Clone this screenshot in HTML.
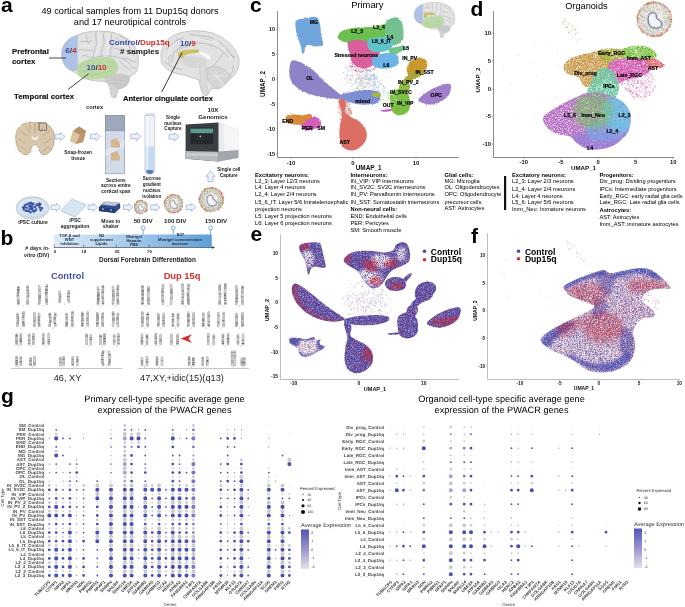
<!DOCTYPE html>
<html><head><meta charset="utf-8"><title>Figure</title>
<style>
html,body{margin:0;padding:0;background:#fff;width:685px;height:607px;overflow:hidden}
svg{display:block;will-change:transform}
text{font-family:"Liberation Sans",sans-serif}
.gp text{text-rendering:geometricPrecision}
</style></head><body>
<svg width="685" height="607" viewBox="0 0 685 607">
<rect width="685" height="607" fill="#fff"/>

<text x="1" y="12" font-size="21" font-weight="bold" fill="#000">a</text>
<text x="0.5" y="245" font-size="21" font-weight="bold" fill="#000">b</text>
<text x="250" y="11.5" font-size="21" font-weight="bold" fill="#000">c</text>
<text x="470.5" y="15.5" font-size="21" font-weight="bold" fill="#000">d</text>
<text x="250.5" y="240.5" font-size="21" font-weight="bold" fill="#000">e</text>
<text x="471" y="243" font-size="21" font-weight="bold" fill="#000">f</text>
<text x="1" y="403" font-size="21" font-weight="bold" fill="#000">g</text>
<text x="130" y="13.9" font-size="9.2" text-anchor="middle" fill="#000">49 cortical samples from 11 Dup15q donors</text>
<text x="130" y="24.9" font-size="9.2" text-anchor="middle" fill="#000">and 17 neurotipical controls</text>
<defs><g id="br1">
<path d="M61.6,55 C61.5,46 66,39 76,35.5 C86,31 98,30.5 108,31.5 C120,33 130,39 135,47 C139,54 139.5,63 137,70 C135,74 132,76 129,77 C130,82 126,88 119,88.5 C117,92 116,96 115.5,97.8 C113.5,98.2 111.8,97 111.2,95 C110.6,91 110,87 108.5,84 C106,82 104,81 100,81 C94,81 88,80 84,78 C79,76 76,73 72,71 C67,69 62,64 61.6,55 Z" fill="#e2e2e2" stroke="#b3b3b3" stroke-width="0.7"/>
<g fill="none" stroke="#b8b8b8" stroke-width="0.8" stroke-linecap="round">
<path d="M104,32 C102,38 106,42 103,47 C101,51 102,54 100,57"/>
<path d="M96,32 C95,38 98,43 95,48 C93,52 95,55 93,58"/>
<path d="M112,33 C110,39 114,44 111,49 C109,53 112,56 110,58"/>
<path d="M80,42 C84,40 88,43 92,41"/><path d="M79,50 C84,48 87,52 92,50"/><path d="M82,56 C86,54 88,58 92,57"/>
<path d="M86,35 C88,38 86,41 89,44"/>
<path d="M116,38 C120,40 122,44 126,43"/><path d="M114,48 C118,50 122,48 127,52"/>
<path d="M128,44 C131,48 130,52 134,55"/><path d="M124,58 C128,58 131,62 136,62"/>
<path d="M120,36 C124,37 127,40 130,41"/><path d="M130,66 C132,68 134,67 136,69"/>
<path d="M92,58 C100,56 108,55 116,57 C122,58 126,60 130,64"/>
<path d="M120,62 C124,64 126,68 130,70"/>
</g>
<g fill="none" stroke="#f4f4f4" stroke-width="0.8" stroke-linecap="round">
<path d="M99,33 C98,39 101,43 98,48 C97,51 98,54 96,56"/><path d="M108,33 C106,39 110,44 107,49 C106,52 107,55 105,57"/>
<path d="M82,46 C85,44 88,47 92,45"/><path d="M119,44 C122,46 125,46 128,48"/><path d="M126,52 C129,55 131,58 134,58"/>
</g>
<path d="M104,75.5 C110,73.5 122,73.5 129,76.5 C130.5,82 126,88 119,88.5 C112,88 106,84 104,75.5 Z" fill="#cdcdcd" stroke="#b5b5b5" stroke-width="0.5"/>
<path d="M105,78 C112,76.5 121,76.5 128.5,79 M106,81 C113,79.5 121,79.5 128,82 M109,84 C114,83 120,83 126,85" stroke="#b3b3b3" stroke-width="0.45" fill="none"/>
<path d="M108.5,83.5 C110,88 111,93 111.4,97 L115.4,97.6 C115.4,93 116,89 117.2,86 Z" fill="#d5d5d5" stroke="#b8b8b8" stroke-width="0.4"/>
<path d="M61.6,55 C61.5,46 66,39 76,35.5 L77.8,35.2 L77.8,70.6 C75,70.9 73.5,71.2 72,71 C67,69 62,64 61.6,55 Z" fill="#a8bfe4" opacity="0.92"/>
<path d="M77.5,66 C79,61 90,58.5 100,57.5 C107,56.5 112,56.5 115,60 C118,63 119,68 117.5,71 C115,75 108,77.5 100,79 C93,80 86,80 81,77.5 C77.5,75.5 76.5,70 77.5,66 Z" fill="#b6d7a0" opacity="0.93"/>
<path d="M80,72 C88,70 98,70 112,66 M84,76 C92,75 102,73 112,71" stroke="#a6c98f" stroke-width="0.5" fill="none"/>
</g></defs>
<use href="#br1"/>
<text x="65.2" y="52.6" font-size="8" font-weight="bold"><tspan fill="#3b4aa8">6</tspan><tspan fill="#333">/</tspan><tspan fill="#d42a2a">4</tspan></text>
<text x="86.5" y="70" font-size="8" font-weight="bold"><tspan fill="#3b4aa8">10</tspan><tspan fill="#333">/</tspan><tspan fill="#d42a2a">10</tspan></text>
<text x="120" y="54" font-size="8.1" font-weight="bold" fill="#111"># samples</text>
<text x="12" y="54" font-size="7.8" font-weight="bold" fill="#111" stroke="#111" stroke-width="0.15">Prefrontal</text>
<text x="12" y="63.5" font-size="7.8" font-weight="bold" fill="#111" stroke="#111" stroke-width="0.15">cortex</text>
<line x1="49" y1="58" x2="66" y2="58" stroke="#333" stroke-width="0.9"/>
<text x="14" y="98.8" font-size="7.8" font-weight="bold" fill="#111" stroke="#111" stroke-width="0.15">Temporal cortex</text>
<line x1="68" y1="89.5" x2="88.6" y2="73.7" stroke="#333" stroke-width="0.9"/>
<g>
<path d="M161,58 C160,46 168,36 180,33 C190,30 202,30 212,33 C224,37 234,45 238,56 C241,64 238,72 232,77 C230,80 227,82 224,84 C222,88 218,90 212,88 C209,92 208,95 206,96 C202,94 200,88 199,80 C194,78 190,77 184,75 C177,74 170,72 166,68 C162,65 161,62 161,58 Z" fill="#e2e2e2" stroke="#b3b3b3" stroke-width="0.7"/>
<path d="M207,68 C214,64 224,67 230,74 C230,80 226,86 219,88 C213,88 208,83 207,76 Z" fill="#d4d4d4" stroke="#bdbdbd" stroke-width="0.5"/>
<path d="M210,70 L224,84 M214,68 L222,86 M208,76 L228,76 M209,82 L228,71" stroke="#f0f0f0" stroke-width="0.6" fill="none"/>
<path d="M198,64 C201,70 200,82 203,95 L208,95 C207,86 206,74 206,64 Z" fill="#dadada" stroke="#c0c0c0" stroke-width="0.5"/>
<path d="M180,58 C186,55 200,56 206,60 C208,64 204,68 196,68 C188,68 182,66 180,58 Z" fill="#d6d6d6"/>
<g fill="none" stroke="#b8b8b8" stroke-width="0.8" stroke-linecap="round">
<path d="M172,62 C171,50 182,43 196,43 C210,43 222,48 229,58"/>
<path d="M166,50 C170,44 176,40 184,37"/><path d="M190,34.5 C198,35.5 206,35.5 214,38.5"/><path d="M218,41 C224,45 230,51 234,59"/>
<path d="M165,62 C169,66 175,68 181,69.5"/><path d="M233,65 C234,70 232,74 229,77"/><path d="M176,52 C179,48 184,47 188,46.5"/>
<path d="M223,53 C221,58 217,62 213,66"/><path d="M170,55 C168,58 168,61 170,64"/><path d="M200,38 C204,40 208,39 212,41"/>
<path d="M176,38 C178,40 182,41 186,40"/><path d="M226,50 C228,54 231,56 235,57"/>
</g>
<g fill="none" stroke="#f3f3f3" stroke-width="0.8" stroke-linecap="round">
<path d="M168,56 C169,48 176,42 186,40"/><path d="M194,39 C202,39 210,40 218,44"/><path d="M222,47 C226,51 229,55 231,60"/>
</g>
<path d="M196,51 C202,51 208,53 211,58 C210,60 208,60 206,58 C203,55 199,54 196,54 Z" fill="#fafafa"/>
<path d="M178,53 C180,50 188,49 199,49.5 L199,53 C190,53 184,54 183,58 L178,57 Z" fill="#c9c16a"/>
</g>
<text x="180" y="46.2" font-size="8" font-weight="bold"><tspan fill="#3b4aa8">10</tspan><tspan fill="#333">/</tspan><tspan fill="#d42a2a">9</tspan></text>
<line x1="161.7" y1="92" x2="182" y2="52.7" stroke="#222" stroke-width="0.9"/>
<text x="123" y="100.7" font-size="7.6" font-weight="bold" fill="#111" stroke="#111" stroke-width="0.15">Anterior cingulate cortex</text>
<text x="109" y="45" font-size="8.1" font-weight="bold"><tspan fill="#3b4aa8">Control</tspan><tspan fill="#333">/</tspan><tspan fill="#d42a2a">Dup15q</tspan></text>
<text x="86" y="109.4" font-size="5.7" font-weight="bold" fill="#222">cortex</text>
<g>
<path d="M35,123 C40,121.5 46,123 49.5,126 C52.5,128.5 54,132 54.2,136 C54.5,140 54,144 52.5,147.5 C51,151 48.5,154 45,154.7 C42,155 40,153 39.3,150 C38.8,147.5 37.5,145 35,144.5 C32.5,145 31.2,147.5 30.7,150 C30,153 28,155 25,154.7 C21.5,154 19,151 17.5,147.5 C16,144 15.5,140 15.8,136 C16,132 17.5,128.5 20.5,126 C24,123 30,121.5 35,123 Z" fill="#d9c7ad" stroke="#b79b78" stroke-width="0.8" filter="url(#rough)"/>
<path d="M35,123.5 L35,133 M21,131 C24,132 24,135 27,136 M49,131 C46,132 46,135 43,136 M18.5,139 C21.5,139 22,142 25,143 M51.5,139 C48.5,139 48,142 45,143 M26,126 C28,128 28,131 30,132 M44,126 C42,128 42,131 40,132 M21,147 C23.5,147 25,149 26,151 M49,147 C46.5,147 45,149 44,151 M30,125 L31,129 M40,125 L39,129" stroke="#b3966f" stroke-width="0.7" fill="none" stroke-linecap="round"/>
<path d="M31.5,135.5 L34.5,138.5 L35,137.2 L35.5,138.5 L38.5,135.5 L37.5,138.8 L35,140.3 L32.5,138.8 Z" fill="#fff"/>
<rect x="39" y="123" width="7.6" height="7.2" fill="none" stroke="#444" stroke-width="0.6"/>
</g>
<path d="M55,134.26 L60.5,134.26 L60.5,132.5 L65,136.5 L60.5,140.5 L60.5,138.74 L55,138.74 Z" fill="#eef3fb" stroke="#8fa9dc" stroke-width="0.7" stroke-linejoin="round"/>
<g>
<path d="M73,131 L79,126.5 L86,131 L83,142 L76,144 L70,141 Z" fill="#c7a57f"/>
<path d="M73,131 L79,126.5 L86,131 L80,135 Z" fill="#b48f68"/>
<path d="M70,141 L73,131 L80,135 L76,144 Z" fill="#dcc4a2"/>
<path d="M80,135 L86,131 L83,142 L76,144 Z" fill="#bb9671"/>
</g>
<text x="78.2" y="153.8" font-size="4.8" font-weight="bold" text-anchor="middle" fill="#222">Snap-frozen</text>
<text x="78.2" y="159.5" font-size="4.8" font-weight="bold" text-anchor="middle" fill="#222">tissue</text>
<path d="M90.5,134.26 L96.0,134.26 L96.0,132.5 L100.5,136.5 L96.0,140.5 L96.0,138.74 L90.5,138.74 Z" fill="#eef3fb" stroke="#8fa9dc" stroke-width="0.7" stroke-linejoin="round"/>
<g>
<rect x="105.3" y="115.3" width="19.3" height="58.5" fill="#d3dae8" stroke="#7f8cab" stroke-width="0.6"/>
<rect x="105.3" y="115.3" width="19.3" height="15.5" fill="#9ea8bd" stroke="#7f8cab" stroke-width="0.6"/>
<path d="M105.5,150 L124.5,140 L124.5,146 L105.5,156 Z" fill="#e9edf4" opacity="0.7"/>
<path d="M111,140 L117,138 L120,144 L120,147.5 L111,147.5 Z" fill="#d3b690"/>
<path d="M111,153 L117,151 L120,157 L120,160.5 L111,160.5 Z" fill="#d3b690"/>
</g>
<text x="115.8" y="181.7" font-size="4.75" font-weight="bold" text-anchor="middle" fill="#222">Sections</text>
<text x="115.8" y="187.2" font-size="4.75" font-weight="bold" text-anchor="middle" fill="#222">across entire</text>
<text x="115.8" y="192.7" font-size="4.75" font-weight="bold" text-anchor="middle" fill="#222">cortical span</text>
<path d="M130.7,134.26 L136.2,134.26 L136.2,132.5 L140.7,136.5 L136.2,140.5 L136.2,138.74 L130.7,138.74 Z" fill="#eef3fb" stroke="#8fa9dc" stroke-width="0.7" stroke-linejoin="round"/>
<g>
<path d="M144.9,115 L144.9,170 C144.9,176 154.7,176 154.7,170 L154.7,115 Z" fill="#eef2f7" stroke="#b3bfcc" stroke-width="0.6"/>
<path d="M145.2,146.5 L154.4,146.5 L154.4,170 C154.4,175.6 145.2,175.6 145.2,170 Z" fill="#c3dbf0"/>
<path d="M146,171 C147,169.5 152.6,169.5 153.6,171 C153,174.8 146.6,174.8 146,171 Z" fill="#5a78b8"/>
<ellipse cx="149.8" cy="114.6" rx="5" ry="1" fill="#dfe6ee" stroke="#b3bfcc" stroke-width="0.5"/>
<rect x="146.5" y="117" width="1.5" height="52" fill="#ffffff" opacity="0.7"/>
</g>
<text x="151.8" y="180.4" font-size="4.6" font-weight="bold" text-anchor="middle" fill="#222">Sucrose</text>
<text x="151.8" y="186.2" font-size="4.6" font-weight="bold" text-anchor="middle" fill="#222">gradient</text>
<text x="151.8" y="192" font-size="4.6" font-weight="bold" text-anchor="middle" fill="#222">nucleus</text>
<text x="151.8" y="197.8" font-size="4.6" font-weight="bold" text-anchor="middle" fill="#222">isolation</text>
<text x="173" y="119" font-size="4.6" font-weight="bold" text-anchor="middle" fill="#222">Single</text>
<text x="173" y="124.7" font-size="4.6" font-weight="bold" text-anchor="middle" fill="#222">nucleus</text>
<text x="173" y="130.4" font-size="4.6" font-weight="bold" text-anchor="middle" fill="#222">Capture</text>
<path d="M169,134.56 L174.5,134.56 L174.5,132.8 L179,136.8 L174.5,140.8 L174.5,139.04000000000002 L169,139.04000000000002 Z" fill="#eef3fb" stroke="#8fa9dc" stroke-width="0.7" stroke-linejoin="round"/>
<text x="213" y="112.3" font-size="6.1" font-weight="bold" text-anchor="middle" fill="#222">10X</text>
<text x="213" y="118.7" font-size="6.1" font-weight="bold" text-anchor="middle" fill="#222">Genomics</text>
<g>
<path d="M218.5,122.4 L223,123 L238.5,129.5 L238.5,158 L218.5,161.6 Z" fill="#e9eaec"/>
<path d="M223,123 L238.5,129.5 L238.5,158 L225,160 Z" fill="#f6f6f6"/>
<path d="M218.5,151.5 L238.5,150 L238.5,158 L218.5,161.6 Z" fill="#a2a7ad"/>
<path d="M185.6,124.5 L218.5,122.4 L218.5,161.6 L185.6,158.8 Z" fill="#3b3e42"/>
<path d="M185.6,151 L218.5,151.8 L218.5,161.6 L185.6,158.8 Z" fill="#b7bbc0"/>
<path d="M186.5,153 L218,153.5 L218,156 L186.5,155.5 Z" fill="#c9cdd1"/>
<rect x="190.5" y="127.5" width="22.5" height="16.6" fill="#25292b"/>
<rect x="190.5" y="128.6" width="22.5" height="4.6" fill="#5b9a91"/>
<circle cx="200.3" cy="136.4" r="3" fill="#1c1f21" stroke="#4b5053" stroke-width="0.5"/>
<circle cx="200.3" cy="136.4" r="0.9" fill="#cfd3d6"/>
</g>
<path d="M207.98,181.5 L207.98,176.25 L206.0,176.25 L210.5,171 L215.0,176.25 L213.02,176.25 L213.02,181.5 Z" fill="#eef3fb" stroke="#8fa9dc" stroke-width="0.7" stroke-linejoin="round"/>
<text x="228.8" y="171.3" font-size="4.7" font-weight="bold" text-anchor="middle" fill="#222">Single cell</text>
<text x="228.8" y="177" font-size="4.7" font-weight="bold" text-anchor="middle" fill="#222">Capture</text>
<g>
<ellipse cx="32.5" cy="208" rx="16.4" ry="11.2" fill="#e6eef6" stroke="#9fb3c8" stroke-width="0.7"/>
<ellipse cx="32.5" cy="206.5" rx="14.6" ry="8.6" fill="#dde8f2" stroke="#b3c4d6" stroke-width="0.5"/>
<path d="M16.2,208 C16.5,214 23,219 32.5,219.2 C42,219 48.5,214 48.8,208 C47,213 40,216 32.5,216 C25,216 18,213 16.2,208 Z" fill="#cbd8e6"/>
</g>
<path d="M33.6 211.6h0M27.7 210.7h0M31.2 206.9h0M42.1 208.2h0M32.7 210.3h0M39.9 207.7h0M36.6 204.7h0M30.5 206.3h0M26.8 204.2h0M24.5 207.2h0M31.8 206.6h0M33.4 203.8h0M32.4 208.7h0M37.6 205.1h0M31.2 203.0h0M30.9 202.9h0M25.9 210.7h0M23.9 209.5h0M35.3 206.7h0M36.1 209.6h0M39.4 207.1h0M29.2 205.8h0M26.8 207.7h0M28.5 211.0h0M24.8 205.3h0M29.0 203.2h0M39.2 203.7h0M31.1 206.0h0M39.3 203.9h0M39.2 205.6h0M32.0 205.5h0M36.7 204.4h0M32.5 209.1h0M39.0 203.7h0M40.6 210.3h0M29.7 208.9h0M30.6 212.2h0M34.5 207.0h0M31.4 207.1h0M31.9 204.9h0M40.3 204.3h0M23.0 207.6h0M32.0 209.1h0M31.6 207.3h0M35.1 210.9h0M30.0 206.5h0" stroke="#3e56a8" stroke-width="2.50" stroke-linecap="round" fill="none"/>
<text x="33" y="224.4" font-size="5.0" font-weight="bold" text-anchor="middle" fill="#222">iPSC culture</text>
<path d="M51,205.06 L56.39,205.06 L56.39,203.3 L60.8,207.3 L56.39,211.3 L56.39,209.54000000000002 L51,209.54000000000002 Z" fill="#eef3fb" stroke="#8fa9dc" stroke-width="0.7" stroke-linejoin="round"/>
<g>
<path d="M60.8,210 L72,199 L86.2,204.5 L75,216.5 Z" fill="#dbe9f4" stroke="#a9c2d8" stroke-width="0.6"/>
<path d="M60.8,210 L75,216.5 L75,217.8 L60.8,211.3 Z" fill="#b9cfe2"/>
<path d="M75,216.5 L86.2,204.5 L86.2,205.8 L75,217.8 Z" fill="#c8dae9"/>
<g stroke="#bcd2e6" stroke-width="0.3">
<line x1="63.5" y1="207.5" x2="77.5" y2="213.8"/><line x1="66" y1="205" x2="80" y2="211.3"/><line x1="68.5" y1="202.5" x2="82.5" y2="208.8"/><line x1="71" y1="200" x2="85" y2="206.3"/>
<line x1="64" y1="211.5" x2="75" y2="200.3"/><line x1="67.5" y1="213" x2="78.5" y2="201.7"/><line x1="71" y1="214.6" x2="82" y2="203.1"/>
</g></g>
<text x="75" y="222.2" font-size="5.0" font-weight="bold" text-anchor="middle" fill="#222">iPSC</text>
<text x="75" y="227.6" font-size="5.0" font-weight="bold" text-anchor="middle" fill="#222">aggregation</text>
<path d="M88,205.06 L93.225,205.06 L93.225,203.3 L97.5,207.3 L93.225,211.3 L93.225,209.54000000000002 L88,209.54000000000002 Z" fill="#eef3fb" stroke="#8fa9dc" stroke-width="0.7" stroke-linejoin="round"/>
<g>
<path d="M99,207 L104,202 L120,203.5 L120.3,208 L115,213 L99,211 Z" fill="#2d4a8c"/>
<path d="M101,204.5 L106,201.5 L119.5,202.8 L115,206 Z" fill="#c3c9d3" stroke="#8f99a8" stroke-width="0.4"/>
<path d="M99,207 L115,209 L115,213 L99,211 Z" fill="#243c74"/>
<circle cx="103" cy="209" r="0.9" fill="#9fb0d0"/><circle cx="111" cy="210" r="0.9" fill="#9fb0d0"/>
</g>
<text x="110.8" y="223" font-size="5.0" font-weight="bold" text-anchor="middle" fill="#222">Move to</text>
<text x="110.8" y="228.4" font-size="5.0" font-weight="bold" text-anchor="middle" fill="#222">shaker</text>
<path d="M123.5,205.06 L128.725,205.06 L128.725,203.3 L133.0,207.3 L128.725,211.3 L128.725,209.54000000000002 L123.5,209.54000000000002 Z" fill="#eef3fb" stroke="#8fa9dc" stroke-width="0.7" stroke-linejoin="round"/>
<g><circle cx="141" cy="207" r="6.8" fill="#f1ece4"/><path d="M135.4 208.7h0M136.5 203.9h0M140.1 203.7h0M145.3 208.2h0M146.3 207.5h0M138.9 202.0h0M135.2 210.2h0M144.7 209.4h0M135.4 203.4h0M147.0 207.8h0M146.7 204.5h0M145.2 205.9h0M141.1 201.8h0M143.6 202.3h0M138.1 201.5h0M138.6 210.4h0M138.4 200.9h0M144.4 211.6h0M137.5 212.6h0M138.7 211.8h0M146.7 208.4h0M141.5 201.8h0M143.6 203.1h0M135.7 205.9h0M136.5 207.8h0M145.1 208.2h0M135.3 209.1h0" stroke="#e8b0a0" stroke-width="0.72" stroke-linecap="round" fill="none"/><path d="M134.8 208.9h0M145.4 208.7h0M135.0 209.4h0M139.6 202.0h0M135.9 209.8h0M141.2 202.7h0M142.3 202.6h0M146.0 210.2h0M139.2 211.5h0M140.3 202.5h0M139.7 213.5h0M136.5 203.6h0M143.1 201.0h0M145.3 210.7h0M137.6 202.8h0M147.4 208.0h0M146.9 205.4h0M136.0 211.0h0M135.1 208.4h0M139.0 212.0h0M144.6 202.2h0M134.7 205.4h0M144.6 204.0h0M144.4 204.1h0M135.0 205.3h0M134.8 206.9h0M143.8 210.7h0M136.3 209.4h0M137.6 211.1h0M140.0 202.2h0M145.1 212.3h0M147.0 205.2h0M140.1 212.9h0M136.8 202.3h0M146.5 205.3h0" stroke="#e0a0c8" stroke-width="0.72" stroke-linecap="round" fill="none"/><path d="M143.3 212.3h0M137.6 202.1h0M136.6 208.5h0M144.6 207.0h0M145.1 211.2h0M144.1 203.5h0M137.2 208.3h0M139.8 212.7h0M147.0 206.3h0M145.7 209.1h0M140.5 200.4h0M144.7 211.7h0M145.8 205.4h0M134.5 205.3h0M143.9 201.9h0M140.3 212.6h0M136.1 202.5h0M137.1 210.8h0M134.6 205.8h0M137.8 212.2h0M136.9 211.7h0" stroke="#bdbdbd" stroke-width="0.72" stroke-linecap="round" fill="none"/><path d="M145.3 209.9h0M136.4 202.5h0M137.4 202.6h0M136.1 208.3h0M137.3 206.7h0M141.9 202.1h0M135.9 211.0h0M143.6 202.3h0M136.6 203.7h0M139.8 211.5h0M145.0 211.0h0M145.8 209.9h0M138.5 209.4h0M135.0 209.4h0M144.4 201.4h0M142.2 200.7h0M146.3 210.8h0M142.5 213.4h0M137.3 207.3h0M146.4 205.1h0M136.8 204.9h0M134.5 205.1h0M134.8 207.3h0M145.9 210.8h0M146.7 203.4h0M145.1 211.6h0M142.7 202.3h0M144.6 206.5h0M146.8 205.8h0M136.8 202.1h0" stroke="#a8d890" stroke-width="0.72" stroke-linecap="round" fill="none"/><path d="M134.6 205.4h0M144.2 208.4h0M142.5 213.5h0M146.2 203.7h0M144.8 203.0h0M136.4 204.8h0M143.2 202.6h0M141.2 201.2h0M144.8 211.1h0M140.5 213.2h0M135.0 206.9h0M139.0 200.5h0M139.0 200.7h0M136.0 210.5h0M142.8 201.7h0M144.8 205.1h0M138.2 204.9h0M137.7 204.4h0M147.6 206.6h0M135.2 205.1h0M137.7 201.6h0M145.9 207.4h0M136.4 208.3h0" stroke="#8cc878" stroke-width="0.72" stroke-linecap="round" fill="none"/><path d="M135.8 203.3h0M140.7 213.3h0M145.1 207.0h0M142.8 200.6h0M144.9 203.3h0M142.1 211.3h0M135.3 209.0h0M143.2 211.5h0M136.8 211.1h0M146.7 206.2h0M137.6 208.6h0M141.7 213.2h0M145.2 204.0h0M145.8 210.3h0M139.3 201.2h0M136.7 205.0h0M144.5 210.9h0M142.3 211.5h0M139.6 211.0h0M147.4 209.1h0M138.2 210.6h0M142.3 201.1h0" stroke="#90b8e0" stroke-width="0.72" stroke-linecap="round" fill="none"/><path d="M135.7 210.8h0M134.4 208.3h0M139.7 210.3h0M136.3 209.6h0M141.0 203.0h0M144.9 202.5h0M145.6 202.7h0M136.1 207.1h0M138.6 202.9h0M146.7 210.5h0M137.3 206.1h0M146.1 204.6h0M136.8 206.3h0M143.8 210.1h0M146.3 210.7h0M139.1 210.7h0M140.8 200.6h0M141.7 200.7h0M137.1 202.2h0M140.7 202.1h0M134.7 206.8h0M145.8 203.7h0M135.9 211.4h0M135.3 205.5h0M146.2 205.2h0M137.3 203.0h0M145.9 208.7h0M146.9 209.9h0M137.6 204.4h0M136.1 203.4h0" stroke="#9fd086" stroke-width="0.72" stroke-linecap="round" fill="none"/><path d="M136.8 209.3h0M145.4 201.9h0M145.4 210.6h0M141.5 213.2h0M146.3 209.9h0M135.3 206.3h0M140.9 210.5h0M138.2 212.8h0M143.7 204.3h0M138.0 211.6h0M141.3 201.5h0M134.6 206.1h0M139.5 211.2h0M142.7 211.5h0M143.1 211.0h0M141.8 213.7h0M146.0 207.3h0M136.7 203.9h0M136.0 207.5h0M135.3 207.7h0" stroke="#d8b0d8" stroke-width="0.72" stroke-linecap="round" fill="none"/><path d="M145.5 202.7h0M147.0 209.4h0M135.0 210.0h0M146.3 211.0h0M146.7 209.8h0M138.0 201.1h0M136.6 202.2h0M134.7 207.9h0M137.2 212.6h0M144.3 201.6h0M146.0 211.7h0M136.2 202.2h0M142.5 213.4h0M140.7 213.8h0M136.4 211.9h0M147.5 206.6h0M134.5 205.0h0M146.8 203.9h0M136.7 211.6h0M145.5 202.5h0M146.8 210.3h0M134.3 207.6h0M138.9 213.5h0M146.7 209.9h0M137.7 201.6h0M138.8 213.4h0M138.8 200.9h0M145.1 212.1h0M140.0 200.6h0M146.0 211.5h0M134.8 204.1h0M147.4 204.5h0M134.7 209.6h0M138.8 213.1h0M135.4 211.1h0M146.1 203.1h0M136.8 212.0h0M136.7 211.9h0M136.1 211.1h0M134.7 204.3h0M134.4 205.3h0M135.1 204.5h0M141.4 200.2h0M139.8 213.1h0M134.4 206.3h0M134.7 204.2h0M137.0 201.5h0M147.1 209.6h0M142.5 200.9h0M146.9 210.3h0M146.1 203.3h0M136.8 202.3h0M140.8 200.3h0M141.2 213.4h0M141.6 200.4h0M141.6 200.5h0M137.4 212.9h0M137.9 201.2h0M134.4 205.4h0M139.2 200.4h0M135.2 210.6h0" stroke="#d9603c" stroke-width="0.60" stroke-linecap="round" fill="none"/><path d="M138.95,205.53 C139.53,204.37 141.08,204.18 141.58,205.15 C141.89,205.92 141.43,206.85 142.62,207.27 C143.78,207.73 144.17,209.20 143.20,209.97 C141.81,210.82 139.65,210.21 139.03,208.82 C138.49,207.73 138.53,206.42 138.95,205.53 Z" fill="none" stroke="#a8c0e4" stroke-width="1.24" opacity="0.85"/><path d="M138.95,205.53 C139.53,204.37 141.08,204.18 141.58,205.15 C141.89,205.92 141.43,206.85 142.62,207.27 C143.78,207.73 144.17,209.20 143.20,209.97 C141.81,210.82 139.65,210.21 139.03,208.82 C138.49,207.73 138.53,206.42 138.95,205.53 Z" fill="#f2f5fa" stroke="#7a5a52" stroke-width="0.35"/></g>
<path d="M150.4,205.06 L155.68,205.06 L155.68,203.3 L160.0,207.3 L155.68,211.3 L155.68,209.54000000000002 L150.4,209.54000000000002 Z" fill="#eef3fb" stroke="#8fa9dc" stroke-width="0.7" stroke-linejoin="round"/>
<g><circle cx="173.5" cy="203.7" r="9.4" fill="#f1ece4"/><path d="M165.2 205.0h0M176.5 207.4h0M166.2 203.1h0M182.2 200.7h0M173.6 209.7h0M169.5 200.1h0M180.7 198.6h0M168.6 201.0h0M175.2 212.7h0M168.4 210.7h0M173.4 209.0h0M166.6 209.5h0M179.2 197.5h0M164.6 200.9h0M168.2 198.1h0M166.4 207.4h0M175.8 196.6h0M182.5 201.0h0M172.4 194.8h0M168.5 211.3h0M168.4 208.6h0M181.2 200.7h0M177.4 198.9h0M165.1 203.6h0M180.8 200.4h0M164.9 201.2h0M168.2 206.8h0M179.2 197.5h0M177.5 211.7h0M175.9 208.1h0M170.8 212.3h0M179.2 210.6h0M166.8 198.2h0M174.9 211.0h0M182.3 206.7h0M166.2 202.1h0M168.7 208.7h0M174.9 196.0h0M182.2 206.3h0M181.2 204.0h0M165.6 198.9h0M170.2 198.3h0M180.2 199.2h0M175.8 195.2h0M180.3 210.0h0M177.4 211.7h0M179.0 197.1h0M166.8 202.9h0M171.4 195.6h0M166.5 207.7h0M175.5 197.8h0M165.4 202.8h0M169.3 210.4h0M182.0 206.2h0M179.6 199.7h0M178.8 199.6h0M177.1 197.7h0M167.3 204.7h0M164.5 205.0h0" stroke="#90b8e0" stroke-width="0.72" stroke-linecap="round" fill="none"/><path d="M165.2 204.6h0M170.2 198.4h0M181.4 208.8h0M171.9 211.3h0M174.1 213.1h0M169.2 198.5h0M166.2 204.2h0M181.0 201.0h0M170.0 212.2h0M170.1 207.5h0M168.8 211.1h0M166.7 199.2h0M177.3 208.4h0M169.5 210.0h0M168.9 199.8h0M179.5 203.4h0M181.1 198.6h0M170.6 198.0h0M168.2 197.5h0M180.4 200.8h0M174.0 211.7h0M166.3 209.6h0M173.0 211.7h0M168.9 205.7h0M181.6 208.0h0M179.6 204.5h0M169.9 208.2h0M165.1 202.9h0M168.1 200.3h0M173.3 209.3h0M181.0 205.8h0M179.1 211.2h0M177.7 210.1h0M168.6 199.7h0M180.6 199.9h0M176.8 211.3h0M174.9 195.7h0M177.9 211.9h0M165.5 206.2h0M175.6 211.3h0M178.8 208.9h0M179.0 210.7h0M174.1 209.0h0M177.2 211.0h0M179.3 202.9h0M172.8 210.7h0M172.2 196.3h0M167.1 200.4h0M167.5 198.5h0M175.5 212.0h0M174.9 196.3h0M176.5 207.9h0M173.4 211.9h0M178.1 207.1h0" stroke="#e8b0a0" stroke-width="0.72" stroke-linecap="round" fill="none"/><path d="M170.5 196.0h0M175.2 198.2h0M165.3 203.8h0M174.2 197.1h0M177.3 211.7h0M181.4 203.6h0M168.4 203.0h0M167.9 198.2h0M165.0 205.9h0M165.9 202.7h0M177.6 209.2h0M178.8 208.1h0M179.0 196.4h0M178.2 206.5h0M178.2 201.6h0M166.7 198.7h0M169.1 209.3h0M168.9 206.5h0M181.4 201.9h0M164.8 202.4h0M168.4 209.0h0M166.2 200.5h0M180.4 199.6h0M169.5 196.2h0M176.0 194.9h0M178.6 195.9h0M179.2 203.8h0M179.9 207.0h0M181.2 199.9h0M170.5 211.9h0M175.9 212.3h0M168.4 206.0h0M174.2 195.7h0M167.3 209.2h0M174.2 195.4h0M180.8 205.4h0M173.8 195.4h0M171.3 198.3h0M181.7 203.4h0M180.7 198.4h0M169.3 208.7h0M178.9 208.1h0M179.8 210.6h0M180.2 201.1h0M164.5 203.8h0M180.2 209.1h0M168.6 211.2h0M180.6 206.7h0" stroke="#8cc878" stroke-width="0.72" stroke-linecap="round" fill="none"/><path d="M168.6 209.1h0M177.1 196.1h0M170.7 198.4h0M180.0 200.3h0M175.8 195.4h0M169.9 197.4h0M177.9 199.8h0M177.6 210.3h0M178.0 198.2h0M182.1 206.0h0M168.3 209.6h0M181.0 207.3h0M174.2 209.2h0M168.2 208.2h0M165.8 206.0h0M179.2 201.2h0M174.8 197.8h0M174.3 195.7h0M165.5 207.3h0M174.0 211.7h0M169.3 197.1h0M166.7 206.7h0M178.3 197.7h0M170.8 210.2h0M176.1 210.8h0M178.9 204.7h0M165.9 203.8h0M166.3 201.5h0M180.5 205.7h0M180.1 197.1h0M167.6 198.8h0M177.4 211.2h0M179.8 197.2h0M168.8 203.5h0M172.1 211.2h0M174.5 210.4h0M167.1 209.0h0M181.1 205.6h0M169.0 201.9h0M181.0 206.6h0M178.3 200.4h0M180.6 202.8h0" stroke="#e0a0c8" stroke-width="0.72" stroke-linecap="round" fill="none"/><path d="M181.8 206.9h0M165.4 201.6h0M179.8 205.5h0M173.6 197.0h0M174.0 196.1h0M180.8 198.7h0M168.7 202.3h0M164.5 204.2h0M180.4 205.6h0M177.5 210.4h0M176.1 210.1h0M166.4 203.2h0M166.8 209.7h0M170.9 196.9h0M177.8 199.9h0M178.8 197.3h0M171.6 194.5h0M182.0 203.1h0M173.2 197.5h0M166.9 208.3h0M165.0 207.1h0M164.7 203.1h0M165.3 207.0h0M173.0 197.0h0M180.8 204.7h0M169.3 199.7h0M178.2 198.3h0M182.6 206.1h0M171.9 211.8h0M182.6 204.9h0M179.6 209.6h0M166.9 197.8h0M181.5 207.2h0M180.0 210.0h0M170.5 195.3h0M181.6 204.2h0M167.4 209.9h0M170.2 196.6h0M167.7 201.4h0M172.7 196.9h0M165.0 202.9h0M169.4 211.4h0M168.8 197.3h0M170.0 200.4h0" stroke="#a8d890" stroke-width="0.72" stroke-linecap="round" fill="none"/><path d="M164.6 202.9h0M167.8 203.4h0M169.7 196.9h0M168.9 209.5h0M182.3 205.3h0M178.5 204.7h0M167.6 206.9h0M181.8 202.7h0M180.3 199.4h0M169.1 199.5h0M170.6 195.5h0M176.8 197.9h0M178.0 196.8h0M165.3 205.4h0M181.7 201.4h0M169.6 209.2h0M175.5 209.4h0M173.3 196.9h0M169.3 211.0h0M178.7 211.0h0M167.8 200.7h0M176.8 208.8h0M165.2 200.3h0M180.1 203.3h0M172.0 211.5h0M180.1 202.8h0M182.3 203.6h0M179.0 198.4h0M169.6 195.5h0M180.1 197.9h0M181.3 199.5h0M179.2 209.8h0M169.2 208.4h0M177.3 210.2h0M179.0 203.2h0M177.4 210.8h0M180.0 197.0h0M182.4 205.2h0M166.7 197.8h0M168.8 208.2h0M180.3 208.1h0M172.0 210.1h0M167.8 210.4h0M175.1 212.8h0M175.7 195.3h0M169.1 198.0h0M176.2 212.6h0M170.5 212.1h0M175.2 196.0h0M177.2 195.5h0M164.6 205.4h0M172.5 196.0h0M181.9 201.4h0M172.2 212.4h0M181.2 204.7h0M164.9 202.5h0M176.6 196.0h0M166.3 201.3h0" stroke="#9fd086" stroke-width="0.72" stroke-linecap="round" fill="none"/><path d="M179.3 208.6h0M164.7 201.5h0M182.5 202.3h0M169.7 210.0h0M169.0 201.8h0M169.7 211.3h0M177.2 210.5h0M167.9 208.7h0M182.6 202.6h0M165.9 206.2h0M172.0 196.9h0M173.7 194.7h0M173.2 196.6h0M179.9 208.9h0M176.2 198.4h0M179.2 206.1h0M165.7 200.1h0M169.7 196.8h0M182.4 202.8h0M175.8 210.9h0M177.9 211.5h0M169.9 198.7h0M172.1 195.5h0M168.8 206.1h0M181.6 201.8h0M182.1 204.2h0M172.4 197.8h0M171.4 198.3h0M165.4 204.0h0M181.9 206.5h0M170.4 208.7h0M169.7 195.3h0M165.7 201.9h0M175.3 210.3h0M178.7 208.4h0M167.2 197.2h0M172.6 211.5h0M173.2 209.8h0M164.4 206.1h0M166.7 206.1h0M166.2 207.1h0M179.5 207.0h0M166.0 203.4h0M167.6 197.8h0M165.9 203.6h0M170.8 208.5h0" stroke="#bdbdbd" stroke-width="0.72" stroke-linecap="round" fill="none"/><path d="M182.6 201.8h0M171.8 198.8h0M181.7 199.7h0M178.5 199.8h0M171.6 197.3h0M171.4 198.0h0M168.1 204.7h0M170.2 195.8h0M180.8 204.1h0M178.5 196.8h0M181.5 202.3h0M174.9 194.7h0M171.5 212.7h0M166.4 208.0h0M176.7 209.5h0M173.4 194.7h0M178.0 211.1h0M181.9 199.6h0M176.0 196.2h0M180.2 206.6h0M177.3 210.8h0M177.6 196.8h0M181.1 207.5h0M167.7 209.2h0M175.8 196.0h0M177.4 195.9h0M176.0 194.7h0M165.3 202.8h0M173.5 211.2h0M176.8 208.3h0M174.0 196.3h0M179.4 203.6h0M174.4 210.8h0M179.4 208.5h0M174.5 195.2h0M178.3 198.9h0M180.8 201.8h0M179.1 201.8h0M165.1 202.9h0M181.4 199.9h0M181.1 200.8h0M175.3 212.7h0M180.0 207.2h0M166.0 202.2h0M169.9 197.3h0M173.0 194.6h0" stroke="#d8b0d8" stroke-width="0.72" stroke-linecap="round" fill="none"/><path d="M177.6 211.4h0M177.9 211.8h0M180.2 209.3h0M167.1 209.6h0M170.2 212.3h0M174.9 213.0h0M172.9 212.7h0M165.7 209.0h0M182.5 206.5h0M181.4 209.1h0M164.7 200.5h0M164.3 202.8h0M170.1 195.6h0M176.8 212.6h0M175.2 212.4h0M182.3 206.7h0M175.5 195.3h0M179.2 197.0h0M164.4 203.9h0M173.4 212.7h0M164.1 204.2h0M173.3 212.6h0M182.3 202.4h0M181.1 209.5h0M181.4 199.7h0M164.2 202.0h0M169.6 211.8h0M182.3 203.9h0M166.4 198.0h0M179.4 196.8h0M172.3 212.6h0M179.3 210.7h0M170.4 195.5h0M165.2 198.9h0M170.6 195.3h0M168.1 196.8h0M180.8 209.7h0M171.1 194.8h0M165.2 200.3h0M178.3 195.9h0M177.7 195.4h0M168.7 211.8h0M168.1 211.2h0M178.8 195.7h0M167.1 197.6h0M178.5 211.7h0M170.4 211.9h0M165.5 199.4h0M172.9 194.9h0M164.0 203.0h0M177.7 211.7h0M166.6 209.1h0M179.0 210.7h0M165.1 201.0h0M167.5 197.0h0M170.6 212.7h0M173.0 194.6h0M172.9 212.8h0M167.9 196.2h0M169.0 196.3h0M178.7 211.7h0M164.8 201.1h0M180.6 209.9h0M177.6 195.8h0M172.3 212.3h0M170.3 212.3h0M165.3 206.5h0M180.7 208.8h0M178.1 195.3h0M179.4 196.7h0M167.3 210.9h0M173.8 194.5h0M170.6 194.6h0M164.7 202.3h0M172.5 194.2h0M174.8 212.6h0M174.2 194.3h0M182.4 206.7h0M173.9 212.5h0M182.2 206.4h0M165.1 206.3h0M171.5 195.1h0M182.1 199.5h0M169.2 211.2h0" stroke="#d9603c" stroke-width="0.60" stroke-linecap="round" fill="none"/><path d="M170.67,201.67 C171.47,200.07 173.61,199.80 174.30,201.14 C174.73,202.20 174.09,203.49 175.74,204.07 C177.35,204.71 177.88,206.74 176.54,207.81 C174.62,208.99 171.63,208.13 170.78,206.21 C170.03,204.71 170.08,202.90 170.67,201.67 Z" fill="none" stroke="#a8c0e4" stroke-width="1.71" opacity="0.85"/><path d="M170.67,201.67 C171.47,200.07 173.61,199.80 174.30,201.14 C174.73,202.20 174.09,203.49 175.74,204.07 C177.35,204.71 177.88,206.74 176.54,207.81 C174.62,208.99 171.63,208.13 170.78,206.21 C170.03,204.71 170.08,202.90 170.67,201.67 Z" fill="#f2f5fa" stroke="#7a5a52" stroke-width="0.48"/></g>
<path d="M186.2,205.06 L191.48,205.06 L191.48,203.3 L195.79999999999998,207.3 L191.48,211.3 L191.48,209.54000000000002 L186.2,209.54000000000002 Z" fill="#eef3fb" stroke="#8fa9dc" stroke-width="0.7" stroke-linejoin="round"/>
<g><circle cx="211.3" cy="199.7" r="12.3" fill="#f1ece4"/><path d="M210.7 210.8h0M216.6 189.6h0M207.5 189.8h0M200.8 203.8h0M202.1 194.4h0M203.3 207.6h0M221.0 203.6h0M221.4 202.5h0M218.2 198.3h0M219.5 193.1h0M221.1 192.8h0M205.0 204.9h0M201.0 200.9h0M221.6 201.5h0M210.9 207.7h0M205.4 195.6h0M218.9 203.9h0M214.7 205.1h0M219.7 202.4h0M214.7 188.4h0M201.0 198.5h0M220.3 206.0h0M201.9 202.9h0M208.3 189.2h0M211.1 192.0h0M200.8 200.2h0M201.6 206.5h0M222.1 204.0h0M203.3 198.4h0M214.5 206.2h0M205.9 188.7h0M201.1 203.2h0M201.3 199.5h0M208.6 188.4h0M205.0 189.5h0M218.7 205.8h0M219.1 197.2h0M213.4 207.0h0M220.8 204.6h0M204.1 200.6h0M211.0 190.0h0M221.2 206.7h0M221.1 200.7h0M221.4 199.4h0M220.3 204.2h0M223.4 200.6h0M207.9 206.3h0M202.2 204.8h0M217.7 208.5h0M202.4 191.6h0M213.1 207.9h0M209.6 207.4h0M222.7 202.9h0M205.0 191.5h0M203.6 209.0h0M206.9 207.5h0M203.9 205.8h0M201.2 202.9h0M218.6 195.6h0M202.0 201.7h0M214.5 206.2h0M219.4 198.6h0M220.7 197.0h0M216.6 194.0h0M202.8 193.6h0M202.6 193.5h0M222.8 197.8h0M204.5 194.3h0M220.6 196.6h0M209.4 191.4h0M219.4 201.2h0M221.1 196.9h0M216.5 190.2h0M207.6 195.4h0M205.4 210.2h0M208.9 207.0h0M218.4 199.8h0M219.7 205.7h0M208.9 192.8h0M217.1 189.7h0M209.0 208.8h0M213.3 189.6h0M213.8 188.8h0M216.9 191.9h0M203.8 191.2h0M202.9 205.9h0M207.3 208.0h0M206.1 207.6h0M202.9 206.4h0M204.9 193.2h0M201.7 206.8h0M201.3 195.6h0M199.7 202.4h0M218.0 209.9h0M204.5 208.2h0M220.4 201.9h0M199.7 199.2h0M206.9 193.8h0M206.1 208.7h0M200.0 204.4h0M203.9 206.0h0M220.0 207.3h0M206.9 209.8h0M214.0 210.5h0M218.1 209.0h0M216.3 209.9h0M201.6 198.0h0M210.8 206.5h0" stroke="#bdbdbd" stroke-width="0.72" stroke-linecap="round" fill="none"/><path d="M204.9 190.7h0M213.7 191.1h0M201.2 196.4h0M200.4 198.3h0M210.6 190.8h0M204.8 209.3h0M219.8 202.3h0M202.4 197.9h0M205.5 209.1h0M199.3 197.2h0M218.9 194.7h0M205.3 204.1h0M203.3 196.8h0M216.1 193.0h0M204.6 205.2h0M208.1 189.6h0M202.8 207.0h0M219.2 205.9h0M218.7 190.5h0M220.2 204.4h0M212.7 188.7h0M218.4 198.4h0M220.4 203.6h0M216.5 193.8h0M201.9 205.6h0M216.3 208.7h0M205.2 208.7h0M208.3 208.0h0M206.0 206.5h0M216.7 193.8h0M217.1 208.6h0M209.4 210.0h0M216.2 191.6h0M219.8 207.8h0M205.2 207.2h0M204.0 209.6h0M223.3 199.2h0M219.0 207.3h0M199.6 201.8h0M199.2 197.9h0M206.5 189.0h0M208.1 192.9h0M218.2 195.7h0M209.8 206.9h0M211.2 211.9h0M206.3 205.9h0M209.8 208.7h0M206.8 193.8h0M222.6 197.6h0M207.4 192.0h0M222.5 202.5h0M220.8 202.9h0M201.8 199.1h0M220.7 195.2h0M202.4 200.5h0M200.1 199.8h0M221.6 205.8h0M213.3 209.9h0M220.0 206.3h0M212.6 187.7h0M204.3 191.7h0M221.4 205.5h0M199.6 199.9h0M200.2 197.9h0M201.4 201.2h0M216.0 207.6h0M206.3 210.1h0M213.2 192.2h0M220.3 193.3h0M200.9 196.3h0M219.7 201.7h0M205.3 194.8h0M204.4 191.4h0" stroke="#e0a0c8" stroke-width="0.72" stroke-linecap="round" fill="none"/><path d="M205.9 193.1h0M223.0 199.2h0M209.0 207.6h0M222.8 197.6h0M207.2 208.9h0M221.5 206.1h0M217.7 189.6h0M217.3 196.3h0M212.3 206.2h0M209.3 188.8h0M214.8 189.9h0M207.4 190.8h0M214.8 211.4h0M211.3 188.7h0M205.2 190.2h0M219.6 205.8h0M208.9 189.7h0M214.5 189.4h0M222.6 199.8h0M203.6 201.3h0M220.0 191.8h0M221.0 200.8h0M222.9 201.8h0M215.4 190.3h0M215.8 188.8h0M214.4 193.5h0M203.3 198.6h0M218.2 201.7h0M206.1 188.9h0M215.6 193.2h0M223.0 203.1h0M200.2 198.0h0M214.1 208.3h0M215.8 192.0h0M207.6 206.0h0M218.2 207.1h0M203.8 198.0h0M206.4 189.6h0M207.5 210.7h0M201.7 196.2h0M209.2 210.0h0M202.7 191.5h0M207.2 209.2h0M212.9 209.5h0M220.6 206.7h0M202.8 206.2h0M199.7 201.4h0M199.6 203.3h0M206.9 191.6h0M220.6 207.6h0M202.7 200.5h0M206.7 191.0h0M215.6 191.3h0M216.4 189.0h0M221.2 204.3h0M215.1 208.5h0M222.2 201.6h0M203.9 202.8h0M204.5 192.8h0M202.4 205.5h0M218.6 192.8h0M222.5 200.9h0M211.1 210.1h0M202.7 197.0h0M201.6 203.3h0M223.3 197.6h0M202.2 207.9h0M213.9 211.0h0M203.1 198.6h0M220.4 203.5h0M202.8 191.6h0M208.1 206.9h0" stroke="#a8d890" stroke-width="0.72" stroke-linecap="round" fill="none"/><path d="M202.8 198.0h0M219.3 191.3h0M206.0 191.8h0M211.1 209.8h0M203.5 198.4h0M218.0 206.1h0M215.2 191.9h0M202.3 197.8h0M214.5 205.2h0M217.8 210.0h0M219.9 206.2h0M210.2 189.8h0M220.5 195.6h0M212.5 187.7h0M220.9 206.0h0M203.5 203.9h0M218.8 202.0h0M218.6 209.6h0M212.7 188.0h0M218.2 198.5h0M203.3 205.5h0M201.2 198.4h0M223.3 200.8h0M202.7 203.0h0M205.3 203.9h0M206.6 189.4h0M212.0 187.5h0M214.8 193.5h0M221.3 203.9h0M215.7 190.2h0M211.4 190.3h0M220.2 194.4h0M221.0 197.0h0M223.0 202.9h0M221.1 197.0h0M212.7 191.9h0M201.5 199.5h0M222.3 197.5h0M221.8 206.1h0M222.4 196.3h0M202.2 205.1h0M202.3 201.8h0M217.2 190.8h0M218.5 208.8h0M204.3 193.7h0M220.2 207.3h0M217.6 202.7h0M208.9 192.3h0M213.9 190.2h0M205.0 189.6h0M217.2 207.9h0M203.9 209.2h0M202.3 195.3h0M207.7 192.9h0M201.1 196.3h0M202.8 203.5h0M214.5 210.3h0M217.4 208.7h0M218.6 193.0h0M202.9 202.7h0M206.4 210.4h0M205.7 208.0h0M218.0 203.3h0M218.8 205.3h0M203.6 196.3h0M213.1 205.6h0M213.3 190.0h0M219.1 207.7h0M217.0 205.7h0M221.1 197.8h0M207.9 191.1h0M200.5 194.7h0M206.2 210.3h0M211.7 192.6h0M207.5 206.6h0M202.7 205.2h0M219.4 199.8h0M208.4 207.2h0M219.2 194.1h0M211.4 208.2h0M199.8 203.2h0M217.3 202.7h0M217.1 205.4h0" stroke="#d8b0d8" stroke-width="0.72" stroke-linecap="round" fill="none"/><path d="M219.1 201.2h0M221.2 199.8h0M209.8 191.2h0M204.7 191.4h0M199.6 198.1h0M212.8 208.2h0M214.0 208.8h0M211.9 188.9h0M214.6 208.9h0M210.6 209.3h0M205.6 201.5h0M214.6 193.9h0M221.8 205.5h0M208.1 210.1h0M211.7 210.2h0M212.2 210.0h0M203.4 206.2h0M201.7 204.1h0M218.6 205.8h0M206.6 208.1h0M201.3 195.5h0M204.2 193.1h0M201.8 206.5h0M210.8 187.8h0M201.6 204.2h0M202.2 195.8h0M220.4 204.8h0M204.6 201.2h0M214.4 188.8h0M204.7 196.9h0M208.7 210.9h0M221.5 197.0h0M206.2 197.1h0M202.7 195.1h0M223.4 200.5h0M205.1 191.3h0M217.2 190.6h0M217.4 195.8h0M222.7 198.0h0M218.6 198.8h0M218.2 209.6h0M202.9 206.8h0M212.0 189.9h0M220.1 204.3h0M199.5 202.6h0M202.2 207.3h0M223.1 202.0h0M211.3 211.8h0M204.5 199.1h0M207.5 190.0h0M205.4 208.8h0M206.6 207.0h0M199.2 199.9h0M209.8 210.3h0M222.7 197.6h0M214.2 192.5h0M209.6 210.0h0M210.5 211.3h0M203.1 199.0h0M223.0 199.5h0M206.1 191.6h0M210.4 191.0h0M221.0 204.4h0M218.9 193.7h0M199.3 199.6h0M222.7 198.6h0M209.8 190.3h0M199.9 196.0h0M221.0 197.4h0M207.6 192.1h0M220.8 203.0h0M219.1 208.8h0M202.8 199.7h0M217.0 207.9h0M203.9 191.0h0M218.2 207.6h0M202.0 195.4h0M200.6 196.7h0M221.4 202.8h0M209.1 207.5h0M218.2 193.8h0M220.1 206.0h0M222.1 202.9h0M214.7 209.4h0M219.7 196.8h0M203.3 207.8h0M203.2 196.3h0M222.0 205.2h0M205.6 206.1h0M219.5 190.9h0M200.1 196.9h0M201.6 195.5h0M217.6 189.4h0M222.0 200.6h0M207.8 191.6h0M217.0 205.8h0M212.1 207.5h0" stroke="#8cc878" stroke-width="0.72" stroke-linecap="round" fill="none"/><path d="M199.9 200.6h0M208.9 192.1h0M204.2 189.8h0M206.0 193.4h0M218.0 194.8h0M212.8 189.1h0M202.1 194.2h0M219.5 190.5h0M213.8 210.8h0M205.1 190.8h0M215.2 189.1h0M222.7 203.1h0M211.6 207.9h0M203.5 205.5h0M215.7 210.9h0M217.5 201.2h0M211.8 207.5h0M219.9 204.4h0M208.7 211.0h0M200.3 201.6h0M214.6 188.8h0M221.2 199.8h0M214.2 189.4h0M217.7 207.3h0M219.2 207.5h0M201.6 201.7h0M210.5 211.2h0M204.6 192.9h0M218.1 205.1h0M204.6 194.3h0M218.7 201.1h0M202.0 201.8h0M220.5 197.7h0M203.5 198.5h0M201.8 192.6h0M209.9 188.0h0M218.8 204.0h0M206.6 209.6h0M211.9 210.1h0M217.5 199.7h0M205.8 189.3h0M207.8 193.4h0M203.8 205.8h0M214.7 206.9h0M222.3 199.4h0M217.3 207.4h0M208.6 210.8h0M220.9 205.3h0M221.5 193.8h0M222.7 198.7h0M201.0 198.7h0M217.7 208.9h0M204.9 208.9h0M222.4 196.5h0M213.2 210.3h0M216.9 192.5h0M221.2 203.6h0M205.1 210.1h0M206.3 208.1h0M215.2 191.4h0M202.7 197.7h0M200.2 194.5h0M207.3 207.3h0M212.5 188.6h0M216.0 194.4h0M217.0 189.7h0M220.0 203.8h0M222.3 196.4h0M220.6 195.7h0M208.4 205.9h0M214.0 192.0h0M204.0 191.0h0M204.2 192.0h0M205.1 189.5h0M218.4 194.8h0M200.8 205.8h0M212.8 210.2h0M219.6 204.4h0M202.9 202.0h0M202.1 198.4h0M202.1 201.7h0M212.9 187.7h0M205.3 195.0h0M219.6 193.8h0" stroke="#9fd086" stroke-width="0.72" stroke-linecap="round" fill="none"/><path d="M205.6 189.2h0M209.0 207.8h0M210.5 190.8h0M214.7 211.0h0M201.9 194.5h0M210.7 210.4h0M200.8 201.0h0M215.5 205.4h0M204.0 194.2h0M202.1 191.8h0M219.5 196.3h0M200.6 194.5h0M216.1 189.0h0M201.0 196.0h0M220.8 200.9h0M216.9 195.6h0M220.5 197.2h0M213.3 207.4h0M219.1 202.2h0M219.5 202.7h0M218.1 205.0h0M213.5 210.6h0M204.5 204.7h0M201.8 202.9h0M217.7 189.3h0M221.2 193.2h0M199.5 201.8h0M215.8 208.3h0M219.1 202.0h0M221.1 196.3h0M201.6 194.0h0M200.3 198.9h0M205.3 191.6h0M204.7 190.4h0M204.3 206.1h0M220.5 198.7h0M205.7 208.8h0M202.2 201.3h0M212.3 188.7h0M221.1 194.9h0M217.7 208.5h0M207.9 192.2h0M204.6 189.9h0M215.6 194.1h0M219.8 196.2h0M212.7 191.0h0M199.5 200.3h0M205.6 191.0h0M202.8 196.7h0M221.2 202.4h0M218.4 206.0h0M205.2 209.2h0M212.2 188.7h0M220.0 196.4h0M208.3 209.8h0M208.6 210.1h0M216.4 191.6h0M201.4 205.7h0M205.7 209.6h0M206.3 196.4h0M199.8 196.4h0M208.4 187.9h0M203.8 193.4h0M211.5 209.7h0M200.6 194.4h0M201.2 202.0h0M209.3 208.6h0M200.3 197.2h0M211.1 187.4h0M209.6 191.6h0M220.8 192.4h0M207.0 194.1h0M213.1 209.7h0M213.1 209.6h0M218.6 202.6h0M211.5 210.3h0" stroke="#90b8e0" stroke-width="0.72" stroke-linecap="round" fill="none"/><path d="M205.0 204.6h0M212.9 209.9h0M201.0 195.3h0M220.7 200.0h0M201.6 195.9h0M206.0 192.1h0M217.9 206.6h0M199.4 198.2h0M206.9 211.2h0M200.7 205.9h0M204.4 204.1h0M214.6 208.8h0M221.0 206.8h0M203.3 193.1h0M218.2 192.9h0M215.8 189.1h0M218.0 207.4h0M213.4 189.9h0M218.0 192.2h0M221.8 197.6h0M214.7 210.5h0M207.2 188.2h0M205.0 205.5h0M210.3 210.9h0M203.5 203.8h0M219.0 208.8h0M211.1 189.5h0M220.9 204.5h0M207.9 210.5h0M216.6 189.3h0M210.9 211.7h0M218.5 190.9h0M215.5 194.3h0M199.8 200.7h0M222.0 197.0h0M212.9 207.8h0M214.8 189.1h0M219.6 202.2h0M222.6 199.7h0M200.5 201.9h0M201.5 195.4h0M212.0 206.6h0M211.1 210.4h0M219.0 203.6h0M199.6 197.1h0M211.5 206.8h0M204.4 199.2h0M223.0 196.5h0M204.1 206.1h0M217.2 189.1h0M222.0 197.3h0M200.7 202.4h0M222.9 203.4h0M218.0 192.8h0M223.2 197.9h0M221.5 199.6h0M210.5 207.3h0M210.1 211.1h0M214.1 210.0h0M204.3 195.4h0M222.1 201.8h0M208.8 209.2h0M221.2 200.0h0M209.4 187.7h0M217.9 189.5h0M219.5 193.5h0M214.7 192.7h0M216.3 188.6h0M221.5 203.8h0M204.5 203.7h0M215.0 210.5h0M213.0 208.7h0M201.0 203.9h0M200.0 202.6h0M221.1 200.5h0M207.1 188.8h0M205.8 209.0h0M199.8 202.8h0M219.1 191.7h0M221.7 193.7h0M202.1 206.6h0M213.4 209.9h0M203.5 205.9h0M217.7 206.9h0M206.8 194.3h0M217.9 206.1h0M199.8 197.3h0" stroke="#e8b0a0" stroke-width="0.72" stroke-linecap="round" fill="none"/><path d="M201.5 206.3h0M198.9 199.1h0M220.6 207.0h0M214.3 210.9h0M221.0 193.7h0M204.1 209.8h0M222.0 193.8h0M201.9 207.1h0M205.9 188.4h0M221.7 193.6h0M222.4 195.7h0M199.1 201.6h0M219.4 190.4h0M201.9 193.3h0M199.2 198.0h0M199.4 201.7h0M216.1 189.1h0M199.1 197.6h0M223.5 197.4h0M223.3 200.8h0M207.1 188.1h0M220.0 191.5h0M201.4 205.4h0M217.4 189.1h0M218.8 190.7h0M210.6 211.4h0M205.8 189.5h0M223.2 199.8h0M204.3 209.5h0M198.8 199.5h0M219.1 209.4h0M223.4 198.5h0M199.6 198.9h0M222.9 197.0h0M221.3 192.9h0M220.0 207.8h0M203.7 208.8h0M220.0 207.8h0M207.9 210.8h0M215.2 188.7h0M200.6 203.8h0M218.4 210.0h0M222.8 203.3h0M217.7 209.9h0M213.0 187.8h0M207.5 188.4h0M222.4 195.6h0M209.4 211.2h0M221.3 192.7h0M211.2 187.6h0M205.1 189.8h0M221.2 192.4h0M203.7 189.8h0M212.0 188.2h0M222.1 194.1h0M220.3 191.9h0M222.8 201.6h0M203.5 191.3h0M223.4 202.8h0M207.1 211.1h0M213.3 211.1h0M214.6 188.6h0M200.2 195.6h0M205.6 210.6h0M223.3 198.4h0M205.2 209.3h0M213.7 187.5h0M222.5 197.7h0M210.7 188.2h0M206.4 211.0h0M212.0 188.2h0M202.3 191.8h0M206.7 211.3h0M211.6 188.3h0M222.6 203.9h0M205.5 210.3h0M212.5 187.8h0M204.4 189.3h0M211.3 187.8h0M208.1 187.6h0M199.0 200.2h0M200.1 197.7h0M209.5 188.4h0M222.0 193.5h0M204.8 189.0h0M223.2 202.9h0M221.8 194.6h0M202.4 206.8h0M209.7 188.5h0M204.4 190.0h0M205.5 188.9h0M223.3 198.0h0M220.0 192.3h0M199.2 198.7h0M222.8 197.9h0M219.8 191.2h0M221.3 193.5h0M206.5 211.1h0M201.8 192.1h0M201.6 192.1h0M204.2 208.6h0M220.1 191.4h0M222.7 204.8h0M221.9 194.2h0M206.3 210.9h0M215.3 188.0h0M200.4 194.1h0M223.1 196.8h0M201.2 205.2h0M210.5 211.7h0" stroke="#d9603c" stroke-width="0.60" stroke-linecap="round" fill="none"/><path d="M207.60,197.04 C208.64,194.95 211.44,194.60 212.35,196.35 C212.91,197.74 212.07,199.42 214.24,200.19 C216.33,201.03 217.03,203.68 215.28,205.08 C212.77,206.62 208.85,205.50 207.74,202.98 C206.76,201.03 206.83,198.65 207.60,197.04 Z" fill="none" stroke="#a8c0e4" stroke-width="2.24" opacity="0.85"/><path d="M207.60,197.04 C208.64,194.95 211.44,194.60 212.35,196.35 C212.91,197.74 212.07,199.42 214.24,200.19 C216.33,201.03 217.03,203.68 215.28,205.08 C212.77,206.62 208.85,205.50 207.74,202.98 C206.76,201.03 206.83,198.65 207.60,197.04 Z" fill="#f2f5fa" stroke="#7a5a52" stroke-width="0.63"/></g>
<text x="143.1" y="223.2" font-size="6.2" font-weight="bold" text-anchor="middle" fill="#222">50 DIV</text>
<text x="175.2" y="223.2" font-size="6.2" font-weight="bold" text-anchor="middle" fill="#222">100 DIV</text>
<text x="216" y="223.2" font-size="6.2" font-weight="bold" text-anchor="middle" fill="#222">150 DIV</text>
<defs><linearGradient id="tl" x1="0" x2="1" y1="0" y2="0">
<stop offset="0" stop-color="#dcecf8"/><stop offset="0.35" stop-color="#b7d5ee"/><stop offset="0.65" stop-color="#8fbce6"/><stop offset="1" stop-color="#5d9fd8"/></linearGradient></defs>
<rect x="53.8" y="234.5" width="158" height="13" fill="url(#tl)"/>
<line x1="53.8" y1="247.5" x2="213" y2="247.5" stroke="#333" stroke-width="0.6"/>
<path d="M212,246.3 L215,247.5 L212,248.7 Z" fill="#333"/>
<line x1="54.3" y1="244.5" x2="54.3" y2="247.5" stroke="#333" stroke-width="0.5"/>
<line x1="83.75" y1="244.5" x2="83.75" y2="247.5" stroke="#333" stroke-width="0.5"/>
<line x1="116.25" y1="244.5" x2="116.25" y2="247.5" stroke="#333" stroke-width="0.5"/>
<line x1="149.25" y1="244.5" x2="149.25" y2="247.5" stroke="#333" stroke-width="0.5"/>
<text x="55" y="252.8" font-size="4.4" font-weight="bold" text-anchor="middle" fill="#222">0</text>
<text x="83.75" y="252.8" font-size="4.4" font-weight="bold" text-anchor="middle" fill="#222">18</text>
<text x="117" y="252.8" font-size="4.4" font-weight="bold" text-anchor="middle" fill="#222">35</text>
<text x="149.5" y="252.8" font-size="4.4" font-weight="bold" text-anchor="middle" fill="#222">70</text>
<text x="69.5" y="237.3" font-size="4.1" font-weight="bold" text-anchor="middle" fill="#1f2c3c">TGF-β and</text>
<text x="69.5" y="241.2" font-size="4.1" font-weight="bold" text-anchor="middle" fill="#1f2c3c">WNT</text>
<text x="69.5" y="245.3" font-size="4.1" font-weight="bold" text-anchor="middle" fill="#1f2c3c">inhibition</text>
<text x="101.5" y="237.3" font-size="4.1" font-weight="bold" text-anchor="middle" fill="#1f2c3c">N2</text>
<text x="101.5" y="241.2" font-size="4.1" font-weight="bold" text-anchor="middle" fill="#1f2c3c">supplement</text>
<text x="101.5" y="245.3" font-size="4.1" font-weight="bold" text-anchor="middle" fill="#1f2c3c">Lipids</text>
<text x="134" y="237.6" font-size="4.1" font-weight="bold" text-anchor="middle" fill="#1f2c3c">Matrigel</text>
<text x="134" y="241.5" font-size="4.1" font-weight="bold" text-anchor="middle" fill="#1f2c3c">Heparin</text>
<text x="134" y="245.6" font-size="4.1" font-weight="bold" text-anchor="middle" fill="#1f2c3c">FBS</text>
<text x="180.5" y="236.2" font-size="4.1" font-weight="bold" text-anchor="middle" fill="#1f2c3c">B27</text>
<text x="180" y="240.8" font-size="4.1" font-weight="bold" text-anchor="middle" fill="#1f2c3c">Matrigel concentration</text>
<text x="180" y="244.9" font-size="4.1" font-weight="bold" text-anchor="middle" fill="#1f2c3c">increase</text>
<line x1="143.2" y1="230" x2="143.2" y2="234.5" stroke="#5b9bd5" stroke-width="0.8"/>
<circle cx="143.2" cy="227.9" r="1.9" fill="#fff" stroke="#5b9bd5" stroke-width="0.8"/>
<line x1="173.2" y1="230" x2="173.2" y2="234.5" stroke="#5b9bd5" stroke-width="0.8"/>
<circle cx="173.2" cy="227.9" r="1.9" fill="#fff" stroke="#5b9bd5" stroke-width="0.8"/>
<line x1="210.6" y1="230" x2="210.6" y2="234.5" stroke="#5b9bd5" stroke-width="0.8"/>
<circle cx="210.6" cy="227.9" r="1.9" fill="#fff" stroke="#5b9bd5" stroke-width="0.8"/>
<text x="49.7" y="250.4" font-size="5.3" text-anchor="end" fill="#222" font-weight="bold"># days <tspan font-style="italic">in-</tspan></text>
<text x="49.4" y="256.6" font-size="5.3" text-anchor="end" fill="#222" font-weight="bold"><tspan font-style="italic">vitro</tspan><tspan font-style="normal"> (DIV)</tspan></text>
<text x="147.5" y="262" font-size="6.45" font-weight="bold" text-anchor="middle" fill="#222">Dorsal Forebrain Differentiation</text>
<text x="67.5" y="279.4" font-size="9.3" font-weight="bold" text-anchor="middle" fill="#4550b0">Control</text>
<text x="182" y="279.4" font-size="9.3" font-weight="bold" text-anchor="middle" fill="#d42f2f">Dup 15q</text>
<g><path d="M18.52,287.12934878726907 Q17.32,295.5646743936345 18.52,304" stroke="#999" stroke-width="2.5" stroke-linecap="round" fill="none"/><path d="M18.52,287.12934878726907 Q17.32,295.5646743936345 18.52,304" stroke="#cdcdcd" stroke-width="2.0" stroke-linecap="round" fill="none"/><line x1="17.44" y1="287.68" x2="19.44" y2="287.68" stroke="#555" stroke-width="0.77"/><line x1="17.22" y1="289.57" x2="19.22" y2="289.57" stroke="#444" stroke-width="0.69"/><line x1="17.12" y1="290.71" x2="19.12" y2="290.71" stroke="#444" stroke-width="0.75"/><line x1="16.99" y1="292.59" x2="18.99" y2="292.59" stroke="#555" stroke-width="0.59"/><line x1="16.94" y1="294.19" x2="18.94" y2="294.19" stroke="#555" stroke-width="0.51"/><line x1="16.92" y1="295.80" x2="18.92" y2="295.80" stroke="#777" stroke-width="0.88"/><line x1="17.11" y1="300.36" x2="19.11" y2="300.36" stroke="#444" stroke-width="0.53"/><line x1="17.24" y1="301.76" x2="19.24" y2="301.76" stroke="#888" stroke-width="0.52"/><line x1="17.39" y1="303.03" x2="19.39" y2="303.03" stroke="#555" stroke-width="0.89"/><path d="M27.48,286.4231714229601 Q28.68,295.21158571148004 27.48,304" stroke="#999" stroke-width="2.5" stroke-linecap="round" fill="none"/><path d="M27.48,286.4231714229601 Q28.68,295.21158571148004 27.48,304" stroke="#cdcdcd" stroke-width="2.0" stroke-linecap="round" fill="none"/><line x1="26.59" y1="287.27" x2="28.59" y2="287.27" stroke="#888" stroke-width="0.87"/><line x1="26.89" y1="290.25" x2="28.89" y2="290.25" stroke="#666" stroke-width="0.67"/><line x1="27.01" y1="292.19" x2="29.01" y2="292.19" stroke="#777" stroke-width="0.48"/><line x1="27.06" y1="293.43" x2="29.06" y2="293.43" stroke="#888" stroke-width="0.61"/><line x1="27.08" y1="295.19" x2="29.08" y2="295.19" stroke="#777" stroke-width="0.64"/><line x1="27.07" y1="296.55" x2="29.07" y2="296.55" stroke="#555" stroke-width="0.50"/><line x1="26.77" y1="301.54" x2="28.77" y2="301.54" stroke="#777" stroke-width="0.48"/><line x1="26.57" y1="303.35" x2="28.57" y2="303.35" stroke="#777" stroke-width="0.55"/></g>
<rect x="22.7" y="305.6" width="0.6" height="0.9" fill="#8a5050"/>
<g><path d="M39.08,286.462500771594 Q40.58,295.231250385797 39.08,304" stroke="#999" stroke-width="2.5" stroke-linecap="round" fill="none"/><path d="M39.08,286.462500771594 Q40.58,295.231250385797 39.08,304" stroke="#cdcdcd" stroke-width="2.0" stroke-linecap="round" fill="none"/><line x1="38.61" y1="290.51" x2="40.61" y2="290.51" stroke="#888" stroke-width="0.64"/><line x1="38.83" y1="295.46" x2="40.83" y2="295.46" stroke="#777" stroke-width="0.65"/><line x1="38.81" y1="296.83" x2="40.81" y2="296.83" stroke="#444" stroke-width="0.76"/><line x1="38.73" y1="298.49" x2="40.73" y2="298.49" stroke="#888" stroke-width="0.83"/><line x1="38.59" y1="300.14" x2="40.59" y2="300.14" stroke="#777" stroke-width="0.73"/><line x1="38.23" y1="303.05" x2="40.23" y2="303.05" stroke="#666" stroke-width="0.62"/><path d="M46.92,285.4252841449029 Q45.42,294.71264207245144 46.92,304" stroke="#999" stroke-width="2.5" stroke-linecap="round" fill="none"/><path d="M46.92,285.4252841449029 Q45.42,294.71264207245144 46.92,304" stroke="#cdcdcd" stroke-width="2.0" stroke-linecap="round" fill="none"/><line x1="45.76" y1="286.49" x2="47.76" y2="286.49" stroke="#555" stroke-width="0.76"/><line x1="45.42" y1="289.39" x2="47.42" y2="289.39" stroke="#666" stroke-width="0.84"/><line x1="45.32" y1="290.61" x2="47.32" y2="290.61" stroke="#555" stroke-width="0.71"/><line x1="45.21" y1="292.67" x2="47.21" y2="292.67" stroke="#444" stroke-width="0.76"/><line x1="45.17" y1="294.00" x2="47.17" y2="294.00" stroke="#777" stroke-width="0.84"/><line x1="45.40" y1="299.88" x2="47.40" y2="299.88" stroke="#555" stroke-width="0.88"/><line x1="45.60" y1="301.75" x2="47.60" y2="301.75" stroke="#666" stroke-width="0.77"/></g>
<rect x="42.7" y="305.6" width="0.6" height="0.9" fill="#8a5050"/>
<g><path d="M97.98,286.99854379750116 Q98.58,295.4992718987506 97.98,304" stroke="#999" stroke-width="2.5" stroke-linecap="round" fill="none"/><path d="M97.98,286.99854379750116 Q98.58,295.4992718987506 97.98,304" stroke="#cdcdcd" stroke-width="2.0" stroke-linecap="round" fill="none"/><line x1="97.13" y1="289.46" x2="99.13" y2="289.46" stroke="#666" stroke-width="0.45"/><line x1="97.25" y1="292.66" x2="99.25" y2="292.66" stroke="#555" stroke-width="0.50"/><line x1="97.27" y1="294.05" x2="99.27" y2="294.05" stroke="#444" stroke-width="0.84"/><line x1="97.28" y1="295.55" x2="99.28" y2="295.55" stroke="#666" stroke-width="0.88"/><line x1="97.27" y1="296.85" x2="99.27" y2="296.85" stroke="#444" stroke-width="0.66"/><line x1="97.24" y1="298.61" x2="99.24" y2="298.61" stroke="#555" stroke-width="0.84"/><line x1="97.20" y1="299.86" x2="99.20" y2="299.86" stroke="#444" stroke-width="0.82"/><line x1="97.13" y1="301.53" x2="99.13" y2="301.53" stroke="#444" stroke-width="0.61"/><line x1="97.01" y1="303.52" x2="99.01" y2="303.52" stroke="#444" stroke-width="0.47"/><path d="M103.02,285.9327405224922 Q102.42,294.9663702612461 103.02,304" stroke="#999" stroke-width="2.5" stroke-linecap="round" fill="none"/><path d="M103.02,285.9327405224922 Q102.42,294.9663702612461 103.02,304" stroke="#cdcdcd" stroke-width="2.0" stroke-linecap="round" fill="none"/><line x1="101.96" y1="286.91" x2="103.96" y2="286.91" stroke="#444" stroke-width="0.88"/><line x1="101.83" y1="289.60" x2="103.83" y2="289.60" stroke="#666" stroke-width="0.52"/><line x1="101.77" y1="291.44" x2="103.77" y2="291.44" stroke="#777" stroke-width="0.61"/><line x1="101.74" y1="292.51" x2="103.74" y2="292.51" stroke="#777" stroke-width="0.82"/><line x1="101.74" y1="297.03" x2="103.74" y2="297.03" stroke="#888" stroke-width="0.86"/><line x1="101.77" y1="298.47" x2="103.77" y2="298.47" stroke="#888" stroke-width="0.87"/><line x1="101.89" y1="301.85" x2="103.89" y2="301.85" stroke="#777" stroke-width="0.88"/><line x1="101.99" y1="303.47" x2="103.99" y2="303.47" stroke="#777" stroke-width="0.82"/></g>
<rect x="100.2" y="305.6" width="0.6" height="0.9" fill="#8a5050"/>
<g><path d="M112.98,286.99531571598743 Q113.78,295.4976578579937 112.98,304" stroke="#999" stroke-width="2.5" stroke-linecap="round" fill="none"/><path d="M112.98,286.99531571598743 Q113.78,295.4976578579937 112.98,304" stroke="#cdcdcd" stroke-width="2.0" stroke-linecap="round" fill="none"/><line x1="112.27" y1="291.05" x2="114.27" y2="291.05" stroke="#666" stroke-width="0.81"/><line x1="112.37" y1="293.87" x2="114.37" y2="293.87" stroke="#666" stroke-width="0.76"/><line x1="112.38" y1="295.65" x2="114.38" y2="295.65" stroke="#777" stroke-width="0.74"/><line x1="112.37" y1="296.85" x2="114.37" y2="296.85" stroke="#666" stroke-width="0.48"/><line x1="112.27" y1="299.94" x2="114.27" y2="299.94" stroke="#444" stroke-width="0.49"/><line x1="112.03" y1="303.40" x2="114.03" y2="303.40" stroke="#888" stroke-width="0.59"/><path d="M118.02,285.8095079083895 Q117.22,294.90475395419475 118.02,304" stroke="#999" stroke-width="2.5" stroke-linecap="round" fill="none"/><path d="M118.02,285.8095079083895 Q117.22,294.90475395419475 118.02,304" stroke="#cdcdcd" stroke-width="2.0" stroke-linecap="round" fill="none"/><line x1="116.97" y1="286.42" x2="118.97" y2="286.42" stroke="#777" stroke-width="0.67"/><line x1="116.85" y1="287.97" x2="118.85" y2="287.97" stroke="#888" stroke-width="0.79"/><line x1="116.76" y1="289.45" x2="118.76" y2="289.45" stroke="#666" stroke-width="0.83"/><line x1="116.65" y1="292.45" x2="118.65" y2="292.45" stroke="#888" stroke-width="0.51"/><line x1="116.62" y1="294.07" x2="118.62" y2="294.07" stroke="#555" stroke-width="0.48"/><line x1="116.62" y1="295.48" x2="118.62" y2="295.48" stroke="#444" stroke-width="0.56"/><line x1="116.75" y1="300.15" x2="118.75" y2="300.15" stroke="#666" stroke-width="0.86"/><line x1="116.83" y1="301.45" x2="118.83" y2="301.45" stroke="#666" stroke-width="0.52"/><line x1="116.94" y1="303.07" x2="118.94" y2="303.07" stroke="#777" stroke-width="0.86"/></g>
<rect x="115.2" y="305.6" width="0.6" height="0.9" fill="#8a5050"/>
<g><path d="M59.63,291.6540393242879 Q60.43,296.8270196621439 59.63,302" stroke="#999" stroke-width="2.5" stroke-linecap="round" fill="none"/><path d="M59.63,291.6540393242879 Q60.43,296.8270196621439 59.63,302" stroke="#cdcdcd" stroke-width="2.0" stroke-linecap="round" fill="none"/><line x1="58.95" y1="294.47" x2="60.95" y2="294.47" stroke="#666" stroke-width="0.62"/><line x1="59.02" y1="296.25" x2="61.02" y2="296.25" stroke="#555" stroke-width="0.54"/><line x1="59.01" y1="297.90" x2="61.01" y2="297.90" stroke="#555" stroke-width="0.49"/><line x1="58.93" y1="299.45" x2="60.93" y2="299.45" stroke="#888" stroke-width="0.60"/><line x1="58.71" y1="301.43" x2="60.71" y2="301.43" stroke="#888" stroke-width="0.74"/><path d="M68.87,291.3038910169453 Q68.07000000000001,296.65194550847264 68.87,302" stroke="#999" stroke-width="2.5" stroke-linecap="round" fill="none"/><path d="M68.87,291.3038910169453 Q68.07000000000001,296.65194550847264 68.87,302" stroke="#cdcdcd" stroke-width="2.0" stroke-linecap="round" fill="none"/><line x1="67.78" y1="291.94" x2="69.78" y2="291.94" stroke="#888" stroke-width="0.48"/><line x1="67.61" y1="293.43" x2="69.61" y2="293.43" stroke="#666" stroke-width="0.70"/><line x1="67.47" y1="296.62" x2="69.47" y2="296.62" stroke="#555" stroke-width="0.86"/><line x1="67.62" y1="299.94" x2="69.62" y2="299.94" stroke="#888" stroke-width="0.53"/></g>
<rect x="64.0" y="303.6" width="0.6" height="0.9" fill="#8a5050"/>
<g><path d="M17.42,314.0441414072227 Q18.62,320.02207070361135 17.42,326" stroke="#999" stroke-width="2.5" stroke-linecap="round" fill="none"/><path d="M17.42,314.0441414072227 Q18.62,320.02207070361135 17.42,326" stroke="#cdcdcd" stroke-width="2.0" stroke-linecap="round" fill="none"/><line x1="16.62" y1="315.16" x2="18.62" y2="315.16" stroke="#888" stroke-width="0.56"/><line x1="16.82" y1="316.60" x2="18.82" y2="316.60" stroke="#888" stroke-width="0.76"/><line x1="16.97" y1="318.34" x2="18.97" y2="318.34" stroke="#444" stroke-width="0.50"/><line x1="17.02" y1="320.03" x2="19.02" y2="320.03" stroke="#777" stroke-width="0.73"/><line x1="16.97" y1="321.75" x2="18.97" y2="321.75" stroke="#888" stroke-width="0.81"/><line x1="16.84" y1="323.28" x2="18.84" y2="323.28" stroke="#666" stroke-width="0.68"/><path d="M23.58,312.3224212048119 Q22.38,319.16121060240596 23.58,326" stroke="#999" stroke-width="2.5" stroke-linecap="round" fill="none"/><path d="M23.58,312.3224212048119 Q22.38,319.16121060240596 23.58,326" stroke="#cdcdcd" stroke-width="2.0" stroke-linecap="round" fill="none"/><line x1="22.42" y1="313.28" x2="24.42" y2="313.28" stroke="#666" stroke-width="0.67"/><line x1="22.11" y1="315.92" x2="24.11" y2="315.92" stroke="#777" stroke-width="0.70"/><line x1="22.02" y1="317.45" x2="24.02" y2="317.45" stroke="#777" stroke-width="0.77"/><line x1="22.10" y1="322.20" x2="24.10" y2="322.20" stroke="#555" stroke-width="0.85"/><line x1="22.24" y1="323.69" x2="24.24" y2="323.69" stroke="#777" stroke-width="0.79"/><line x1="22.42" y1="325.00" x2="24.42" y2="325.00" stroke="#777" stroke-width="0.85"/></g>
<rect x="20.2" y="327.6" width="0.6" height="0.9" fill="#8a5050"/>
<g><path d="M34.37,313.08213660044976 Q34.97,319.5410683002249 34.37,326" stroke="#999" stroke-width="2.5" stroke-linecap="round" fill="none"/><path d="M34.37,313.08213660044976 Q34.97,319.5410683002249 34.37,326" stroke="#cdcdcd" stroke-width="2.0" stroke-linecap="round" fill="none"/><line x1="33.66" y1="318.53" x2="35.66" y2="318.53" stroke="#777" stroke-width="0.46"/><line x1="33.66" y1="320.41" x2="35.66" y2="320.41" stroke="#777" stroke-width="0.66"/><line x1="33.63" y1="321.87" x2="35.63" y2="321.87" stroke="#888" stroke-width="0.75"/><line x1="33.44" y1="325.20" x2="35.44" y2="325.20" stroke="#777" stroke-width="0.56"/><path d="M39.13,313.8950993216577 Q38.53,319.9475496608288 39.13,326" stroke="#999" stroke-width="2.5" stroke-linecap="round" fill="none"/><path d="M39.13,313.8950993216577 Q38.53,319.9475496608288 39.13,326" stroke="#cdcdcd" stroke-width="2.0" stroke-linecap="round" fill="none"/><line x1="37.94" y1="316.30" x2="39.94" y2="316.30" stroke="#888" stroke-width="0.61"/><line x1="37.87" y1="317.64" x2="39.87" y2="317.64" stroke="#444" stroke-width="0.59"/><line x1="37.83" y1="319.25" x2="39.83" y2="319.25" stroke="#666" stroke-width="0.59"/><line x1="37.83" y1="320.61" x2="39.83" y2="320.61" stroke="#777" stroke-width="0.88"/><line x1="37.88" y1="322.36" x2="39.88" y2="322.36" stroke="#666" stroke-width="0.53"/><line x1="37.95" y1="323.80" x2="39.95" y2="323.80" stroke="#666" stroke-width="0.74"/><line x1="38.07" y1="325.35" x2="40.07" y2="325.35" stroke="#777" stroke-width="0.75"/></g>
<rect x="36.5" y="327.6" width="0.6" height="0.9" fill="#8a5050"/>
<g><path d="M49.7,313.8351624734696 Q50.900000000000006,319.9175812367348 49.7,326" stroke="#999" stroke-width="2.5" stroke-linecap="round" fill="none"/><path d="M49.7,313.8351624734696 Q50.900000000000006,319.9175812367348 49.7,326" stroke="#cdcdcd" stroke-width="2.0" stroke-linecap="round" fill="none"/><line x1="48.81" y1="314.44" x2="50.81" y2="314.44" stroke="#555" stroke-width="0.73"/><line x1="49.03" y1="315.84" x2="51.03" y2="315.84" stroke="#888" stroke-width="0.75"/><line x1="49.21" y1="317.51" x2="51.21" y2="317.51" stroke="#666" stroke-width="0.60"/><line x1="49.28" y1="320.91" x2="51.28" y2="320.91" stroke="#444" stroke-width="0.72"/><line x1="49.20" y1="322.45" x2="51.20" y2="322.45" stroke="#666" stroke-width="0.69"/><line x1="48.85" y1="325.20" x2="50.85" y2="325.20" stroke="#777" stroke-width="0.88"/><path d="M55.3,313.8097366545436 Q54.099999999999994,319.9048683272718 55.3,326" stroke="#999" stroke-width="2.5" stroke-linecap="round" fill="none"/><path d="M55.3,313.8097366545436 Q54.099999999999994,319.9048683272718 55.3,326" stroke="#cdcdcd" stroke-width="2.0" stroke-linecap="round" fill="none"/><line x1="54.12" y1="314.81" x2="56.12" y2="314.81" stroke="#444" stroke-width="0.69"/><line x1="53.78" y1="317.65" x2="55.78" y2="317.65" stroke="#666" stroke-width="0.76"/><line x1="53.71" y1="319.13" x2="55.71" y2="319.13" stroke="#555" stroke-width="0.52"/><line x1="53.77" y1="321.99" x2="55.77" y2="321.99" stroke="#888" stroke-width="0.56"/><line x1="53.91" y1="323.52" x2="55.91" y2="323.52" stroke="#555" stroke-width="0.84"/></g>
<rect x="52.2" y="327.6" width="0.6" height="0.9" fill="#8a5050"/>
<g><path d="M66.42,313.8788232316388 Q67.42,319.9394116158194 66.42,326" stroke="#999" stroke-width="2.5" stroke-linecap="round" fill="none"/><path d="M66.42,313.8788232316388 Q67.42,319.9394116158194 66.42,326" stroke="#cdcdcd" stroke-width="2.0" stroke-linecap="round" fill="none"/><line x1="65.56" y1="314.83" x2="67.56" y2="314.83" stroke="#666" stroke-width="0.45"/><line x1="65.85" y1="317.66" x2="67.85" y2="317.66" stroke="#555" stroke-width="0.57"/><line x1="65.92" y1="319.41" x2="67.92" y2="319.41" stroke="#888" stroke-width="0.48"/><line x1="65.85" y1="322.22" x2="67.85" y2="322.22" stroke="#888" stroke-width="0.81"/><line x1="65.75" y1="323.49" x2="67.75" y2="323.49" stroke="#555" stroke-width="0.76"/><line x1="65.55" y1="325.16" x2="67.55" y2="325.16" stroke="#444" stroke-width="0.68"/><path d="M72.58,312.0447905069618 Q71.58,319.0223952534809 72.58,326" stroke="#999" stroke-width="2.5" stroke-linecap="round" fill="none"/><path d="M72.58,312.0447905069618 Q71.58,319.0223952534809 72.58,326" stroke="#cdcdcd" stroke-width="2.0" stroke-linecap="round" fill="none"/><line x1="71.50" y1="312.66" x2="73.50" y2="312.66" stroke="#777" stroke-width="0.83"/><line x1="71.11" y1="317.37" x2="73.11" y2="317.37" stroke="#444" stroke-width="0.51"/><line x1="71.08" y1="318.95" x2="73.08" y2="318.95" stroke="#777" stroke-width="0.62"/><line x1="71.10" y1="320.53" x2="73.10" y2="320.53" stroke="#777" stroke-width="0.74"/><line x1="71.33" y1="323.92" x2="73.33" y2="323.92" stroke="#888" stroke-width="0.65"/><line x1="71.47" y1="325.16" x2="73.47" y2="325.16" stroke="#666" stroke-width="0.50"/></g>
<rect x="69.2" y="327.6" width="0.6" height="0.9" fill="#8a5050"/>
<g><path d="M82.2,312.7495071749072 Q82.8,319.3747535874536 82.2,326" stroke="#999" stroke-width="2.5" stroke-linecap="round" fill="none"/><path d="M82.2,312.7495071749072 Q82.8,319.3747535874536 82.2,326" stroke="#cdcdcd" stroke-width="2.0" stroke-linecap="round" fill="none"/><line x1="81.28" y1="313.70" x2="83.28" y2="313.70" stroke="#444" stroke-width="0.77"/><line x1="81.38" y1="315.11" x2="83.38" y2="315.11" stroke="#666" stroke-width="0.85"/><line x1="81.46" y1="316.95" x2="83.46" y2="316.95" stroke="#888" stroke-width="0.60"/><line x1="81.50" y1="318.73" x2="83.50" y2="318.73" stroke="#888" stroke-width="0.76"/><line x1="81.50" y1="320.21" x2="83.50" y2="320.21" stroke="#555" stroke-width="0.70"/><line x1="81.37" y1="323.74" x2="83.37" y2="323.74" stroke="#444" stroke-width="0.73"/><line x1="81.25" y1="325.41" x2="83.25" y2="325.41" stroke="#666" stroke-width="0.84"/><path d="M87.8,312.58803382162597 Q87.2,319.29401691081296 87.8,326" stroke="#999" stroke-width="2.5" stroke-linecap="round" fill="none"/><path d="M87.8,312.58803382162597 Q87.2,319.29401691081296 87.8,326" stroke="#cdcdcd" stroke-width="2.0" stroke-linecap="round" fill="none"/><line x1="86.71" y1="313.68" x2="88.71" y2="313.68" stroke="#888" stroke-width="0.75"/><line x1="86.50" y1="318.53" x2="88.50" y2="318.53" stroke="#555" stroke-width="0.56"/><line x1="86.51" y1="320.32" x2="88.51" y2="320.32" stroke="#888" stroke-width="0.46"/><line x1="86.63" y1="323.64" x2="88.63" y2="323.64" stroke="#666" stroke-width="0.54"/></g>
<rect x="84.7" y="327.6" width="0.6" height="0.9" fill="#8a5050"/>
<g><path d="M97.2,313.21313902347555 Q98.0,319.6065695117378 97.2,326" stroke="#999" stroke-width="2.5" stroke-linecap="round" fill="none"/><path d="M97.2,313.21313902347555 Q98.0,319.6065695117378 97.2,326" stroke="#cdcdcd" stroke-width="2.0" stroke-linecap="round" fill="none"/><line x1="96.29" y1="314.02" x2="98.29" y2="314.02" stroke="#888" stroke-width="0.75"/><line x1="96.44" y1="315.59" x2="98.44" y2="315.59" stroke="#555" stroke-width="0.55"/><line x1="96.54" y1="317.06" x2="98.54" y2="317.06" stroke="#555" stroke-width="0.87"/><line x1="96.60" y1="318.93" x2="98.60" y2="318.93" stroke="#555" stroke-width="0.58"/><line x1="96.60" y1="320.28" x2="98.60" y2="320.28" stroke="#888" stroke-width="0.78"/><line x1="96.46" y1="323.42" x2="98.46" y2="323.42" stroke="#444" stroke-width="0.84"/><line x1="96.30" y1="325.17" x2="98.30" y2="325.17" stroke="#888" stroke-width="0.65"/><path d="M102.8,313.4626585009562 Q102.0,319.7313292504781 102.8,326" stroke="#999" stroke-width="2.5" stroke-linecap="round" fill="none"/><path d="M102.8,313.4626585009562 Q102.0,319.7313292504781 102.8,326" stroke="#cdcdcd" stroke-width="2.0" stroke-linecap="round" fill="none"/><line x1="101.73" y1="314.00" x2="103.73" y2="314.00" stroke="#777" stroke-width="0.73"/><line x1="101.47" y1="317.19" x2="103.47" y2="317.19" stroke="#555" stroke-width="0.83"/><line x1="101.53" y1="323.36" x2="103.53" y2="323.36" stroke="#666" stroke-width="0.65"/><line x1="101.69" y1="325.05" x2="103.69" y2="325.05" stroke="#777" stroke-width="0.80"/></g>
<rect x="99.7" y="327.6" width="0.6" height="0.9" fill="#8a5050"/>
<g><path d="M112.98,312.5231128447395 Q113.98,319.2615564223697 112.98,326" stroke="#999" stroke-width="2.5" stroke-linecap="round" fill="none"/><path d="M112.98,312.5231128447395 Q113.98,319.2615564223697 112.98,326" stroke="#cdcdcd" stroke-width="2.0" stroke-linecap="round" fill="none"/><line x1="112.10" y1="313.37" x2="114.10" y2="313.37" stroke="#666" stroke-width="0.86"/><line x1="112.26" y1="314.79" x2="114.26" y2="314.79" stroke="#555" stroke-width="0.66"/><line x1="112.47" y1="318.47" x2="114.47" y2="318.47" stroke="#777" stroke-width="0.77"/><line x1="112.47" y1="319.95" x2="114.47" y2="319.95" stroke="#555" stroke-width="0.80"/><path d="M118.02,313.9877477374001 Q117.02,319.99387386870006 118.02,326" stroke="#999" stroke-width="2.5" stroke-linecap="round" fill="none"/><path d="M118.02,313.9877477374001 Q117.02,319.99387386870006 118.02,326" stroke="#cdcdcd" stroke-width="2.0" stroke-linecap="round" fill="none"/><line x1="116.94" y1="314.47" x2="118.94" y2="314.47" stroke="#777" stroke-width="0.57"/><line x1="116.59" y1="317.67" x2="118.59" y2="317.67" stroke="#666" stroke-width="0.83"/><line x1="116.53" y1="319.04" x2="118.53" y2="319.04" stroke="#666" stroke-width="0.77"/><line x1="116.71" y1="323.67" x2="118.71" y2="323.67" stroke="#777" stroke-width="0.50"/></g>
<rect x="115.2" y="327.6" width="0.6" height="0.9" fill="#8a5050"/>
<g><path d="M16.65,334.620392818109 Q16.65,339.31019640905447 16.65,344" stroke="#999" stroke-width="2.5" stroke-linecap="round" fill="none"/><path d="M16.65,334.620392818109 Q16.65,339.31019640905447 16.65,344" stroke="#cdcdcd" stroke-width="2.0" stroke-linecap="round" fill="none"/><line x1="15.65" y1="335.68" x2="17.65" y2="335.68" stroke="#555" stroke-width="0.88"/><line x1="15.65" y1="336.70" x2="17.65" y2="336.70" stroke="#666" stroke-width="0.46"/><line x1="15.65" y1="340.28" x2="17.65" y2="340.28" stroke="#777" stroke-width="0.73"/><line x1="15.65" y1="341.37" x2="17.65" y2="341.37" stroke="#777" stroke-width="0.59"/><line x1="15.65" y1="343.00" x2="17.65" y2="343.00" stroke="#666" stroke-width="0.69"/><path d="M20.85,334.5968504388308 Q20.85,339.29842521941544 20.85,344" stroke="#999" stroke-width="2.5" stroke-linecap="round" fill="none"/><path d="M20.85,334.5968504388308 Q20.85,339.29842521941544 20.85,344" stroke="#cdcdcd" stroke-width="2.0" stroke-linecap="round" fill="none"/><line x1="19.85" y1="335.62" x2="21.85" y2="335.62" stroke="#888" stroke-width="0.59"/><line x1="19.85" y1="337.09" x2="21.85" y2="337.09" stroke="#888" stroke-width="0.59"/><line x1="19.85" y1="338.59" x2="21.85" y2="338.59" stroke="#555" stroke-width="0.66"/><line x1="19.85" y1="340.18" x2="21.85" y2="340.18" stroke="#444" stroke-width="0.79"/><line x1="19.85" y1="341.53" x2="21.85" y2="341.53" stroke="#555" stroke-width="0.84"/></g>
<rect x="18.4" y="345.6" width="0.6" height="0.9" fill="#8a5050"/>
<g><path d="M29.15,334.8342833903584 Q29.15,339.4171416951792 29.15,344" stroke="#999" stroke-width="2.5" stroke-linecap="round" fill="none"/><path d="M29.15,334.8342833903584 Q29.15,339.4171416951792 29.15,344" stroke="#cdcdcd" stroke-width="2.0" stroke-linecap="round" fill="none"/><line x1="28.15" y1="335.64" x2="30.15" y2="335.64" stroke="#777" stroke-width="0.56"/><line x1="28.15" y1="340.43" x2="30.15" y2="340.43" stroke="#666" stroke-width="0.69"/><line x1="28.15" y1="343.17" x2="30.15" y2="343.17" stroke="#666" stroke-width="0.67"/><path d="M33.35,334.2479756362317 Q33.35,339.12398781811584 33.35,344" stroke="#999" stroke-width="2.5" stroke-linecap="round" fill="none"/><path d="M33.35,334.2479756362317 Q33.35,339.12398781811584 33.35,344" stroke="#cdcdcd" stroke-width="2.0" stroke-linecap="round" fill="none"/><line x1="32.35" y1="336.72" x2="34.35" y2="336.72" stroke="#444" stroke-width="0.57"/><line x1="32.35" y1="338.13" x2="34.35" y2="338.13" stroke="#666" stroke-width="0.62"/><line x1="32.35" y1="339.67" x2="34.35" y2="339.67" stroke="#888" stroke-width="0.77"/><line x1="32.35" y1="342.95" x2="34.35" y2="342.95" stroke="#888" stroke-width="0.62"/></g>
<rect x="30.9" y="345.6" width="0.6" height="0.9" fill="#8a5050"/>
<g><path d="M43.2,334.0717544197107 Q43.2,339.03587720985536 43.2,344" stroke="#999" stroke-width="2.5" stroke-linecap="round" fill="none"/><path d="M43.2,334.0717544197107 Q43.2,339.03587720985536 43.2,344" stroke="#cdcdcd" stroke-width="2.0" stroke-linecap="round" fill="none"/><line x1="42.20" y1="335.16" x2="44.20" y2="335.16" stroke="#888" stroke-width="0.61"/><line x1="42.20" y1="338.10" x2="44.20" y2="338.10" stroke="#888" stroke-width="0.77"/><line x1="42.20" y1="339.90" x2="44.20" y2="339.90" stroke="#444" stroke-width="0.46"/><line x1="42.20" y1="341.67" x2="44.20" y2="341.67" stroke="#777" stroke-width="0.86"/><line x1="42.20" y1="343.46" x2="44.20" y2="343.46" stroke="#666" stroke-width="0.83"/><path d="M48.8,334.08969065269014 Q48.8,339.04484532634507 48.8,344" stroke="#999" stroke-width="2.5" stroke-linecap="round" fill="none"/><path d="M48.8,334.08969065269014 Q48.8,339.04484532634507 48.8,344" stroke="#cdcdcd" stroke-width="2.0" stroke-linecap="round" fill="none"/><line x1="47.80" y1="339.95" x2="49.80" y2="339.95" stroke="#555" stroke-width="0.50"/><line x1="47.80" y1="341.55" x2="49.80" y2="341.55" stroke="#666" stroke-width="0.70"/><line x1="47.80" y1="343.34" x2="49.80" y2="343.34" stroke="#888" stroke-width="0.81"/></g>
<rect x="45.7" y="345.6" width="0.6" height="0.9" fill="#8a5050"/>
<g><path d="M86.65,334.6859083182 Q86.65,339.34295415910003 86.65,344" stroke="#999" stroke-width="2.5" stroke-linecap="round" fill="none"/><path d="M86.65,334.6859083182 Q86.65,339.34295415910003 86.65,344" stroke="#cdcdcd" stroke-width="2.0" stroke-linecap="round" fill="none"/><line x1="85.65" y1="335.47" x2="87.65" y2="335.47" stroke="#777" stroke-width="0.74"/><line x1="85.65" y1="336.73" x2="87.65" y2="336.73" stroke="#666" stroke-width="0.55"/><path d="M90.85,335.3675406245384 Q90.85,339.6837703122692 90.85,344" stroke="#999" stroke-width="2.5" stroke-linecap="round" fill="none"/><path d="M90.85,335.3675406245384 Q90.85,339.6837703122692 90.85,344" stroke="#cdcdcd" stroke-width="2.0" stroke-linecap="round" fill="none"/><line x1="89.85" y1="337.71" x2="91.85" y2="337.71" stroke="#777" stroke-width="0.80"/><line x1="89.85" y1="339.46" x2="91.85" y2="339.46" stroke="#444" stroke-width="0.77"/></g>
<rect x="88.5" y="345.6" width="0.6" height="0.9" fill="#8a5050"/>
<g><path d="M100.54,335.49722914280693 Q100.54,339.74861457140344 100.54,344" stroke="#999" stroke-width="2.5" stroke-linecap="round" fill="none"/><path d="M100.54,335.49722914280693 Q100.54,339.74861457140344 100.54,344" stroke="#cdcdcd" stroke-width="2.0" stroke-linecap="round" fill="none"/><line x1="99.54" y1="336.29" x2="101.54" y2="336.29" stroke="#555" stroke-width="0.85"/><path d="M104.46,334.13988497899675 Q104.46,339.0699424894984 104.46,344" stroke="#999" stroke-width="2.5" stroke-linecap="round" fill="none"/><path d="M104.46,334.13988497899675 Q104.46,339.0699424894984 104.46,344" stroke="#cdcdcd" stroke-width="2.0" stroke-linecap="round" fill="none"/><line x1="103.46" y1="334.96" x2="105.46" y2="334.96" stroke="#888" stroke-width="0.81"/><line x1="103.46" y1="336.51" x2="105.46" y2="336.51" stroke="#888" stroke-width="0.78"/><line x1="103.46" y1="338.47" x2="105.46" y2="338.47" stroke="#444" stroke-width="0.84"/><line x1="103.46" y1="339.99" x2="105.46" y2="339.99" stroke="#666" stroke-width="0.55"/><line x1="103.46" y1="341.46" x2="105.46" y2="341.46" stroke="#444" stroke-width="0.58"/><line x1="103.46" y1="342.97" x2="105.46" y2="342.97" stroke="#777" stroke-width="0.60"/></g>
<rect x="102.2" y="345.6" width="0.6" height="0.9" fill="#8a5050"/>
<g><path d="M114.15,335.37642694373585 Q114.15,339.6882134718679 114.15,344" stroke="#999" stroke-width="2.5" stroke-linecap="round" fill="none"/><path d="M114.15,335.37642694373585 Q114.15,339.6882134718679 114.15,344" stroke="#cdcdcd" stroke-width="2.0" stroke-linecap="round" fill="none"/><line x1="113.15" y1="336.23" x2="115.15" y2="336.23" stroke="#888" stroke-width="0.86"/><line x1="113.15" y1="341.18" x2="115.15" y2="341.18" stroke="#777" stroke-width="0.88"/><path d="M118.35,334.21220499149473 Q118.35,339.10610249574734 118.35,344" stroke="#999" stroke-width="2.5" stroke-linecap="round" fill="none"/><path d="M118.35,334.21220499149473 Q118.35,339.10610249574734 118.35,344" stroke="#cdcdcd" stroke-width="2.0" stroke-linecap="round" fill="none"/><line x1="117.35" y1="336.71" x2="119.35" y2="336.71" stroke="#444" stroke-width="0.65"/><line x1="117.35" y1="339.85" x2="119.35" y2="339.85" stroke="#666" stroke-width="0.83"/><line x1="117.35" y1="343.44" x2="119.35" y2="343.44" stroke="#666" stroke-width="0.57"/></g>
<rect x="116.0" y="345.6" width="0.6" height="0.9" fill="#8a5050"/>
<g><path d="M16.65,357.0048752030611 Q16.65,361.0024376015306 16.65,365" stroke="#999" stroke-width="2.5" stroke-linecap="round" fill="none"/><path d="M16.65,357.0048752030611 Q16.65,361.0024376015306 16.65,365" stroke="#cdcdcd" stroke-width="2.0" stroke-linecap="round" fill="none"/><line x1="15.65" y1="357.85" x2="17.65" y2="357.85" stroke="#777" stroke-width="0.67"/><line x1="15.65" y1="360.80" x2="17.65" y2="360.80" stroke="#555" stroke-width="0.90"/><line x1="15.65" y1="362.72" x2="17.65" y2="362.72" stroke="#555" stroke-width="0.85"/><line x1="15.65" y1="364.27" x2="17.65" y2="364.27" stroke="#666" stroke-width="0.63"/><path d="M20.85,357.46339526204775 Q20.85,361.23169763102385 20.85,365" stroke="#999" stroke-width="2.5" stroke-linecap="round" fill="none"/><path d="M20.85,357.46339526204775 Q20.85,361.23169763102385 20.85,365" stroke="#cdcdcd" stroke-width="2.0" stroke-linecap="round" fill="none"/><line x1="19.85" y1="357.96" x2="21.85" y2="357.96" stroke="#555" stroke-width="0.55"/><line x1="19.85" y1="361.47" x2="21.85" y2="361.47" stroke="#777" stroke-width="0.83"/><line x1="19.85" y1="362.75" x2="21.85" y2="362.75" stroke="#777" stroke-width="0.68"/></g>
<rect x="18.4" y="366.6" width="0.6" height="0.9" fill="#8a5050"/>
<g><path d="M30.54,358.19805223816064 Q30.54,361.59902611908035 30.54,365" stroke="#999" stroke-width="2.5" stroke-linecap="round" fill="none"/><path d="M30.54,358.19805223816064 Q30.54,361.59902611908035 30.54,365" stroke="#cdcdcd" stroke-width="2.0" stroke-linecap="round" fill="none"/><line x1="29.54" y1="358.86" x2="31.54" y2="358.86" stroke="#666" stroke-width="0.54"/><line x1="29.54" y1="360.97" x2="31.54" y2="360.97" stroke="#555" stroke-width="0.82"/><line x1="29.54" y1="364.31" x2="31.54" y2="364.31" stroke="#444" stroke-width="0.76"/><path d="M34.46,357.1475685436938 Q34.46,361.0737842718469 34.46,365" stroke="#999" stroke-width="2.5" stroke-linecap="round" fill="none"/><path d="M34.46,357.1475685436938 Q34.46,361.0737842718469 34.46,365" stroke="#cdcdcd" stroke-width="2.0" stroke-linecap="round" fill="none"/><line x1="33.46" y1="362.79" x2="35.46" y2="362.79" stroke="#888" stroke-width="0.85"/><line x1="33.46" y1="364.12" x2="35.46" y2="364.12" stroke="#888" stroke-width="0.86"/></g>
<rect x="32.2" y="366.6" width="0.6" height="0.9" fill="#8a5050"/>
<g><path d="M60.32,358.10124724405466 Q60.32,361.55062362202733 60.32,365" stroke="#999" stroke-width="2.5" stroke-linecap="round" fill="none"/><path d="M60.32,358.10124724405466 Q60.32,361.55062362202733 60.32,365" stroke="#cdcdcd" stroke-width="2.0" stroke-linecap="round" fill="none"/><line x1="59.32" y1="359.13" x2="61.32" y2="359.13" stroke="#666" stroke-width="0.46"/><line x1="59.32" y1="362.25" x2="61.32" y2="362.25" stroke="#777" stroke-width="0.83"/><path d="M63.68,357.0660718661926 Q63.68,361.0330359330963 63.68,365" stroke="#999" stroke-width="2.5" stroke-linecap="round" fill="none"/><path d="M63.68,357.0660718661926 Q63.68,361.0330359330963 63.68,365" stroke="#cdcdcd" stroke-width="2.0" stroke-linecap="round" fill="none"/><line x1="62.68" y1="357.87" x2="64.68" y2="357.87" stroke="#777" stroke-width="0.53"/><line x1="62.68" y1="359.56" x2="64.68" y2="359.56" stroke="#666" stroke-width="0.74"/><line x1="62.68" y1="362.53" x2="64.68" y2="362.53" stroke="#888" stroke-width="0.61"/></g>
<rect x="61.7" y="366.6" width="0.6" height="0.9" fill="#8a5050"/>
<g><path d="M72.76,357.2181432976118 Q72.76,361.10907164880587 72.76,365" stroke="#999" stroke-width="2.5" stroke-linecap="round" fill="none"/><path d="M72.76,357.2181432976118 Q72.76,361.10907164880587 72.76,365" stroke="#cdcdcd" stroke-width="2.0" stroke-linecap="round" fill="none"/><line x1="71.76" y1="359.54" x2="73.76" y2="359.54" stroke="#666" stroke-width="0.61"/><line x1="71.76" y1="361.28" x2="73.76" y2="361.28" stroke="#666" stroke-width="0.53"/><line x1="71.76" y1="364.24" x2="73.76" y2="364.24" stroke="#555" stroke-width="0.87"/><path d="M77.24,357.34554597224303 Q77.24,361.1727729861215 77.24,365" stroke="#999" stroke-width="2.5" stroke-linecap="round" fill="none"/><path d="M77.24,357.34554597224303 Q77.24,361.1727729861215 77.24,365" stroke="#cdcdcd" stroke-width="2.0" stroke-linecap="round" fill="none"/><line x1="76.24" y1="359.37" x2="78.24" y2="359.37" stroke="#555" stroke-width="0.49"/><line x1="76.24" y1="361.12" x2="78.24" y2="361.12" stroke="#555" stroke-width="0.79"/></g>
<rect x="74.7" y="366.6" width="0.6" height="0.9" fill="#8a5050"/>
<g><path d="M103.2,351.37840407881885 Q101.2,358.18920203940945 103.2,365" stroke="#999" stroke-width="2.5" stroke-linecap="round" fill="none"/><path d="M103.2,351.37840407881885 Q101.2,358.18920203940945 103.2,365" stroke="#cdcdcd" stroke-width="2.0" stroke-linecap="round" fill="none"/><line x1="102.00" y1="352.10" x2="104.00" y2="352.10" stroke="#555" stroke-width="0.81"/><line x1="101.69" y1="353.40" x2="103.69" y2="353.40" stroke="#888" stroke-width="0.56"/><line x1="101.38" y1="355.27" x2="103.38" y2="355.27" stroke="#444" stroke-width="0.66"/><line x1="101.24" y1="359.56" x2="103.24" y2="359.56" stroke="#444" stroke-width="0.69"/><line x1="101.37" y1="361.04" x2="103.37" y2="361.04" stroke="#888" stroke-width="0.63"/><line x1="101.60" y1="362.48" x2="103.60" y2="362.48" stroke="#888" stroke-width="0.54"/><line x1="101.94" y1="364.05" x2="103.94" y2="364.05" stroke="#555" stroke-width="0.57"/><path d="M108.8,352.02346077330577 Q110.8,358.51173038665286 108.8,365" stroke="#999" stroke-width="2.5" stroke-linecap="round" fill="none"/><path d="M108.8,352.02346077330577 Q110.8,358.51173038665286 108.8,365" stroke="#cdcdcd" stroke-width="2.0" stroke-linecap="round" fill="none"/><line x1="108.46" y1="354.70" x2="110.46" y2="354.70" stroke="#444" stroke-width="0.75"/><line x1="108.77" y1="359.59" x2="110.77" y2="359.59" stroke="#666" stroke-width="0.50"/><line x1="108.64" y1="361.14" x2="110.64" y2="361.14" stroke="#666" stroke-width="0.77"/><line x1="108.46" y1="362.29" x2="110.46" y2="362.29" stroke="#666" stroke-width="0.63"/><line x1="108.08" y1="364.00" x2="110.08" y2="364.00" stroke="#888" stroke-width="0.67"/></g>
<rect x="105.7" y="366.6" width="0.6" height="0.9" fill="#8a5050"/>
<line x1="11" y1="368.5" x2="122.5" y2="368.5" stroke="#b8b8b8" stroke-width="0.8"/>
<text x="67.5" y="381" font-size="9.2" text-anchor="middle" fill="#222">46, XY</text>
<g><path d="M142.42,286.1637868262999 Q143.01999999999998,295.08189341314994 142.42,304" stroke="#999" stroke-width="2.5" stroke-linecap="round" fill="none"/><path d="M142.42,286.1637868262999 Q143.01999999999998,295.08189341314994 142.42,304" stroke="#cdcdcd" stroke-width="2.0" stroke-linecap="round" fill="none"/><line x1="141.48" y1="287.03" x2="143.48" y2="287.03" stroke="#444" stroke-width="0.67"/><line x1="141.63" y1="290.26" x2="143.63" y2="290.26" stroke="#444" stroke-width="0.64"/><line x1="141.68" y1="291.76" x2="143.68" y2="291.76" stroke="#555" stroke-width="0.84"/><line x1="141.71" y1="293.70" x2="143.71" y2="293.70" stroke="#888" stroke-width="0.86"/><line x1="141.72" y1="294.81" x2="143.72" y2="294.81" stroke="#666" stroke-width="0.85"/><line x1="141.68" y1="298.19" x2="143.68" y2="298.19" stroke="#444" stroke-width="0.81"/><line x1="141.64" y1="299.70" x2="143.64" y2="299.70" stroke="#777" stroke-width="0.59"/><line x1="141.46" y1="303.41" x2="143.46" y2="303.41" stroke="#555" stroke-width="0.88"/><path d="M148.58,286.95717432426227 Q147.98000000000002,295.47858716213113 148.58,304" stroke="#999" stroke-width="2.5" stroke-linecap="round" fill="none"/><path d="M148.58,286.95717432426227 Q147.98000000000002,295.47858716213113 148.58,304" stroke="#cdcdcd" stroke-width="2.0" stroke-linecap="round" fill="none"/><line x1="147.44" y1="289.28" x2="149.44" y2="289.28" stroke="#555" stroke-width="0.88"/><line x1="147.37" y1="290.90" x2="149.37" y2="290.90" stroke="#555" stroke-width="0.68"/><line x1="147.32" y1="298.72" x2="149.32" y2="298.72" stroke="#888" stroke-width="0.82"/><line x1="147.38" y1="300.41" x2="149.38" y2="300.41" stroke="#777" stroke-width="0.86"/><line x1="147.54" y1="303.45" x2="149.54" y2="303.45" stroke="#777" stroke-width="0.58"/></g>
<rect x="145.2" y="305.6" width="0.6" height="0.9" fill="#8a5050"/>
<g><path d="M163.08,285.061337088957 Q161.88000000000002,294.5306685444785 163.08,304" stroke="#999" stroke-width="2.5" stroke-linecap="round" fill="none"/><path d="M163.08,285.061337088957 Q161.88000000000002,294.5306685444785 163.08,304" stroke="#cdcdcd" stroke-width="2.0" stroke-linecap="round" fill="none"/><line x1="161.95" y1="286.13" x2="163.95" y2="286.13" stroke="#888" stroke-width="0.63"/><line x1="161.69" y1="288.93" x2="163.69" y2="288.93" stroke="#777" stroke-width="0.60"/><line x1="161.57" y1="290.87" x2="163.57" y2="290.87" stroke="#888" stroke-width="0.46"/><line x1="161.52" y1="292.00" x2="163.52" y2="292.00" stroke="#444" stroke-width="0.76"/><line x1="161.49" y1="295.59" x2="163.49" y2="295.59" stroke="#777" stroke-width="0.58"/><line x1="161.69" y1="300.19" x2="163.69" y2="300.19" stroke="#666" stroke-width="0.54"/><line x1="161.81" y1="301.51" x2="163.81" y2="301.51" stroke="#666" stroke-width="0.70"/><path d="M170.92,285.03861140036247 Q172.11999999999998,294.51930570018123 170.92,304" stroke="#999" stroke-width="2.5" stroke-linecap="round" fill="none"/><path d="M170.92,285.03861140036247 Q172.11999999999998,294.51930570018123 170.92,304" stroke="#cdcdcd" stroke-width="2.0" stroke-linecap="round" fill="none"/><line x1="170.34" y1="289.26" x2="172.34" y2="289.26" stroke="#888" stroke-width="0.89"/><line x1="170.40" y1="290.36" x2="172.40" y2="290.36" stroke="#888" stroke-width="0.82"/><line x1="170.48" y1="292.00" x2="172.48" y2="292.00" stroke="#444" stroke-width="0.72"/><line x1="170.51" y1="293.50" x2="172.51" y2="293.50" stroke="#777" stroke-width="0.58"/><line x1="170.43" y1="298.19" x2="172.43" y2="298.19" stroke="#555" stroke-width="0.52"/></g>
<rect x="166.7" y="305.6" width="0.6" height="0.9" fill="#8a5050"/>
<g><path d="M182.42,284.46430735624597 Q183.61999999999998,294.232153678123 182.42,304" stroke="#999" stroke-width="2.5" stroke-linecap="round" fill="none"/><path d="M182.42,284.46430735624597 Q183.61999999999998,294.232153678123 182.42,304" stroke="#cdcdcd" stroke-width="2.0" stroke-linecap="round" fill="none"/><line x1="181.48" y1="285.00" x2="183.48" y2="285.00" stroke="#777" stroke-width="0.47"/><line x1="181.95" y1="290.96" x2="183.95" y2="290.96" stroke="#444" stroke-width="0.58"/><line x1="182.02" y1="294.21" x2="184.02" y2="294.21" stroke="#888" stroke-width="0.88"/><line x1="181.96" y1="297.21" x2="183.96" y2="297.21" stroke="#666" stroke-width="0.72"/><line x1="181.67" y1="301.66" x2="183.67" y2="301.66" stroke="#555" stroke-width="0.57"/><line x1="181.48" y1="303.47" x2="183.48" y2="303.47" stroke="#444" stroke-width="0.45"/><path d="M188.58,284.86101959834485 Q187.38000000000002,294.43050979917246 188.58,304" stroke="#999" stroke-width="2.5" stroke-linecap="round" fill="none"/><path d="M188.58,284.86101959834485 Q187.38000000000002,294.43050979917246 188.58,304" stroke="#cdcdcd" stroke-width="2.0" stroke-linecap="round" fill="none"/><line x1="187.51" y1="285.47" x2="189.51" y2="285.47" stroke="#666" stroke-width="0.68"/><line x1="187.20" y1="288.65" x2="189.20" y2="288.65" stroke="#666" stroke-width="0.76"/><line x1="186.98" y1="293.92" x2="188.98" y2="293.92" stroke="#666" stroke-width="0.78"/><line x1="186.98" y1="295.07" x2="188.98" y2="295.07" stroke="#555" stroke-width="0.70"/><line x1="187.02" y1="297.04" x2="189.02" y2="297.04" stroke="#777" stroke-width="0.88"/><line x1="187.10" y1="298.65" x2="189.10" y2="298.65" stroke="#777" stroke-width="0.52"/><line x1="187.19" y1="300.10" x2="189.19" y2="300.10" stroke="#444" stroke-width="0.73"/><line x1="187.30" y1="301.43" x2="189.30" y2="301.43" stroke="#888" stroke-width="0.58"/><line x1="187.47" y1="303.05" x2="189.47" y2="303.05" stroke="#444" stroke-width="0.56"/></g>
<rect x="185.2" y="305.6" width="0.6" height="0.9" fill="#8a5050"/>
<g><path d="M219.7,285.55013225685724 Q220.29999999999998,294.77506612842865 219.7,304" stroke="#999" stroke-width="2.5" stroke-linecap="round" fill="none"/><path d="M219.7,285.55013225685724 Q220.29999999999998,294.77506612842865 219.7,304" stroke="#cdcdcd" stroke-width="2.0" stroke-linecap="round" fill="none"/><line x1="218.75" y1="286.28" x2="220.75" y2="286.28" stroke="#555" stroke-width="0.58"/><line x1="218.83" y1="287.93" x2="220.83" y2="287.93" stroke="#777" stroke-width="0.75"/><line x1="218.91" y1="289.59" x2="220.91" y2="289.59" stroke="#888" stroke-width="0.87"/><line x1="219.00" y1="294.05" x2="221.00" y2="294.05" stroke="#666" stroke-width="0.89"/><line x1="218.99" y1="296.82" x2="220.99" y2="296.82" stroke="#888" stroke-width="0.47"/><line x1="218.84" y1="301.56" x2="220.84" y2="301.56" stroke="#777" stroke-width="0.85"/><line x1="218.73" y1="303.46" x2="220.73" y2="303.46" stroke="#888" stroke-width="0.88"/><path d="M225.3,284.0092742272412 Q224.70000000000002,294.00463711362056 225.3,304" stroke="#999" stroke-width="2.5" stroke-linecap="round" fill="none"/><path d="M225.3,284.0092742272412 Q224.70000000000002,294.00463711362056 225.3,304" stroke="#cdcdcd" stroke-width="2.0" stroke-linecap="round" fill="none"/><line x1="224.25" y1="284.86" x2="226.25" y2="284.86" stroke="#666" stroke-width="0.68"/><line x1="224.18" y1="286.27" x2="226.18" y2="286.27" stroke="#777" stroke-width="0.87"/><line x1="224.10" y1="288.10" x2="226.10" y2="288.10" stroke="#444" stroke-width="0.54"/><line x1="224.00" y1="293.73" x2="226.00" y2="293.73" stroke="#555" stroke-width="0.70"/><line x1="224.01" y1="295.35" x2="226.01" y2="295.35" stroke="#444" stroke-width="0.83"/><line x1="224.03" y1="296.97" x2="226.03" y2="296.97" stroke="#444" stroke-width="0.47"/><line x1="224.06" y1="298.33" x2="226.06" y2="298.33" stroke="#666" stroke-width="0.79"/><line x1="224.12" y1="300.21" x2="226.12" y2="300.21" stroke="#444" stroke-width="0.51"/><line x1="224.27" y1="303.41" x2="226.27" y2="303.41" stroke="#666" stroke-width="0.88"/></g>
<rect x="222.2" y="305.6" width="0.6" height="0.9" fill="#8a5050"/>
<g><path d="M236.42,286.3133806825467 Q237.42,295.15669034127336 236.42,304" stroke="#999" stroke-width="2.5" stroke-linecap="round" fill="none"/><path d="M236.42,286.3133806825467 Q237.42,295.15669034127336 236.42,304" stroke="#cdcdcd" stroke-width="2.0" stroke-linecap="round" fill="none"/><line x1="235.76" y1="290.19" x2="237.76" y2="290.19" stroke="#777" stroke-width="0.85"/><line x1="235.85" y1="291.90" x2="237.85" y2="291.90" stroke="#888" stroke-width="0.49"/><line x1="235.90" y1="293.32" x2="237.90" y2="293.32" stroke="#777" stroke-width="0.46"/><line x1="235.92" y1="295.09" x2="237.92" y2="295.09" stroke="#666" stroke-width="0.66"/><line x1="235.90" y1="296.80" x2="237.90" y2="296.80" stroke="#777" stroke-width="0.60"/><line x1="235.86" y1="298.31" x2="237.86" y2="298.31" stroke="#555" stroke-width="0.90"/><line x1="235.78" y1="299.81" x2="237.78" y2="299.81" stroke="#888" stroke-width="0.68"/><line x1="235.65" y1="301.71" x2="237.65" y2="301.71" stroke="#666" stroke-width="0.90"/><path d="M242.58,286.7843405909835 Q241.58,295.3921702954917 242.58,304" stroke="#999" stroke-width="2.5" stroke-linecap="round" fill="none"/><path d="M242.58,286.7843405909835 Q241.58,295.3921702954917 242.58,304" stroke="#cdcdcd" stroke-width="2.0" stroke-linecap="round" fill="none"/><line x1="241.52" y1="287.30" x2="243.52" y2="287.30" stroke="#555" stroke-width="0.85"/><line x1="241.36" y1="288.98" x2="243.36" y2="288.98" stroke="#777" stroke-width="0.48"/><line x1="241.15" y1="292.12" x2="243.15" y2="292.12" stroke="#555" stroke-width="0.50"/><line x1="241.10" y1="297.02" x2="243.10" y2="297.02" stroke="#444" stroke-width="0.57"/><line x1="241.33" y1="301.45" x2="243.33" y2="301.45" stroke="#777" stroke-width="0.63"/></g>
<rect x="239.2" y="305.6" width="0.6" height="0.9" fill="#8a5050"/>
<g><path d="M142.2,312.4960231842817 Q142.7,319.24801159214087 142.2,326" stroke="#999" stroke-width="2.5" stroke-linecap="round" fill="none"/><path d="M142.2,312.4960231842817 Q142.7,319.24801159214087 142.2,326" stroke="#cdcdcd" stroke-width="2.0" stroke-linecap="round" fill="none"/><line x1="141.25" y1="313.28" x2="143.25" y2="313.28" stroke="#666" stroke-width="0.52"/><line x1="141.44" y1="317.66" x2="143.44" y2="317.66" stroke="#555" stroke-width="0.52"/><line x1="141.45" y1="319.13" x2="143.45" y2="319.13" stroke="#555" stroke-width="0.53"/><line x1="141.44" y1="320.80" x2="143.44" y2="320.80" stroke="#888" stroke-width="0.88"/><line x1="141.40" y1="322.34" x2="143.40" y2="322.34" stroke="#666" stroke-width="0.87"/><path d="M147.8,313.57736093288827 Q147.3,319.78868046644413 147.8,326" stroke="#999" stroke-width="2.5" stroke-linecap="round" fill="none"/><path d="M147.8,313.57736093288827 Q147.3,319.78868046644413 147.8,326" stroke="#cdcdcd" stroke-width="2.0" stroke-linecap="round" fill="none"/><line x1="146.73" y1="314.55" x2="148.73" y2="314.55" stroke="#444" stroke-width="0.89"/><line x1="146.59" y1="317.33" x2="148.59" y2="317.33" stroke="#777" stroke-width="0.55"/><line x1="146.56" y1="318.91" x2="148.56" y2="318.91" stroke="#555" stroke-width="0.73"/><line x1="146.73" y1="325.08" x2="148.73" y2="325.08" stroke="#777" stroke-width="0.80"/></g>
<rect x="144.7" y="327.6" width="0.6" height="0.9" fill="#8a5050"/>
<g><path d="M158.2,313.9871835506644 Q158.79999999999998,319.9935917753322 158.2,326" stroke="#999" stroke-width="2.5" stroke-linecap="round" fill="none"/><path d="M158.2,313.9871835506644 Q158.79999999999998,319.9935917753322 158.2,326" stroke="#cdcdcd" stroke-width="2.0" stroke-linecap="round" fill="none"/><line x1="157.36" y1="315.96" x2="159.36" y2="315.96" stroke="#555" stroke-width="0.54"/><line x1="157.46" y1="317.85" x2="159.46" y2="317.85" stroke="#666" stroke-width="0.76"/><line x1="157.49" y1="319.14" x2="159.49" y2="319.14" stroke="#666" stroke-width="0.57"/><line x1="157.40" y1="323.54" x2="159.40" y2="323.54" stroke="#666" stroke-width="0.57"/><line x1="157.29" y1="325.07" x2="159.29" y2="325.07" stroke="#555" stroke-width="0.56"/><path d="M163.8,313.738051595257 Q163.20000000000002,319.8690257976285 163.8,326" stroke="#999" stroke-width="2.5" stroke-linecap="round" fill="none"/><path d="M163.8,313.738051595257 Q163.20000000000002,319.8690257976285 163.8,326" stroke="#cdcdcd" stroke-width="2.0" stroke-linecap="round" fill="none"/><line x1="162.55" y1="317.39" x2="164.55" y2="317.39" stroke="#666" stroke-width="0.60"/><line x1="162.50" y1="320.62" x2="164.50" y2="320.62" stroke="#555" stroke-width="0.61"/><line x1="162.53" y1="321.92" x2="164.53" y2="321.92" stroke="#888" stroke-width="0.54"/><line x1="162.62" y1="323.71" x2="164.62" y2="323.71" stroke="#666" stroke-width="0.85"/></g>
<rect x="160.7" y="327.6" width="0.6" height="0.9" fill="#8a5050"/>
<g><path d="M172.98,314.00005747284337 Q172.98,320.00002873642165 172.98,326" stroke="#999" stroke-width="2.5" stroke-linecap="round" fill="none"/><path d="M172.98,314.00005747284337 Q172.98,320.00002873642165 172.98,326" stroke="#cdcdcd" stroke-width="2.0" stroke-linecap="round" fill="none"/><line x1="171.98" y1="314.68" x2="173.98" y2="314.68" stroke="#444" stroke-width="0.73"/><line x1="171.98" y1="316.45" x2="173.98" y2="316.45" stroke="#777" stroke-width="0.70"/><line x1="171.98" y1="319.81" x2="173.98" y2="319.81" stroke="#555" stroke-width="0.85"/><line x1="171.98" y1="321.98" x2="173.98" y2="321.98" stroke="#444" stroke-width="0.54"/><line x1="171.98" y1="325.15" x2="173.98" y2="325.15" stroke="#555" stroke-width="0.73"/><path d="M178.02,314.09397003699814 Q178.02,320.0469850184991 178.02,326" stroke="#999" stroke-width="2.5" stroke-linecap="round" fill="none"/><path d="M178.02,314.09397003699814 Q178.02,320.0469850184991 178.02,326" stroke="#cdcdcd" stroke-width="2.0" stroke-linecap="round" fill="none"/><line x1="177.02" y1="314.89" x2="179.02" y2="314.89" stroke="#444" stroke-width="0.62"/><line x1="177.02" y1="316.73" x2="179.02" y2="316.73" stroke="#666" stroke-width="0.51"/><line x1="177.02" y1="318.20" x2="179.02" y2="318.20" stroke="#444" stroke-width="0.68"/><line x1="177.02" y1="324.89" x2="179.02" y2="324.89" stroke="#777" stroke-width="0.66"/></g>
<rect x="175.2" y="327.6" width="0.6" height="0.9" fill="#8a5050"/>
<g><path d="M188.2,312.6308207286658 Q188.79999999999998,319.31541036433293 188.2,326" stroke="#999" stroke-width="2.5" stroke-linecap="round" fill="none"/><path d="M188.2,312.6308207286658 Q188.79999999999998,319.31541036433293 188.2,326" stroke="#cdcdcd" stroke-width="2.0" stroke-linecap="round" fill="none"/><line x1="187.37" y1="314.85" x2="189.37" y2="314.85" stroke="#444" stroke-width="0.82"/><line x1="187.45" y1="316.64" x2="189.45" y2="316.64" stroke="#444" stroke-width="0.66"/><line x1="187.50" y1="320.15" x2="189.50" y2="320.15" stroke="#444" stroke-width="0.83"/><line x1="187.46" y1="321.61" x2="189.46" y2="321.61" stroke="#555" stroke-width="0.69"/><line x1="187.27" y1="325.15" x2="189.27" y2="325.15" stroke="#444" stroke-width="0.57"/><path d="M193.8,313.11530139539803 Q193.20000000000002,319.55765069769905 193.8,326" stroke="#999" stroke-width="2.5" stroke-linecap="round" fill="none"/><path d="M193.8,313.11530139539803 Q193.20000000000002,319.55765069769905 193.8,326" stroke="#cdcdcd" stroke-width="2.0" stroke-linecap="round" fill="none"/><line x1="192.62" y1="315.46" x2="194.62" y2="315.46" stroke="#888" stroke-width="0.65"/><line x1="192.50" y1="319.00" x2="194.50" y2="319.00" stroke="#777" stroke-width="0.67"/><line x1="192.55" y1="322.22" x2="194.55" y2="322.22" stroke="#888" stroke-width="0.64"/><line x1="192.63" y1="323.86" x2="194.63" y2="323.86" stroke="#555" stroke-width="0.54"/></g>
<rect x="190.7" y="327.6" width="0.6" height="0.9" fill="#8a5050"/>
<g><path d="M203.2,313.71622125301167 Q203.2,319.85811062650583 203.2,326" stroke="#999" stroke-width="2.5" stroke-linecap="round" fill="none"/><path d="M203.2,313.71622125301167 Q203.2,319.85811062650583 203.2,326" stroke="#cdcdcd" stroke-width="2.0" stroke-linecap="round" fill="none"/><line x1="202.20" y1="314.60" x2="204.20" y2="314.60" stroke="#777" stroke-width="0.79"/><line x1="202.20" y1="319.17" x2="204.20" y2="319.17" stroke="#555" stroke-width="0.83"/><line x1="202.20" y1="320.83" x2="204.20" y2="320.83" stroke="#444" stroke-width="0.75"/><line x1="202.20" y1="323.70" x2="204.20" y2="323.70" stroke="#444" stroke-width="0.67"/><line x1="202.20" y1="325.33" x2="204.20" y2="325.33" stroke="#444" stroke-width="0.76"/><path d="M208.8,312.5608909620439 Q208.8,319.28044548102196 208.8,326" stroke="#999" stroke-width="2.5" stroke-linecap="round" fill="none"/><path d="M208.8,312.5608909620439 Q208.8,319.28044548102196 208.8,326" stroke="#cdcdcd" stroke-width="2.0" stroke-linecap="round" fill="none"/><line x1="207.80" y1="315.25" x2="209.80" y2="315.25" stroke="#888" stroke-width="0.89"/><line x1="207.80" y1="316.70" x2="209.80" y2="316.70" stroke="#666" stroke-width="0.50"/><line x1="207.80" y1="321.86" x2="209.80" y2="321.86" stroke="#555" stroke-width="0.60"/><line x1="207.80" y1="325.06" x2="209.80" y2="325.06" stroke="#444" stroke-width="0.88"/></g>
<rect x="205.7" y="327.6" width="0.6" height="0.9" fill="#8a5050"/>
<g><path d="M218.2,313.249806280027 Q219.2,319.6249031400135 218.2,326" stroke="#999" stroke-width="2.5" stroke-linecap="round" fill="none"/><path d="M218.2,313.249806280027 Q219.2,319.6249031400135 218.2,326" stroke="#cdcdcd" stroke-width="2.0" stroke-linecap="round" fill="none"/><line x1="217.50" y1="315.60" x2="219.50" y2="315.60" stroke="#777" stroke-width="0.57"/><line x1="217.61" y1="322.26" x2="219.61" y2="322.26" stroke="#555" stroke-width="0.67"/><path d="M223.8,313.1155361737109 Q222.8,319.55776808685545 223.8,326" stroke="#999" stroke-width="2.5" stroke-linecap="round" fill="none"/><path d="M223.8,313.1155361737109 Q222.8,319.55776808685545 223.8,326" stroke="#cdcdcd" stroke-width="2.0" stroke-linecap="round" fill="none"/><line x1="222.70" y1="313.79" x2="224.70" y2="313.79" stroke="#888" stroke-width="0.88"/><line x1="222.31" y1="320.66" x2="224.31" y2="320.66" stroke="#444" stroke-width="0.79"/><line x1="222.65" y1="324.91" x2="224.65" y2="324.91" stroke="#777" stroke-width="0.54"/></g>
<rect x="220.7" y="327.6" width="0.6" height="0.9" fill="#8a5050"/>
<g><path d="M236.42,313.8892382097258 Q237.01999999999998,319.9446191048629 236.42,326" stroke="#999" stroke-width="2.5" stroke-linecap="round" fill="none"/><path d="M236.42,313.8892382097258 Q237.01999999999998,319.9446191048629 236.42,326" stroke="#cdcdcd" stroke-width="2.0" stroke-linecap="round" fill="none"/><line x1="235.60" y1="316.11" x2="237.60" y2="316.11" stroke="#666" stroke-width="0.59"/><line x1="235.68" y1="317.72" x2="237.68" y2="317.72" stroke="#888" stroke-width="0.78"/><line x1="235.68" y1="322.24" x2="237.68" y2="322.24" stroke="#777" stroke-width="0.83"/><line x1="235.61" y1="323.64" x2="237.61" y2="323.64" stroke="#444" stroke-width="0.65"/><line x1="235.47" y1="325.43" x2="237.47" y2="325.43" stroke="#888" stroke-width="0.81"/><path d="M242.58,313.2525932239825 Q241.98000000000002,319.6262966119913 242.58,326" stroke="#999" stroke-width="2.5" stroke-linecap="round" fill="none"/><path d="M242.58,313.2525932239825 Q241.98000000000002,319.6262966119913 242.58,326" stroke="#cdcdcd" stroke-width="2.0" stroke-linecap="round" fill="none"/><line x1="241.41" y1="315.42" x2="243.41" y2="315.42" stroke="#888" stroke-width="0.88"/><line x1="241.32" y1="317.43" x2="243.32" y2="317.43" stroke="#666" stroke-width="0.59"/><line x1="241.28" y1="319.01" x2="243.28" y2="319.01" stroke="#555" stroke-width="0.67"/><line x1="241.32" y1="321.93" x2="243.32" y2="321.93" stroke="#666" stroke-width="0.50"/><line x1="241.40" y1="323.58" x2="243.40" y2="323.58" stroke="#888" stroke-width="0.69"/><line x1="241.51" y1="325.26" x2="243.51" y2="325.26" stroke="#444" stroke-width="0.79"/></g>
<rect x="239.2" y="327.6" width="0.6" height="0.9" fill="#8a5050"/>
<g><path d="M141.98,334.8553680171054 Q141.98,339.42768400855266 141.98,344" stroke="#999" stroke-width="2.5" stroke-linecap="round" fill="none"/><path d="M141.98,334.8553680171054 Q141.98,339.42768400855266 141.98,344" stroke="#cdcdcd" stroke-width="2.0" stroke-linecap="round" fill="none"/><line x1="140.98" y1="337.42" x2="142.98" y2="337.42" stroke="#888" stroke-width="0.64"/><line x1="140.98" y1="338.57" x2="142.98" y2="338.57" stroke="#888" stroke-width="0.53"/><line x1="140.98" y1="340.10" x2="142.98" y2="340.10" stroke="#777" stroke-width="0.80"/><line x1="140.98" y1="341.59" x2="142.98" y2="341.59" stroke="#555" stroke-width="0.83"/><line x1="140.98" y1="343.21" x2="142.98" y2="343.21" stroke="#555" stroke-width="0.47"/><path d="M147.02,335.3684772614336 Q147.02,339.6842386307168 147.02,344" stroke="#999" stroke-width="2.5" stroke-linecap="round" fill="none"/><path d="M147.02,335.3684772614336 Q147.02,339.6842386307168 147.02,344" stroke="#cdcdcd" stroke-width="2.0" stroke-linecap="round" fill="none"/><line x1="146.02" y1="336.26" x2="148.02" y2="336.26" stroke="#444" stroke-width="0.89"/><line x1="146.02" y1="338.09" x2="148.02" y2="338.09" stroke="#666" stroke-width="0.87"/><line x1="146.02" y1="341.68" x2="148.02" y2="341.68" stroke="#888" stroke-width="0.46"/><line x1="146.02" y1="342.89" x2="148.02" y2="342.89" stroke="#888" stroke-width="0.68"/></g>
<rect x="144.2" y="345.6" width="0.6" height="0.9" fill="#8a5050"/>
<g><path d="M155.87,334.111891785244 Q155.87,339.055945892622 155.87,344" stroke="#999" stroke-width="2.5" stroke-linecap="round" fill="none"/><path d="M155.87,334.111891785244 Q155.87,339.055945892622 155.87,344" stroke="#cdcdcd" stroke-width="2.0" stroke-linecap="round" fill="none"/><line x1="154.87" y1="334.70" x2="156.87" y2="334.70" stroke="#777" stroke-width="0.63"/><line x1="154.87" y1="336.86" x2="156.87" y2="336.86" stroke="#666" stroke-width="0.60"/><line x1="154.87" y1="338.28" x2="156.87" y2="338.28" stroke="#444" stroke-width="0.61"/><line x1="154.87" y1="341.69" x2="156.87" y2="341.69" stroke="#666" stroke-width="0.70"/><line x1="154.87" y1="343.32" x2="156.87" y2="343.32" stroke="#777" stroke-width="0.82"/><path d="M160.63,335.24841127959746 Q160.63,339.62420563979873 160.63,344" stroke="#999" stroke-width="2.5" stroke-linecap="round" fill="none"/><path d="M160.63,335.24841127959746 Q160.63,339.62420563979873 160.63,344" stroke="#cdcdcd" stroke-width="2.0" stroke-linecap="round" fill="none"/><line x1="159.63" y1="339.77" x2="161.63" y2="339.77" stroke="#777" stroke-width="0.78"/><line x1="159.63" y1="341.14" x2="161.63" y2="341.14" stroke="#555" stroke-width="0.53"/></g>
<rect x="157.9" y="345.6" width="0.6" height="0.9" fill="#8a5050"/>
<g><path d="M171.42,334.6937839932256 Q171.42,339.34689199661284 171.42,344" stroke="#999" stroke-width="2.5" stroke-linecap="round" fill="none"/><path d="M171.42,334.6937839932256 Q171.42,339.34689199661284 171.42,344" stroke="#cdcdcd" stroke-width="2.0" stroke-linecap="round" fill="none"/><line x1="170.42" y1="341.49" x2="172.42" y2="341.49" stroke="#888" stroke-width="0.86"/><path d="M177.58,335.0108693827443 Q177.58,339.50543469137216 177.58,344" stroke="#999" stroke-width="2.5" stroke-linecap="round" fill="none"/><path d="M177.58,335.0108693827443 Q177.58,339.50543469137216 177.58,344" stroke="#cdcdcd" stroke-width="2.0" stroke-linecap="round" fill="none"/><line x1="176.58" y1="336.11" x2="178.58" y2="336.11" stroke="#666" stroke-width="0.55"/><line x1="176.58" y1="339.25" x2="178.58" y2="339.25" stroke="#888" stroke-width="0.66"/><line x1="176.58" y1="341.37" x2="178.58" y2="341.37" stroke="#555" stroke-width="0.68"/><line x1="176.58" y1="343.38" x2="178.58" y2="343.38" stroke="#444" stroke-width="0.66"/></g>
<rect x="174.2" y="345.6" width="0.6" height="0.9" fill="#8a5050"/>
<g><path d="M208.2,334.23088445081265 Q208.2,339.11544222540635 208.2,344" stroke="#999" stroke-width="2.5" stroke-linecap="round" fill="none"/><path d="M208.2,334.23088445081265 Q208.2,339.11544222540635 208.2,344" stroke="#cdcdcd" stroke-width="2.0" stroke-linecap="round" fill="none"/><line x1="207.20" y1="336.93" x2="209.20" y2="336.93" stroke="#444" stroke-width="0.60"/><line x1="207.20" y1="340.07" x2="209.20" y2="340.07" stroke="#555" stroke-width="0.50"/><path d="M213.8,335.4345104404097 Q213.8,339.71725522020483 213.8,344" stroke="#999" stroke-width="2.5" stroke-linecap="round" fill="none"/><path d="M213.8,335.4345104404097 Q213.8,339.71725522020483 213.8,344" stroke="#cdcdcd" stroke-width="2.0" stroke-linecap="round" fill="none"/><line x1="212.80" y1="336.49" x2="214.80" y2="336.49" stroke="#555" stroke-width="0.56"/><line x1="212.80" y1="338.21" x2="214.80" y2="338.21" stroke="#777" stroke-width="0.66"/></g>
<rect x="210.7" y="345.6" width="0.6" height="0.9" fill="#8a5050"/>
<g><path d="M222.98,334.7789556697193 Q222.98,339.3894778348597 222.98,344" stroke="#999" stroke-width="2.5" stroke-linecap="round" fill="none"/><path d="M222.98,334.7789556697193 Q222.98,339.3894778348597 222.98,344" stroke="#cdcdcd" stroke-width="2.0" stroke-linecap="round" fill="none"/><line x1="221.98" y1="335.40" x2="223.98" y2="335.40" stroke="#888" stroke-width="0.64"/><line x1="221.98" y1="337.14" x2="223.98" y2="337.14" stroke="#555" stroke-width="0.77"/><line x1="221.98" y1="339.97" x2="223.98" y2="339.97" stroke="#888" stroke-width="0.84"/><line x1="221.98" y1="341.71" x2="223.98" y2="341.71" stroke="#777" stroke-width="0.90"/><line x1="221.98" y1="343.26" x2="223.98" y2="343.26" stroke="#444" stroke-width="0.85"/><path d="M228.02,334.5984116473642 Q228.02,339.2992058236821 228.02,344" stroke="#999" stroke-width="2.5" stroke-linecap="round" fill="none"/><path d="M228.02,334.5984116473642 Q228.02,339.2992058236821 228.02,344" stroke="#cdcdcd" stroke-width="2.0" stroke-linecap="round" fill="none"/><line x1="227.02" y1="335.41" x2="229.02" y2="335.41" stroke="#777" stroke-width="0.49"/><line x1="227.02" y1="336.97" x2="229.02" y2="336.97" stroke="#666" stroke-width="0.56"/><line x1="227.02" y1="338.69" x2="229.02" y2="338.69" stroke="#555" stroke-width="0.85"/><line x1="227.02" y1="339.84" x2="229.02" y2="339.84" stroke="#666" stroke-width="0.79"/><line x1="227.02" y1="341.82" x2="229.02" y2="341.82" stroke="#666" stroke-width="0.74"/><line x1="227.02" y1="343.06" x2="229.02" y2="343.06" stroke="#666" stroke-width="0.47"/></g>
<rect x="225.2" y="345.6" width="0.6" height="0.9" fill="#8a5050"/>
<g><path d="M237.98,335.10119050083733 Q237.98,339.55059525041867 237.98,344" stroke="#999" stroke-width="2.5" stroke-linecap="round" fill="none"/><path d="M237.98,335.10119050083733 Q237.98,339.55059525041867 237.98,344" stroke="#cdcdcd" stroke-width="2.0" stroke-linecap="round" fill="none"/><line x1="236.98" y1="336.25" x2="238.98" y2="336.25" stroke="#777" stroke-width="0.64"/><line x1="236.98" y1="337.69" x2="238.98" y2="337.69" stroke="#555" stroke-width="0.46"/><line x1="236.98" y1="341.55" x2="238.98" y2="341.55" stroke="#555" stroke-width="0.46"/><line x1="236.98" y1="342.86" x2="238.98" y2="342.86" stroke="#666" stroke-width="0.56"/><path d="M243.02,334.8177558323992 Q243.02,339.4088779161996 243.02,344" stroke="#999" stroke-width="2.5" stroke-linecap="round" fill="none"/><path d="M243.02,334.8177558323992 Q243.02,339.4088779161996 243.02,344" stroke="#cdcdcd" stroke-width="2.0" stroke-linecap="round" fill="none"/><line x1="242.02" y1="340.32" x2="244.02" y2="340.32" stroke="#777" stroke-width="0.84"/><line x1="242.02" y1="343.45" x2="244.02" y2="343.45" stroke="#444" stroke-width="0.90"/></g>
<rect x="240.2" y="345.6" width="0.6" height="0.9" fill="#8a5050"/>
<g><path d="M141.98,358.1285250629499 Q141.98,361.5642625314749 141.98,365" stroke="#999" stroke-width="2.5" stroke-linecap="round" fill="none"/><path d="M141.98,358.1285250629499 Q141.98,361.5642625314749 141.98,365" stroke="#cdcdcd" stroke-width="2.0" stroke-linecap="round" fill="none"/><line x1="140.98" y1="360.95" x2="142.98" y2="360.95" stroke="#666" stroke-width="0.82"/><line x1="140.98" y1="362.57" x2="142.98" y2="362.57" stroke="#777" stroke-width="0.77"/><line x1="140.98" y1="364.14" x2="142.98" y2="364.14" stroke="#777" stroke-width="0.49"/><path d="M147.02,357.28394687243474 Q147.02,361.14197343621737 147.02,365" stroke="#999" stroke-width="2.5" stroke-linecap="round" fill="none"/><path d="M147.02,357.28394687243474 Q147.02,361.14197343621737 147.02,365" stroke="#cdcdcd" stroke-width="2.0" stroke-linecap="round" fill="none"/><line x1="146.02" y1="359.51" x2="148.02" y2="359.51" stroke="#888" stroke-width="0.61"/><line x1="146.02" y1="361.34" x2="148.02" y2="361.34" stroke="#777" stroke-width="0.77"/><line x1="146.02" y1="362.53" x2="148.02" y2="362.53" stroke="#444" stroke-width="0.52"/></g>
<rect x="144.2" y="366.6" width="0.6" height="0.9" fill="#8a5050"/>
<g><path d="M156.98,357.4539134566903 Q156.98,361.22695672834516 156.98,365" stroke="#999" stroke-width="2.5" stroke-linecap="round" fill="none"/><path d="M156.98,357.4539134566903 Q156.98,361.22695672834516 156.98,365" stroke="#cdcdcd" stroke-width="2.0" stroke-linecap="round" fill="none"/><line x1="155.98" y1="357.97" x2="157.98" y2="357.97" stroke="#777" stroke-width="0.54"/><line x1="155.98" y1="359.84" x2="157.98" y2="359.84" stroke="#666" stroke-width="0.77"/><line x1="155.98" y1="361.50" x2="157.98" y2="361.50" stroke="#555" stroke-width="0.50"/><line x1="155.98" y1="362.50" x2="157.98" y2="362.50" stroke="#777" stroke-width="0.75"/><line x1="155.98" y1="364.12" x2="157.98" y2="364.12" stroke="#555" stroke-width="0.90"/><path d="M162.02,357.75011294137863 Q162.02,361.3750564706893 162.02,365" stroke="#999" stroke-width="2.5" stroke-linecap="round" fill="none"/><path d="M162.02,357.75011294137863 Q162.02,361.3750564706893 162.02,365" stroke="#cdcdcd" stroke-width="2.0" stroke-linecap="round" fill="none"/><line x1="161.02" y1="360.55" x2="163.02" y2="360.55" stroke="#888" stroke-width="0.73"/></g>
<rect x="159.2" y="366.6" width="0.6" height="0.9" fill="#8a5050"/>
<g><path d="M189.15,357.2543151686461 Q189.15,361.1271575843231 189.15,365" stroke="#999" stroke-width="2.5" stroke-linecap="round" fill="none"/><path d="M189.15,357.2543151686461 Q189.15,361.1271575843231 189.15,365" stroke="#cdcdcd" stroke-width="2.0" stroke-linecap="round" fill="none"/><line x1="188.15" y1="357.97" x2="190.15" y2="357.97" stroke="#888" stroke-width="0.84"/><line x1="188.15" y1="359.60" x2="190.15" y2="359.60" stroke="#555" stroke-width="0.59"/><line x1="188.15" y1="362.53" x2="190.15" y2="362.53" stroke="#777" stroke-width="0.81"/><line x1="188.15" y1="364.09" x2="190.15" y2="364.09" stroke="#444" stroke-width="0.46"/><path d="M193.35,357.9832231285981 Q193.35,361.4916115642991 193.35,365" stroke="#999" stroke-width="2.5" stroke-linecap="round" fill="none"/><path d="M193.35,357.9832231285981 Q193.35,361.4916115642991 193.35,365" stroke="#cdcdcd" stroke-width="2.0" stroke-linecap="round" fill="none"/><line x1="192.35" y1="358.91" x2="194.35" y2="358.91" stroke="#555" stroke-width="0.85"/><line x1="192.35" y1="360.34" x2="194.35" y2="360.34" stroke="#444" stroke-width="0.56"/><line x1="192.35" y1="362.58" x2="194.35" y2="362.58" stroke="#555" stroke-width="0.83"/><line x1="192.35" y1="364.26" x2="194.35" y2="364.26" stroke="#444" stroke-width="0.81"/></g>
<rect x="190.9" y="366.6" width="0.6" height="0.9" fill="#8a5050"/>
<g><path d="M202.76,357.85036414423746 Q202.76,361.42518207211873 202.76,365" stroke="#999" stroke-width="2.5" stroke-linecap="round" fill="none"/><path d="M202.76,357.85036414423746 Q202.76,361.42518207211873 202.76,365" stroke="#cdcdcd" stroke-width="2.0" stroke-linecap="round" fill="none"/><line x1="201.76" y1="358.52" x2="203.76" y2="358.52" stroke="#444" stroke-width="0.48"/><line x1="201.76" y1="360.79" x2="203.76" y2="360.79" stroke="#888" stroke-width="0.59"/><line x1="201.76" y1="364.20" x2="203.76" y2="364.20" stroke="#777" stroke-width="0.46"/><path d="M207.24,357.7866111053766 Q207.24,361.3933055526883 207.24,365" stroke="#999" stroke-width="2.5" stroke-linecap="round" fill="none"/><path d="M207.24,357.7866111053766 Q207.24,361.3933055526883 207.24,365" stroke="#cdcdcd" stroke-width="2.0" stroke-linecap="round" fill="none"/><line x1="206.24" y1="360.75" x2="208.24" y2="360.75" stroke="#444" stroke-width="0.88"/><line x1="206.24" y1="362.19" x2="208.24" y2="362.19" stroke="#666" stroke-width="0.53"/></g>
<rect x="204.7" y="366.6" width="0.6" height="0.9" fill="#8a5050"/>
<g><path d="M232.1,351.84615654429865 Q232.1,358.4230782721493 232.1,365" stroke="#999" stroke-width="2.5" stroke-linecap="round" fill="none"/><path d="M232.1,351.84615654429865 Q232.1,358.4230782721493 232.1,365" stroke="#cdcdcd" stroke-width="2.0" stroke-linecap="round" fill="none"/><line x1="231.10" y1="352.59" x2="233.10" y2="352.59" stroke="#888" stroke-width="0.87"/><line x1="231.10" y1="355.85" x2="233.10" y2="355.85" stroke="#666" stroke-width="0.60"/><line x1="231.10" y1="360.68" x2="233.10" y2="360.68" stroke="#777" stroke-width="0.50"/><line x1="231.10" y1="362.24" x2="233.10" y2="362.24" stroke="#888" stroke-width="0.81"/><path d="M234.9,351.6371182610322 Q234.9,358.31855913051606 234.9,365" stroke="#999" stroke-width="2.5" stroke-linecap="round" fill="none"/><path d="M234.9,351.6371182610322 Q234.9,358.31855913051606 234.9,365" stroke="#cdcdcd" stroke-width="2.0" stroke-linecap="round" fill="none"/><line x1="233.90" y1="352.63" x2="235.90" y2="352.63" stroke="#777" stroke-width="0.50"/><line x1="233.90" y1="355.60" x2="235.90" y2="355.60" stroke="#666" stroke-width="0.47"/><line x1="233.90" y1="357.39" x2="235.90" y2="357.39" stroke="#888" stroke-width="0.60"/></g>
<rect x="233.2" y="366.6" width="0.6" height="0.9" fill="#8a5050"/>
<g><path d="M241.88,358.7693222760933 Q241.88,361.8846611380467 241.88,365" stroke="#999" stroke-width="2.5" stroke-linecap="round" fill="none"/><path d="M241.88,358.7693222760933 Q241.88,361.8846611380467 241.88,365" stroke="#cdcdcd" stroke-width="2.0" stroke-linecap="round" fill="none"/><line x1="240.88" y1="361.37" x2="242.88" y2="361.37" stroke="#666" stroke-width="0.69"/><line x1="240.88" y1="362.93" x2="242.88" y2="362.93" stroke="#555" stroke-width="0.71"/><line x1="240.88" y1="363.98" x2="242.88" y2="363.98" stroke="#888" stroke-width="0.49"/><path d="M244.12,358.2337373979152 Q244.12,361.6168686989576 244.12,365" stroke="#999" stroke-width="2.5" stroke-linecap="round" fill="none"/><path d="M244.12,358.2337373979152 Q244.12,361.6168686989576 244.12,365" stroke="#cdcdcd" stroke-width="2.0" stroke-linecap="round" fill="none"/><line x1="243.12" y1="358.99" x2="245.12" y2="358.99" stroke="#666" stroke-width="0.67"/><line x1="243.12" y1="362.32" x2="245.12" y2="362.32" stroke="#444" stroke-width="0.86"/><line x1="243.12" y1="364.11" x2="245.12" y2="364.11" stroke="#666" stroke-width="0.66"/></g>
<rect x="242.7" y="366.6" width="0.6" height="0.9" fill="#8a5050"/>
<path d="M180.5,338.6 L192,334.2 L188.6,338.6 L192,343 Z" fill="#d42f2f"/>
<line x1="137.5" y1="368.5" x2="249" y2="368.5" stroke="#b8b8b8" stroke-width="0.8"/>
<text x="140" y="380.8" font-size="9.25" fill="#222">47,XY,+idic(15)(q13)</text>
<defs>
<filter id="rough" x="-10%" y="-10%" width="120%" height="120%">
<feTurbulence type="fractalNoise" baseFrequency="0.73" numOctaves="2" seed="3" result="n"/>
<feDisplacementMap in="SourceGraphic" in2="n" scale="2.4" xChannelSelector="R" yChannelSelector="G"/>
</filter>
<filter id="soft" x="-10%" y="-10%" width="120%" height="120%"><feGaussianBlur stdDeviation="0.8"/></filter>
<filter id="soft2" x="-20%" y="-20%" width="140%" height="140%"><feGaussianBlur stdDeviation="1.6"/></filter>
<filter id="spk" x="-5%" y="-5%" width="110%" height="110%" color-interpolation-filters="sRGB">
<feTurbulence type="fractalNoise" baseFrequency="1.37" numOctaves="2" seed="4" result="n"/>
<feColorMatrix in="n" type="matrix" values="0 0 0 0 0 0 0 0 0 0 0 0 0 0 0 0 2.5 0 0 -0.4" result="na"/>
<feComposite in="SourceGraphic" in2="na" operator="in"/>
</filter>
<filter id="spkb2" x="-20%" y="-20%" width="140%" height="140%" color-interpolation-filters="sRGB">
<feGaussianBlur in="SourceGraphic" stdDeviation="2.6" result="b"/>
<feTurbulence type="fractalNoise" baseFrequency="1.37" numOctaves="2" seed="12" result="n"/>
<feColorMatrix in="n" type="matrix" values="0 0 0 0 0 0 0 0 0 0 0 0 0 0 0 0 3 0 0 -0.85" result="na"/>
<feComposite in="b" in2="na" operator="in"/>
</filter>
<filter id="spkb" x="-15%" y="-15%" width="130%" height="130%" color-interpolation-filters="sRGB">
<feGaussianBlur in="SourceGraphic" stdDeviation="1.8" result="b"/>
<feTurbulence type="fractalNoise" baseFrequency="1.37" numOctaves="2" seed="8" result="n"/>
<feColorMatrix in="n" type="matrix" values="0 0 0 0 0 0 0 0 0 0 0 0 0 0 0 0 3 0 0 -0.6" result="na"/>
<feComposite in="b" in2="na" operator="in"/>
</filter>
</defs>
<text x="367.3" y="8.4" font-size="9.4" text-anchor="middle" fill="#000">Primary</text>
<line x1="277.5" y1="11" x2="277.5" y2="157.5" stroke="#8c8c8c" stroke-width="1"/>
<line x1="277.5" y1="157.5" x2="459" y2="157.5" stroke="#8c8c8c" stroke-width="1"/>
<line x1="276.0" y1="29.5" x2="277.5" y2="29.5" stroke="#8c8c8c" stroke-width="0.7"/>
<text x="275.1" y="31.4" font-size="5.4" font-weight="bold" text-anchor="end" fill="#111">10</text>
<line x1="276.0" y1="54" x2="277.5" y2="54" stroke="#8c8c8c" stroke-width="0.7"/>
<text x="275.1" y="55.9" font-size="5.4" font-weight="bold" text-anchor="end" fill="#111">5</text>
<line x1="276.0" y1="79" x2="277.5" y2="79" stroke="#8c8c8c" stroke-width="0.7"/>
<text x="275.1" y="80.9" font-size="5.4" font-weight="bold" text-anchor="end" fill="#111">0</text>
<line x1="276.0" y1="104" x2="277.5" y2="104" stroke="#8c8c8c" stroke-width="0.7"/>
<text x="275.1" y="105.9" font-size="5.4" font-weight="bold" text-anchor="end" fill="#111">-5</text>
<line x1="276.0" y1="129" x2="277.5" y2="129" stroke="#8c8c8c" stroke-width="0.7"/>
<text x="275.1" y="130.9" font-size="5.4" font-weight="bold" text-anchor="end" fill="#111">-10</text>
<line x1="276.0" y1="154" x2="277.5" y2="154" stroke="#8c8c8c" stroke-width="0.7"/>
<text x="275.1" y="155.9" font-size="5.4" font-weight="bold" text-anchor="end" fill="#111">-15</text>
<line x1="291" y1="157.5" x2="291" y2="159.0" stroke="#8c8c8c" stroke-width="0.7"/>
<text x="291" y="164.5" font-size="6.0" font-weight="bold" text-anchor="middle" fill="#111">-10</text>
<line x1="353" y1="157.5" x2="353" y2="159.0" stroke="#8c8c8c" stroke-width="0.7"/>
<text x="353" y="164.5" font-size="6.0" font-weight="bold" text-anchor="middle" fill="#111">0</text>
<line x1="416" y1="157.5" x2="416" y2="159.0" stroke="#8c8c8c" stroke-width="0.7"/>
<text x="416" y="164.5" font-size="6.0" font-weight="bold" text-anchor="middle" fill="#111">10</text>
<text x="368.7" y="170.2" font-size="6.4" font-weight="bold" text-anchor="middle" fill="#111">UMAP_1</text>
<text x="264.5" y="84" font-size="6.4" font-weight="bold" fill="#111" text-anchor="middle" transform="rotate(-90 264.5 84)">UMAP_2</text>
<path d="M348.0 72.2h0M347.2 79.0h0M361.5 82.4h0M351.0 95.6h0M359.9 79.2h0M367.5 81.9h0M366.2 89.2h0M364.2 94.7h0M361.5 91.6h0M349.7 79.9h0M365.2 69.9h0M378.1 81.9h0M360.4 76.7h0M358.4 79.0h0M351.4 82.9h0M371.1 80.1h0M357.1 84.3h0M370.4 78.3h0M368.8 84.1h0M341.8 82.2h0M355.2 81.4h0M376.8 87.0h0M347.3 92.0h0M350.4 77.8h0M374.4 84.3h0M358.0 76.7h0M347.6 93.5h0M364.3 74.1h0M361.9 80.3h0M381.1 80.3h0M350.4 79.7h0M348.6 94.2h0M363.5 77.7h0M367.9 96.4h0M362.7 72.1h0M366.5 78.3h0M370.3 85.8h0M369.4 89.2h0" stroke="#e07fb0" stroke-width="0.70" stroke-linecap="round" fill="none"/><path d="M371.2 69.6h0M367.3 77.0h0M344.9 78.9h0M367.7 83.6h0M358.1 86.9h0M349.9 90.0h0M358.9 78.3h0M344.3 92.4h0M372.8 76.2h0M372.0 78.9h0M355.6 90.5h0M368.6 69.1h0M378.0 84.8h0M365.2 87.4h0M377.2 77.0h0M346.8 68.6h0M343.3 72.3h0M375.4 78.3h0M355.4 81.2h0M362.9 88.7h0M356.7 91.7h0M361.2 75.1h0M363.1 81.6h0M374.4 74.2h0M355.9 74.7h0M351.0 86.5h0M347.6 93.7h0M379.3 81.9h0M371.9 84.8h0M364.0 79.5h0M365.8 79.0h0M356.2 79.3h0" stroke="#9a8fd8" stroke-width="0.70" stroke-linecap="round" fill="none"/><path d="M347.0 67.3h0M364.1 86.1h0M346.8 74.4h0M362.9 80.2h0M369.7 78.2h0M347.8 71.1h0M372.7 97.5h0M351.3 75.9h0M370.9 76.4h0M368.2 84.6h0M355.2 89.8h0M365.0 85.0h0M367.9 84.4h0M358.8 86.1h0M367.5 83.2h0M352.0 66.5h0M360.1 85.3h0M358.3 95.3h0M356.2 82.4h0M358.0 88.3h0M361.8 76.0h0M362.1 84.0h0M352.1 85.0h0M350.8 71.6h0M372.7 85.7h0M355.3 63.2h0M386.3 66.0h0M386.8 77.2h0M374.1 75.2h0M357.3 94.3h0M363.2 67.8h0M381.0 83.4h0M359.6 78.5h0" stroke="#7fb3e8" stroke-width="0.70" stroke-linecap="round" fill="none"/><path d="M345.7 94.3h0M359.3 83.2h0M370.8 79.5h0M374.0 87.6h0M366.6 73.7h0M351.9 92.0h0M360.1 85.4h0M370.0 95.1h0M354.7 83.0h0M368.0 70.7h0M350.7 97.5h0M348.4 82.4h0M380.0 83.3h0M360.7 82.6h0M374.5 85.9h0M365.3 78.8h0M363.6 77.8h0M376.6 76.4h0M349.1 69.7h0M373.4 82.0h0M375.8 77.5h0M378.7 87.5h0M366.6 91.2h0M346.7 82.9h0M377.1 89.7h0M344.3 84.3h0M356.8 78.5h0M353.5 84.0h0M356.8 79.7h0M366.1 86.9h0M363.2 70.5h0M373.8 75.7h0M366.3 78.9h0M347.0 76.9h0M352.1 97.1h0M361.6 82.5h0M364.7 80.9h0M354.7 84.2h0M375.0 83.5h0M357.4 81.9h0M363.5 90.7h0M368.8 67.4h0M368.7 81.8h0M370.6 85.7h0M359.9 92.6h0" stroke="#80c0d0" stroke-width="0.70" stroke-linecap="round" fill="none"/><path d="M359.7 73.4h0M377.2 74.7h0M362.9 87.7h0M357.3 88.9h0M364.1 78.2h0M374.5 76.4h0M358.1 90.4h0M376.5 92.3h0M370.7 79.9h0M347.6 80.8h0M360.5 80.0h0M347.8 75.9h0M372.1 88.9h0M344.9 93.1h0M361.1 84.4h0M361.2 88.7h0M349.3 92.8h0M357.8 73.2h0M352.3 76.4h0M365.5 76.0h0M350.5 79.8h0M349.0 75.9h0M356.8 94.3h0M362.2 78.5h0M373.7 74.5h0M376.6 91.5h0M356.9 88.6h0M364.5 82.5h0M360.2 83.2h0M360.3 78.2h0M362.6 84.4h0M352.8 76.2h0M372.9 89.0h0M357.0 92.4h0M361.3 81.6h0M359.2 66.4h0M358.7 95.4h0M370.2 77.8h0M369.0 80.7h0" stroke="#e0a060" stroke-width="0.70" stroke-linecap="round" fill="none"/><path d="M361.3 78.7h0M353.5 96.6h0M358.7 76.9h0M346.0 93.4h0M367.1 86.3h0M366.2 76.1h0M373.0 80.6h0M348.6 95.2h0M364.3 89.6h0M362.5 83.5h0M359.4 75.1h0M369.2 83.5h0M347.1 74.7h0M374.3 69.4h0M347.2 75.9h0M366.2 79.5h0M375.0 89.0h0M368.8 66.2h0M365.8 84.4h0M361.0 78.4h0M363.8 87.2h0M376.1 69.4h0M354.7 70.2h0M357.3 95.5h0M359.7 75.3h0M371.3 76.1h0M369.1 78.2h0M355.3 80.4h0M375.1 84.3h0M358.1 74.4h0M366.3 68.3h0M350.8 75.5h0M344.8 78.3h0M368.1 79.3h0M357.1 79.3h0M363.9 89.9h0M360.5 80.5h0M360.3 85.8h0M366.1 77.0h0M343.9 72.6h0M352.5 89.1h0" stroke="#8fa0e0" stroke-width="0.70" stroke-linecap="round" fill="none"/><path d="M380.2 83.7h0M361.8 78.0h0M364.4 91.8h0M378.7 84.8h0M348.2 70.3h0M352.0 74.8h0M366.4 91.0h0M379.1 87.8h0M367.5 70.8h0M350.1 79.4h0M374.6 68.6h0M372.4 88.0h0M369.7 79.9h0M365.8 73.9h0M375.8 79.7h0M349.6 82.2h0M360.7 80.0h0M353.2 65.2h0M356.1 86.9h0M348.3 91.4h0M370.7 75.8h0M364.7 86.1h0M383.9 85.7h0M364.7 78.0h0M352.5 72.2h0M358.0 77.1h0M362.4 83.9h0M364.0 87.7h0M352.6 75.5h0M355.4 67.5h0M364.2 79.8h0M362.5 77.9h0M341.8 78.5h0M351.5 96.6h0M358.1 88.5h0M368.6 87.0h0M359.9 82.2h0M352.8 78.7h0M363.2 86.3h0M360.8 72.1h0M359.1 96.2h0" stroke="#f0a0a0" stroke-width="0.70" stroke-linecap="round" fill="none"/><path d="M355.2 88.6h0M365.7 70.6h0M357.4 75.1h0M355.5 70.2h0M349.8 92.0h0M365.4 76.3h0M359.5 81.4h0M357.0 88.0h0M356.5 92.2h0M372.2 82.0h0M374.6 79.6h0M354.0 78.3h0M369.9 79.5h0M361.8 80.8h0M366.7 82.4h0M351.3 80.4h0M359.6 77.6h0M351.3 70.1h0M358.4 84.0h0M370.0 91.8h0M359.8 92.7h0M365.9 87.3h0M360.6 90.7h0M377.0 79.5h0M358.6 68.9h0M359.7 94.7h0M366.4 73.9h0M365.6 82.9h0M361.0 85.9h0M370.4 77.9h0M356.4 82.6h0M357.1 87.1h0M369.7 87.3h0" stroke="#a0d070" stroke-width="0.70" stroke-linecap="round" fill="none"/>
<path d="M356.1 67.0h0M376.7 62.4h0M372.8 68.3h0M375.2 67.7h0M349.8 65.9h0M368.3 66.2h0M367.6 65.9h0M370.1 66.7h0M367.6 69.6h0M371.2 64.6h0M363.1 67.1h0M356.0 70.8h0M370.2 71.0h0M366.8 70.8h0M362.3 61.1h0M354.6 62.0h0M354.6 63.1h0M370.3 66.6h0M357.8 61.9h0M358.5 69.9h0M361.7 64.6h0M367.5 64.5h0M373.3 69.5h0M362.2 69.0h0M354.1 66.8h0M367.8 60.8h0M355.5 63.1h0M351.7 66.7h0M362.6 67.7h0M360.8 69.0h0M377.0 60.5h0M362.1 63.8h0M367.2 61.7h0M352.5 62.5h0M354.7 64.4h0M358.1 64.5h0M362.0 63.8h0M354.8 66.5h0M360.4 71.3h0M376.6 62.7h0M366.3 70.3h0M356.2 64.1h0M367.9 64.1h0M368.2 60.2h0M370.4 70.2h0M370.0 65.9h0M357.3 61.2h0M365.8 62.9h0M362.6 71.5h0M373.2 60.4h0M367.6 65.8h0M355.8 70.6h0M366.5 68.7h0" stroke="#d9619c" stroke-width="0.80" stroke-linecap="round" fill="none"/><path d="M373.1 63.6h0M368.2 65.4h0M373.7 60.4h0M376.4 64.9h0M354.6 70.6h0M377.4 65.2h0M363.4 67.3h0M360.9 72.5h0M365.0 72.4h0M363.7 70.6h0M365.8 68.3h0M372.4 63.7h0M364.3 60.5h0M370.9 60.0h0M374.5 67.7h0M364.6 65.9h0M366.5 67.2h0M359.3 71.1h0M355.7 69.4h0M377.1 62.9h0M375.0 67.8h0M349.3 60.2h0M372.2 70.3h0M349.9 67.1h0M358.5 68.2h0M353.8 60.3h0M361.1 60.6h0M371.0 70.5h0M349.8 65.6h0M370.0 63.2h0M371.5 69.1h0M353.8 60.5h0M353.9 69.7h0M368.6 62.8h0M351.7 68.8h0M367.2 64.3h0M351.9 63.5h0M373.7 62.7h0M370.7 61.6h0M373.7 61.8h0M374.1 68.6h0M368.6 65.0h0M351.3 65.9h0M357.7 71.9h0M353.1 69.7h0M362.8 66.2h0M364.9 63.2h0M364.5 67.9h0M362.4 63.8h0M363.7 63.2h0M366.6 70.8h0M354.0 70.4h0M363.1 62.0h0M371.0 60.5h0M372.8 65.1h0M352.3 60.7h0M356.8 66.6h0M373.5 65.4h0M367.3 64.6h0M361.1 64.1h0M357.2 68.9h0M350.6 63.8h0M359.8 65.0h0M352.8 66.3h0" stroke="#e07fb0" stroke-width="0.80" stroke-linecap="round" fill="none"/><path d="M364.9 66.5h0M364.9 68.8h0M359.6 71.0h0M367.7 67.5h0M372.5 64.3h0M355.5 70.2h0M363.0 71.4h0M350.6 66.5h0M356.3 70.9h0M352.3 66.5h0M368.6 70.2h0M371.5 65.6h0M360.2 64.5h0M358.6 66.4h0M370.5 64.5h0M351.1 66.8h0M372.9 63.8h0M370.0 60.1h0M362.8 61.9h0M352.4 67.1h0M357.6 62.3h0M358.4 61.3h0M358.5 61.5h0M362.4 68.5h0M361.1 72.0h0M368.2 63.2h0M375.8 63.8h0M367.2 64.2h0M356.3 71.7h0M360.5 60.3h0M362.7 71.6h0M356.0 60.3h0M375.4 61.4h0M358.5 64.7h0M364.1 67.4h0M352.4 62.9h0M355.7 64.9h0M377.5 63.6h0M356.8 71.7h0M373.3 66.1h0M363.5 68.7h0M351.1 62.8h0M357.3 61.5h0" stroke="#d05090" stroke-width="0.80" stroke-linecap="round" fill="none"/>
<path d="M347.1 105.7h0M338.9 111.6h0M344.4 109.4h0M346.1 110.1h0M339.5 107.1h0M347.0 114.0h0M346.9 102.0h0M342.3 100.6h0M339.2 101.4h0M343.6 105.4h0M347.8 97.6h0M340.9 112.7h0M349.3 115.2h0M342.5 106.6h0M346.4 98.3h0M345.0 98.8h0M346.0 101.4h0M345.7 102.5h0M348.1 97.2h0M344.0 100.8h0M350.6 108.7h0M344.5 105.4h0M351.2 112.5h0M345.3 115.2h0M344.5 99.3h0M339.2 100.4h0M343.4 101.3h0M343.0 99.9h0M342.5 100.9h0M347.4 107.3h0M349.4 104.6h0M349.4 113.5h0M339.6 108.1h0M343.1 114.4h0M346.1 111.4h0M345.2 100.3h0M345.1 115.5h0M346.2 109.5h0M339.6 112.5h0M339.4 110.1h0M340.3 100.7h0M340.8 99.2h0" stroke="#e48a80" stroke-width="0.80" stroke-linecap="round" fill="none"/><path d="M341.3 114.4h0M351.7 112.0h0M341.9 100.7h0M345.1 103.6h0M346.9 108.0h0M343.5 105.1h0M347.0 111.2h0M342.2 115.0h0M346.1 112.4h0M338.7 104.1h0M340.6 99.9h0M350.0 113.0h0M340.5 103.3h0M346.7 102.5h0M346.5 105.7h0M349.3 112.8h0M348.7 102.3h0M343.5 111.8h0M350.4 115.3h0M351.5 111.1h0M347.0 104.5h0M341.7 104.3h0M348.3 110.3h0M348.1 99.6h0M343.7 102.6h0M348.2 112.7h0M340.9 106.3h0M341.1 111.4h0M341.9 113.8h0M347.3 102.0h0M351.6 113.8h0M342.4 107.8h0M338.4 101.3h0M342.8 106.2h0M345.8 110.4h0M342.2 109.3h0M348.5 109.9h0M340.8 97.5h0M341.1 109.5h0M349.0 110.6h0M348.9 108.7h0M344.5 103.4h0M343.4 99.3h0M348.1 98.6h0M342.3 103.9h0M346.0 97.2h0M345.0 106.5h0M349.8 108.3h0M338.2 96.8h0M343.2 111.0h0M338.8 112.3h0M338.9 99.1h0M341.9 115.8h0" stroke="#dc6e63" stroke-width="0.80" stroke-linecap="round" fill="none"/><path d="M343.8 98.8h0M346.6 112.2h0M346.8 100.3h0M351.3 113.1h0M343.5 112.5h0M347.6 114.0h0M343.3 99.1h0M347.2 103.5h0M348.3 109.7h0M342.6 96.1h0M346.5 101.4h0M347.1 114.0h0M338.8 106.6h0M344.1 103.0h0M349.0 114.7h0M350.2 112.1h0M339.4 102.1h0M338.9 108.7h0M350.1 110.8h0M349.1 109.3h0M340.0 104.6h0M351.7 113.2h0M344.6 98.1h0M346.3 115.0h0M346.2 115.1h0M348.2 106.8h0M344.0 97.5h0M339.3 103.8h0M341.9 110.3h0M340.7 114.2h0M342.3 105.1h0M342.0 113.9h0M349.2 104.4h0M339.9 106.3h0M346.0 98.8h0M341.3 99.2h0M339.1 102.6h0M348.3 108.9h0M342.7 115.8h0M347.5 101.9h0M343.8 109.1h0M339.9 103.3h0M339.4 96.2h0M345.4 110.6h0M346.3 97.9h0M350.5 110.6h0M349.6 110.7h0M348.3 106.4h0M340.8 107.9h0M346.6 114.4h0M343.0 113.2h0M349.8 103.3h0M350.1 111.3h0M343.1 96.6h0M349.9 108.0h0" stroke="#d86058" stroke-width="0.80" stroke-linecap="round" fill="none"/>
<path d="M378.2 90.5h0M388.8 93.3h0M367.8 69.5h0M373.1 78.7h0M362.2 68.4h0M378.7 86.9h0M369.2 69.9h0M384.0 93.5h0M363.5 65.9h0M370.6 71.7h0M369.9 70.9h0M367.9 75.0h0M369.2 80.3h0M371.6 74.2h0M373.8 77.0h0M368.9 82.5h0M375.1 81.9h0M375.6 81.0h0M387.6 92.3h0M365.3 71.9h0M375.5 84.2h0M366.0 77.8h0M373.6 85.8h0M384.9 87.7h0M362.0 62.7h0M391.3 93.5h0M364.0 65.1h0M367.7 75.6h0M370.4 85.2h0" stroke="#9ac8f0" stroke-width="0.70" stroke-linecap="round" fill="none"/><path d="M374.1 77.4h0M374.7 85.5h0M383.6 89.3h0M383.8 91.4h0M375.2 77.4h0M372.3 75.7h0M362.4 65.3h0M367.6 72.8h0M363.3 66.0h0M389.3 92.5h0M367.8 70.8h0M378.0 91.2h0M380.1 92.0h0M388.8 92.7h0M373.9 74.5h0M379.2 93.0h0M383.4 86.5h0M377.6 81.7h0M381.2 84.2h0M381.9 90.8h0M373.7 74.6h0M381.1 84.5h0M366.1 76.1h0M367.9 79.5h0M370.2 82.6h0M376.7 78.3h0M377.0 86.7h0M385.7 91.0h0M384.5 88.2h0M370.2 78.4h0M372.9 75.5h0M363.4 62.7h0M377.5 78.6h0M368.3 78.1h0M374.4 77.1h0M364.6 64.1h0M372.5 83.7h0" stroke="#6cb4e6" stroke-width="0.70" stroke-linecap="round" fill="none"/><path d="M369.0 76.1h0M379.8 93.4h0M377.3 88.8h0M367.9 73.7h0M377.5 91.7h0M367.6 75.1h0M369.7 80.5h0M383.7 85.6h0M374.2 79.3h0M370.6 71.3h0M364.4 75.0h0M384.9 91.3h0M374.5 82.3h0M383.6 91.7h0M364.5 67.2h0M387.0 93.6h0M370.6 75.0h0M371.5 74.7h0M372.8 79.0h0M374.8 83.9h0M373.2 86.4h0M365.3 65.4h0M368.1 79.5h0M362.8 68.3h0M374.2 74.9h0M374.8 89.5h0M368.8 78.4h0M373.9 79.4h0M362.9 76.6h0M362.2 67.1h0M378.7 90.3h0M373.0 74.0h0M376.6 87.5h0M369.4 71.4h0M374.7 82.0h0M373.1 82.6h0M375.3 85.8h0M366.7 78.4h0M380.8 88.9h0M374.1 78.8h0M365.3 76.2h0M362.8 62.7h0M364.5 65.9h0M384.8 87.6h0" stroke="#7fb8e8" stroke-width="0.70" stroke-linecap="round" fill="none"/>
<path d="M296.0,21.0 C297.3,19.1 300.7,19.2 304.0,18.5 C307.3,17.8 313.3,16.1 316.0,17.0 C318.7,17.9 319.2,21.2 320.0,24.0 C320.8,26.8 320.5,30.5 321.0,34.0 C321.5,37.5 323.8,43.0 323.0,45.0 C322.2,47.0 318.5,46.0 316.0,46.0 C313.5,46.0 309.8,44.7 308.0,45.0 C306.2,45.3 305.7,46.7 305.0,48.0 C304.3,49.3 304.5,52.2 304.0,53.0 C303.5,53.8 302.5,54.0 302.0,53.0 C301.5,52.0 301.7,49.5 301.0,47.0 C300.3,44.5 298.8,40.8 298.0,38.0 C297.2,35.2 296.3,32.8 296.0,30.0 C295.7,27.2 294.7,22.9 296.0,21.0 Z" fill="#6fa5dc" filter="url(#rough)"/>
<path d="M338.0,36.0 C338.3,34.5 339.7,32.3 342.0,31.0 C344.3,29.7 348.3,28.8 352.0,28.2 C355.7,27.6 360.0,27.6 364.0,27.3 C368.0,27.0 372.3,27.2 376.0,26.6 C379.7,26.1 383.3,23.9 386.0,24.0 C388.7,24.1 390.3,25.0 392.0,27.0 C393.7,29.0 396.3,33.2 396.0,36.0 C395.7,38.8 393.0,42.2 390.0,44.0 C387.0,45.8 382.7,46.7 378.0,47.0 C373.3,47.3 366.7,46.5 362.0,46.0 C357.3,45.5 353.7,45.0 350.0,44.0 C346.3,43.0 342.0,41.3 340.0,40.0 C338.0,38.7 337.7,37.5 338.0,36.0 Z" fill="#6cbe4f" filter="url(#rough)"/>
<path d="M386.0,22.0 C387.0,20.1 389.0,19.2 391.0,18.5 C393.0,17.8 396.2,17.2 398.0,18.0 C399.8,18.8 401.1,20.7 402.0,23.0 C402.9,25.3 403.3,29.3 403.5,32.0 C403.7,34.7 403.6,37.2 403.0,39.0 C402.4,40.8 401.7,42.0 400.0,43.0 C398.3,44.0 395.2,45.5 393.0,45.0 C390.8,44.5 388.3,42.5 387.0,40.0 C385.7,37.5 385.2,33.0 385.0,30.0 C384.8,27.0 385.0,23.9 386.0,22.0 Z" fill="#72c18e" filter="url(#rough)"/>
<path d="M348.0,43.0 C349.0,40.7 353.0,40.3 356.0,40.0 C359.0,39.7 362.7,40.3 366.0,41.0 C369.3,41.7 373.7,42.5 376.0,44.0 C378.3,45.5 379.7,47.7 380.0,50.0 C380.3,52.3 379.0,55.7 378.0,58.0 C377.0,60.3 376.0,62.3 374.0,64.0 C372.0,65.7 368.7,67.5 366.0,68.0 C363.3,68.5 360.3,68.0 358.0,67.0 C355.7,66.0 353.3,64.2 352.0,62.0 C350.7,59.8 350.7,57.2 350.0,54.0 C349.3,50.8 347.0,45.3 348.0,43.0 Z" fill="#d9619c" filter="url(#rough)"/>
<path d="M368.0,40.0 C369.5,38.0 374.7,37.5 378.0,37.0 C381.3,36.5 385.5,36.3 388.0,37.0 C390.5,37.7 392.3,39.3 393.0,41.0 C393.7,42.7 393.2,45.3 392.0,47.0 C390.8,48.7 388.7,50.2 386.0,51.0 C383.3,51.8 378.8,52.3 376.0,52.0 C373.2,51.7 370.3,51.0 369.0,49.0 C367.7,47.0 366.5,42.0 368.0,40.0 Z" fill="#5ec3c7" filter="url(#rough)"/>
<path d="M389.0,49.0 C389.8,47.7 393.5,47.5 396.0,47.0 C398.5,46.5 402.2,45.8 404.0,46.0 C405.8,46.2 407.3,47.2 407.0,48.0 C406.7,48.8 403.8,50.0 402.0,51.0 C400.2,52.0 397.8,53.3 396.0,54.0 C394.2,54.7 392.2,55.8 391.0,55.0 C389.8,54.2 388.2,50.3 389.0,49.0 Z" fill="#70c488" filter="url(#rough)"/>
<path d="M373.0,58.0 C374.3,56.7 377.2,54.8 380.0,54.0 C382.8,53.2 387.2,52.8 390.0,53.0 C392.8,53.2 395.5,53.8 397.0,55.0 C398.5,56.2 399.0,58.3 399.0,60.0 C399.0,61.7 398.5,63.7 397.0,65.0 C395.5,66.3 392.8,67.4 390.0,68.0 C387.2,68.6 382.7,68.8 380.0,68.5 C377.3,68.2 375.3,67.1 374.0,66.0 C372.7,64.9 372.2,63.3 372.0,62.0 C371.8,60.7 371.7,59.3 373.0,58.0 Z" fill="#6cb4e6" filter="url(#rough)"/>
<path d="M290.5,63.0 C291.2,61.1 291.6,60.3 293.5,60.3 C295.4,60.3 298.6,61.3 302.0,63.0 C305.4,64.7 310.0,67.5 313.6,70.4 C317.2,73.4 320.4,77.5 323.8,80.7 C327.2,83.9 331.1,87.0 334.0,89.4 C336.9,91.8 340.6,93.7 341.3,95.3 C342.0,96.9 341.3,98.6 338.4,99.0 C335.5,99.4 328.7,98.4 323.8,97.6 C318.9,96.8 313.6,95.6 309.2,94.0 C304.8,92.4 300.5,90.2 297.5,88.0 C294.5,85.8 292.4,83.4 291.0,80.7 C289.6,78.0 289.4,74.9 289.3,71.9 C289.2,69.0 289.8,64.9 290.5,63.0 Z" fill="#8d84c8" filter="url(#rough)"/>
<path d="M339.0,96.0 C340.0,94.5 347.5,93.0 352.0,92.0 C356.5,91.0 361.5,90.0 366.0,90.0 C370.5,90.0 376.7,90.5 379.0,92.0 C381.3,93.5 380.5,97.1 380.0,99.0 C379.5,100.9 379.3,102.6 376.0,103.5 C372.7,104.4 365.0,104.9 360.0,104.5 C355.0,104.1 349.5,102.4 346.0,101.0 C342.5,99.6 338.0,97.5 339.0,96.0 Z" fill="#7b8fd2" filter="url(#rough)"/>
<path d="M339.0,99.0 C339.7,97.9 342.8,98.5 344.0,99.5 C345.2,100.5 345.8,102.9 346.0,105.0 C346.2,107.1 344.2,110.0 345.0,112.0 C345.8,114.0 348.5,115.3 351.0,117.0 C353.5,118.7 357.5,119.8 360.0,122.0 C362.5,124.2 365.0,127.0 366.0,130.0 C367.0,133.0 367.2,137.0 366.0,140.0 C364.8,143.0 361.5,146.2 359.0,148.0 C356.5,149.8 353.7,150.7 351.0,150.5 C348.3,150.3 344.9,149.1 343.0,147.0 C341.1,144.9 340.0,141.7 339.5,138.0 C339.0,134.3 339.6,128.8 340.0,125.0 C340.4,121.2 342.0,118.2 342.0,115.0 C342.0,111.8 340.5,108.7 340.0,106.0 C339.5,103.3 338.3,100.1 339.0,99.0 Z" fill="#dc6e63" filter="url(#rough)"/>
<path d="M286.0,116.0 C287.0,115.2 289.3,114.7 292.0,114.5 C294.7,114.3 298.8,115.0 302.0,115.0 C305.2,115.0 309.5,113.4 311.0,114.2 C312.5,115.0 311.8,118.4 311.0,120.0 C310.2,121.6 308.5,123.2 306.0,124.0 C303.5,124.8 299.0,124.9 296.0,124.7 C293.0,124.5 289.7,124.0 288.0,123.0 C286.3,122.0 286.1,120.2 285.8,119.0 C285.5,117.8 285.0,116.8 286.0,116.0 Z" fill="#d78b38" filter="url(#rough)"/>
<path d="M302.0,121.0 C303.2,120.0 306.0,119.7 308.0,119.0 C310.0,118.3 312.3,117.2 314.0,117.0 C315.7,116.8 316.8,117.2 318.0,118.0 C319.2,118.8 320.7,120.5 321.0,122.0 C321.3,123.5 321.2,125.8 320.0,127.0 C318.8,128.2 316.0,128.4 314.0,129.0 C312.0,129.6 309.8,130.5 308.0,130.5 C306.2,130.5 304.2,129.9 303.0,129.0 C301.8,128.1 301.2,126.3 301.0,125.0 C300.8,123.7 300.8,122.0 302.0,121.0 Z" fill="#d05eba" filter="url(#rough)"/>
<path d="M296.0,119.0 C296.8,118.2 300.3,117.7 302.0,118.0 C303.7,118.3 305.8,120.0 306.0,121.0 C306.2,122.0 304.5,123.7 303.0,124.0 C301.5,124.3 298.2,123.8 297.0,123.0 C295.8,122.2 295.2,119.8 296.0,119.0 Z" fill="#d78b38" filter="url(#rough)"/>
<path d="M409.0,63.0 C410.2,61.3 412.0,59.8 414.0,59.0 C416.0,58.2 418.9,57.7 421.0,58.0 C423.1,58.3 425.5,59.5 426.5,61.0 C427.5,62.5 427.6,65.2 427.0,67.0 C426.4,68.8 424.7,70.8 423.0,72.0 C421.3,73.2 418.8,73.2 417.0,74.0 C415.2,74.8 413.5,76.8 412.0,77.0 C410.5,77.2 408.8,76.3 408.0,75.0 C407.2,73.7 406.8,71.0 407.0,69.0 C407.2,67.0 407.8,64.7 409.0,63.0 Z" fill="#c9982f" filter="url(#rough)"/>
<path d="M403.0,81.0 C403.5,79.5 405.3,77.4 407.0,76.0 C408.7,74.6 410.8,73.4 413.0,72.5 C415.2,71.6 418.1,70.7 420.0,70.5 C421.9,70.3 424.3,70.6 424.5,71.5 C424.7,72.4 422.8,74.8 421.0,76.0 C419.2,77.2 416.0,77.8 414.0,79.0 C412.0,80.2 410.7,82.0 409.0,83.0 C407.3,84.0 405.0,85.3 404.0,85.0 C403.0,84.7 402.5,82.5 403.0,81.0 Z" fill="#a9a63b" filter="url(#rough)"/>
<path d="M400.0,84.0 C400.8,82.9 402.6,81.8 404.0,81.5 C405.4,81.2 407.5,81.1 408.5,82.0 C409.5,82.9 410.2,85.3 410.0,87.0 C409.8,88.7 408.7,90.8 407.5,92.0 C406.3,93.2 404.3,94.5 403.0,94.5 C401.7,94.5 400.2,93.1 399.5,92.0 C398.8,90.9 398.9,89.3 399.0,88.0 C399.1,86.7 399.2,85.1 400.0,84.0 Z" fill="#8fb84a" filter="url(#rough)"/>
<path d="M392.0,92.0 C393.3,90.7 395.8,89.3 398.0,89.0 C400.2,88.7 403.2,88.8 405.0,90.0 C406.8,91.2 408.2,93.7 409.0,96.0 C409.8,98.3 410.0,101.7 410.0,104.0 C410.0,106.3 410.0,108.2 409.0,110.0 C408.0,111.8 406.0,113.7 404.0,114.5 C402.0,115.3 399.0,115.6 397.0,115.0 C395.0,114.4 393.1,112.8 392.0,111.0 C390.9,109.2 390.8,106.3 390.5,104.0 C390.2,101.7 389.8,99.0 390.0,97.0 C390.2,95.0 390.7,93.3 392.0,92.0 Z" fill="#7cbe43" filter="url(#rough)"/>
<path d="M388.3 97.9h0M398.0 98.5h0M384.6 103.5h0M394.3 95.6h0M385.6 104.6h0M390.5 100.0h0M380.1 100.2h0M381.4 102.2h0M396.6 97.8h0M395.2 99.5h0M390.3 93.9h0M398.1 100.3h0M395.2 96.4h0M387.1 93.9h0M388.3 98.8h0M386.0 96.0h0M393.8 99.1h0M386.4 101.3h0M388.5 97.1h0M391.8 101.9h0" stroke="#a8d488" stroke-width="0.90" stroke-linecap="round" fill="none"/><path d="M382.7 101.8h0M382.2 99.6h0M384.4 103.6h0M380.9 102.9h0M392.4 95.2h0M390.8 103.4h0M386.0 105.0h0M380.7 100.1h0M396.5 100.5h0M383.9 99.0h0M389.4 98.4h0" stroke="#c8e4b0" stroke-width="0.90" stroke-linecap="round" fill="none"/><path d="M389.1 104.7h0M385.7 105.2h0M383.8 94.4h0M394.5 98.0h0M383.5 103.3h0M381.8 96.1h0M389.8 93.2h0M387.4 98.2h0M393.0 94.9h0M393.9 102.6h0M395.9 99.8h0M387.0 105.8h0M386.6 100.9h0M391.6 94.3h0M398.7 100.9h0M390.2 94.8h0M393.9 96.8h0M389.6 95.3h0M382.2 103.3h0M389.7 105.2h0M389.9 99.8h0M388.8 93.8h0M385.7 103.2h0M382.8 95.9h0M391.9 94.1h0M384.1 100.9h0" stroke="#b8dc98" stroke-width="0.90" stroke-linecap="round" fill="none"/><path d="M393.6 95.2h0M394.5 104.8h0M387.2 104.6h0M387.7 95.8h0M380.0 98.9h0M395.0 96.7h0M380.3 98.9h0M394.4 104.4h0M383.1 99.2h0M390.6 100.6h0M395.5 102.5h0M390.9 101.0h0M391.5 100.1h0" stroke="#90c870" stroke-width="0.90" stroke-linecap="round" fill="none"/>
<path d="M372.0,93.5 C372.6,92.9 374.7,92.6 376.0,92.5 C377.3,92.4 379.2,92.4 380.0,93.0 C380.8,93.6 381.2,95.3 380.5,96.0 C379.8,96.7 377.3,97.0 376.0,97.0 C374.7,97.0 373.2,96.6 372.5,96.0 C371.8,95.4 371.4,94.1 372.0,93.5 Z" fill="#aab445" filter="url(#rough)"/>
<path d="M380.5,110.5 C380.8,110.1 384.1,109.8 386.0,109.6 C387.9,109.4 391.2,109.2 392.0,109.4 C392.8,109.6 392.3,110.6 391.0,111.0 C389.7,111.4 385.8,111.9 384.0,111.8 C382.2,111.7 380.2,110.9 380.5,110.5 Z" fill="#c55ac0"/>
<path d="M418.3,100.0 C418.5,98.5 421.7,95.8 424.0,94.0 C426.3,92.2 429.0,90.5 432.0,89.0 C435.0,87.5 439.1,85.8 442.0,85.0 C444.9,84.2 448.1,83.5 449.6,84.0 C451.1,84.5 451.3,86.0 451.0,88.0 C450.7,90.0 449.7,93.8 448.0,96.0 C446.3,98.2 443.8,100.1 441.0,101.5 C438.2,102.9 434.3,104.2 431.3,104.5 C428.3,104.8 425.2,103.8 423.0,103.0 C420.8,102.2 418.1,101.5 418.3,100.0 Z" fill="#a07ec9" filter="url(#rough)"/>
<text x="309.8" y="24.3" font-size="5.2" font-weight="bold" fill="#000" stroke="#000" stroke-width="0.18">MG</text>
<text x="351.2" y="33.4" font-size="5.2" font-weight="bold" fill="#000" stroke="#000" stroke-width="0.18">L2_3</text>
<text x="373" y="29" font-size="5.2" font-weight="bold" fill="#000" stroke="#000" stroke-width="0.18">L2_4</text>
<text x="387" y="39" font-size="5.2" font-weight="bold" fill="#000" stroke="#000" stroke-width="0.18">L4</text>
<text x="371.9" y="43" font-size="5.2" font-weight="bold" fill="#000" stroke="#000" stroke-width="0.18">L5_6_IT</text>
<text x="403" y="50" font-size="5.2" font-weight="bold" fill="#000" stroke="#000" stroke-width="0.18">L5</text>
<text x="334.4" y="57" font-size="5.2" font-weight="bold" fill="#000" stroke="#000" stroke-width="0.18">Stressed neurons</text>
<text x="383.3" y="67" font-size="5.2" font-weight="bold" fill="#000" stroke="#000" stroke-width="0.18">L6</text>
<text x="402.3" y="60.3" font-size="5.2" font-weight="bold" fill="#000" stroke="#000" stroke-width="0.18">IN_PV</text>
<text x="415.4" y="73.5" font-size="5.2" font-weight="bold" fill="#000" stroke="#000" stroke-width="0.18">IN_SST</text>
<text x="397.9" y="83.7" font-size="5.2" font-weight="bold" fill="#000" stroke="#000" stroke-width="0.18">IN_PV_2</text>
<text x="390" y="94.3" font-size="5.2" font-weight="bold" fill="#000" stroke="#000" stroke-width="0.18">IN_SV2C</text>
<text x="397" y="105" font-size="5.2" font-weight="bold" fill="#000" stroke="#000" stroke-width="0.18">IN_VIP</text>
<text x="382.8" y="107.4" font-size="5.2" font-weight="bold" fill="#000" stroke="#000" stroke-width="0.18">OUT</text>
<text x="430.6" y="97" font-size="5.2" font-weight="bold" fill="#000" stroke="#000" stroke-width="0.18">OPC</text>
<text x="306.3" y="80" font-size="5.2" font-weight="bold" fill="#000" stroke="#000" stroke-width="0.18">OL</text>
<text x="355.2" y="103.3" font-size="5.2" font-weight="bold" fill="#000" stroke="#000" stroke-width="0.18">mixed</text>
<text x="282.2" y="123" font-size="5.2" font-weight="bold" fill="#000" stroke="#000" stroke-width="0.18">END</text>
<text x="302" y="129.6" font-size="5.2" font-weight="bold" fill="#000" stroke="#000" stroke-width="0.18">PER</text>
<text x="317.2" y="129.6" font-size="5.2" font-weight="bold" fill="#000" stroke="#000" stroke-width="0.18">SM</text>
<text x="339.5" y="144" font-size="5.2" font-weight="bold" fill="#000" stroke="#000" stroke-width="0.18">AST</text>
<g transform="translate(414.2,2.2) scale(0.531,0.532) translate(-61.6,-30.8)"><use href="#br1"/><path d="M79.7,51 C86,50.5 94,50.5 100.5,51 L100.5,54.8 L85.5,54.8 L85.5,60.5 L79.7,60.5 Z" fill="#c9c06a"/></g>
<text x="586.4" y="8.6" font-size="9.2" text-anchor="middle" fill="#000">Organoids</text>
<line x1="493.5" y1="11" x2="493.5" y2="157.5" stroke="#8c8c8c" stroke-width="1"/>
<line x1="493.5" y1="157.5" x2="674" y2="157.5" stroke="#8c8c8c" stroke-width="1"/>
<line x1="492.0" y1="33" x2="493.5" y2="33" stroke="#8c8c8c" stroke-width="0.7"/>
<text x="491.1" y="34.9" font-size="5.9" font-weight="bold" text-anchor="end" fill="#111">10</text>
<line x1="492.0" y1="61" x2="493.5" y2="61" stroke="#8c8c8c" stroke-width="0.7"/>
<text x="491.1" y="62.9" font-size="5.9" font-weight="bold" text-anchor="end" fill="#111">5</text>
<line x1="492.0" y1="89" x2="493.5" y2="89" stroke="#8c8c8c" stroke-width="0.7"/>
<text x="491.1" y="90.9" font-size="5.9" font-weight="bold" text-anchor="end" fill="#111">0</text>
<line x1="492.0" y1="116.5" x2="493.5" y2="116.5" stroke="#8c8c8c" stroke-width="0.7"/>
<text x="491.1" y="118.4" font-size="5.9" font-weight="bold" text-anchor="end" fill="#111">-5</text>
<line x1="492.0" y1="144" x2="493.5" y2="144" stroke="#8c8c8c" stroke-width="0.7"/>
<text x="491.1" y="145.9" font-size="5.9" font-weight="bold" text-anchor="end" fill="#111">-10</text>
<line x1="523.75" y1="157.5" x2="523.75" y2="159.0" stroke="#8c8c8c" stroke-width="0.7"/>
<text x="523.75" y="164.3" font-size="5.8" font-weight="bold" text-anchor="middle" fill="#111">-10</text>
<line x1="561" y1="157.5" x2="561" y2="159.0" stroke="#8c8c8c" stroke-width="0.7"/>
<text x="561" y="164.3" font-size="5.8" font-weight="bold" text-anchor="middle" fill="#111">-5</text>
<line x1="598" y1="157.5" x2="598" y2="159.0" stroke="#8c8c8c" stroke-width="0.7"/>
<text x="598" y="164.3" font-size="5.8" font-weight="bold" text-anchor="middle" fill="#111">0</text>
<line x1="635.6" y1="157.5" x2="635.6" y2="159.0" stroke="#8c8c8c" stroke-width="0.7"/>
<text x="635.6" y="164.3" font-size="5.8" font-weight="bold" text-anchor="middle" fill="#111">5</text>
<line x1="673.2" y1="157.5" x2="673.2" y2="159.0" stroke="#8c8c8c" stroke-width="0.7"/>
<text x="673.2" y="164.3" font-size="5.8" font-weight="bold" text-anchor="middle" fill="#111">10</text>
<text x="583.5" y="170.3" font-size="6.2" font-weight="bold" text-anchor="middle" fill="#111">UMAP_1</text>
<text x="479.5" y="80" font-size="6.2" font-weight="bold" fill="#111" text-anchor="middle" transform="rotate(-90 479.5 80)">UMAP_2</text>
<path d="M574.7 29.5h0M575.3 29.3h0M571.8 31.2h0M566.9 22.0h0M575.7 34.2h0M569.5 23.9h0M567.3 25.8h0M567.1 27.7h0M576.0 30.6h0M565.5 27.0h0M576.9 41.6h0M568.7 33.4h0M568.4 24.1h0" stroke="#c89850" stroke-width="0.70" stroke-linecap="round" fill="none"/><path d="M572.6 36.9h0M569.4 32.0h0M563.5 22.7h0M564.7 20.3h0M577.1 32.5h0M564.2 19.8h0M569.7 32.8h0" stroke="#d8a860" stroke-width="0.70" stroke-linecap="round" fill="none"/><path d="M572.8 34.7h0M562.4 21.9h0M575.4 33.0h0M568.9 32.3h0M567.0 27.5h0M562.6 23.1h0M564.4 24.8h0M574.0 30.2h0M577.6 33.0h0" stroke="#80d0c0" stroke-width="0.70" stroke-linecap="round" fill="none"/><path d="M580.5 39.3h0M572.0 25.6h0M565.2 19.7h0M567.2 25.0h0M563.0 21.4h0M577.9 39.2h0M572.8 25.8h0M567.9 30.1h0M574.5 37.4h0M575.6 34.9h0M572.3 27.3h0M563.4 18.6h0M562.8 24.6h0M566.7 27.2h0M565.2 22.8h0M569.9 27.6h0" stroke="#e0c090" stroke-width="0.70" stroke-linecap="round" fill="none"/>
<path d="M557.5 51.2h0M555.4 96.6h0M518.6 55.2h0" stroke="#d8a860" stroke-width="0.70" stroke-linecap="round" fill="none"/><path d="M536.8 75.8h0M557.6 65.6h0M510.7 84.2h0M535.0 115.0h0M554.0 109.7h0" stroke="#c0c0c0" stroke-width="0.70" stroke-linecap="round" fill="none"/><path d="M507.2 92.1h0M547.6 46.4h0M534.6 41.7h0M503.7 66.1h0M515.5 116.5h0M530.9 62.4h0" stroke="#e0a0c0" stroke-width="0.70" stroke-linecap="round" fill="none"/>
<path d="M563.7,66.6 C563.9,64.4 566.3,61.6 568.0,60.0 C569.7,58.4 571.7,57.9 574.0,57.0 C576.3,56.1 579.5,55.1 582.0,54.5 C584.5,53.9 587.0,53.9 589.3,53.3 C591.6,52.7 593.8,51.5 596.0,51.0 C598.2,50.5 600.6,49.7 602.6,50.4 C604.6,51.1 606.7,52.6 608.0,55.0 C609.3,57.4 610.2,61.9 610.2,64.7 C610.2,67.5 608.6,69.8 608.0,72.0 C607.4,74.2 608.1,76.0 606.4,78.0 C604.7,80.0 600.5,82.4 598.0,84.0 C595.5,85.6 593.6,87.2 591.2,87.4 C588.8,87.7 585.8,87.2 583.6,85.5 C581.4,83.8 580.8,79.0 578.0,77.0 C575.2,75.0 569.0,74.9 566.6,73.2 C564.2,71.5 563.5,68.8 563.7,66.6 Z" fill="#c99a4c" filter="url(#spk)"/>
<path d="M621.6,50.0 C622.6,48.2 625.6,47.7 628.0,47.0 C630.4,46.3 633.0,45.8 636.0,45.7 C639.0,45.6 643.2,45.8 646.0,46.5 C648.8,47.2 651.2,48.4 653.0,50.0 C654.8,51.6 657.5,54.5 657.0,56.0 C656.5,57.5 652.8,58.4 650.0,59.0 C647.2,59.6 643.3,59.3 640.0,59.5 C636.7,59.7 633.0,60.2 630.0,60.0 C627.0,59.8 623.4,59.7 622.0,58.0 C620.6,56.3 620.6,51.8 621.6,50.0 Z" fill="#7bc144" filter="url(#spk)"/>
<path d="M598.0,51.0 C599.0,49.6 603.2,48.9 606.0,48.5 C608.8,48.1 612.2,48.5 615.0,48.8 C617.8,49.0 621.5,48.8 623.0,50.0 C624.5,51.2 624.8,54.0 624.0,56.0 C623.2,58.0 620.0,60.2 618.0,62.0 C616.0,63.8 614.0,66.4 612.0,66.6 C610.0,66.8 608.0,64.6 606.0,63.0 C604.0,61.4 601.3,59.0 600.0,57.0 C598.7,55.0 597.0,52.4 598.0,51.0 Z" fill="#a9b043" filter="url(#spk)"/>
<path d="M637.2 83.6h0M633.6 93.5h0M654.7 81.6h0M654.6 79.0h0M636.3 96.3h0M632.6 71.2h0M635.1 83.6h0M629.4 72.6h0M637.8 79.3h0M644.8 98.3h0M641.8 82.3h0M644.0 82.7h0M652.9 79.4h0M637.7 88.9h0M643.9 83.5h0M642.6 91.4h0M629.5 92.0h0M649.2 95.1h0M640.7 73.6h0M647.6 75.2h0M626.1 76.6h0M645.5 90.0h0M628.8 74.1h0M641.1 75.7h0M637.7 96.1h0M644.3 93.4h0M651.7 81.6h0M628.3 89.2h0M637.0 94.3h0M620.0 70.2h0M642.0 84.1h0M632.4 72.8h0M648.8 92.4h0M639.3 91.2h0M645.9 75.0h0M624.1 78.7h0M636.2 95.9h0M645.5 78.2h0M650.7 91.8h0M622.1 85.7h0M614.8 74.8h0M646.2 83.0h0M634.4 80.9h0M632.4 80.4h0M622.0 73.6h0M630.8 93.4h0M644.6 75.7h0M632.2 74.8h0M637.0 86.5h0M649.6 73.7h0M633.4 87.4h0M626.6 75.2h0M647.3 90.8h0M624.7 80.6h0M630.0 77.9h0M642.9 89.4h0M646.7 96.8h0M645.9 80.6h0M633.7 85.7h0M631.9 71.9h0M631.8 90.1h0M643.5 74.1h0M640.2 90.2h0M655.4 86.8h0M645.4 93.7h0M644.1 96.6h0M635.4 88.4h0M635.9 79.6h0M618.3 77.3h0M628.4 80.5h0M638.5 76.8h0M637.0 77.0h0M640.8 86.5h0M625.6 72.5h0M649.9 86.1h0M645.5 81.0h0M622.4 81.8h0" stroke="#e89ad0" stroke-width="0.80" stroke-linecap="round" fill="none"/><path d="M616.0 76.1h0M643.0 88.9h0M636.8 72.6h0M634.9 98.6h0M638.5 73.8h0M652.3 89.0h0M644.5 81.1h0M631.4 76.3h0M630.5 81.0h0M625.3 87.9h0M634.9 77.5h0M646.1 74.5h0M620.4 72.0h0M627.4 70.6h0M617.4 71.4h0M646.0 73.6h0M617.4 76.9h0M628.3 81.8h0M654.5 87.2h0M647.4 75.8h0M644.6 96.0h0M622.4 79.1h0M626.3 88.7h0M642.7 74.7h0M639.3 89.9h0M646.2 87.6h0M627.0 77.1h0M636.3 93.9h0M618.9 79.9h0M615.3 76.6h0M633.7 92.4h0M628.3 88.3h0M630.6 91.3h0M636.7 87.8h0M645.1 96.1h0M631.1 90.6h0M637.7 75.7h0M638.7 82.6h0M627.7 74.2h0M632.8 96.0h0M620.7 82.0h0M633.7 86.8h0M633.1 82.9h0M623.4 78.3h0M611.8 76.2h0M653.1 89.9h0M626.0 70.6h0M640.8 97.3h0M649.8 74.3h0M627.0 90.0h0M643.2 75.0h0M637.3 81.1h0M614.4 79.0h0M631.2 70.1h0M638.2 78.4h0M647.3 87.1h0M615.8 79.5h0M625.7 76.8h0M647.9 92.8h0M621.1 78.2h0M647.5 79.4h0M637.7 94.9h0M636.5 87.8h0M628.4 80.3h0M642.0 84.9h0M641.6 96.4h0M641.8 81.1h0M631.2 84.4h0M636.8 93.0h0M629.7 86.9h0M637.3 81.5h0M631.3 84.3h0M649.8 84.6h0M619.1 76.2h0M612.7 75.9h0M641.7 93.0h0M644.4 95.3h0M637.7 81.5h0" stroke="#d070b8" stroke-width="0.80" stroke-linecap="round" fill="none"/><path d="M655.1 85.9h0M645.5 76.6h0M635.3 78.3h0M653.7 76.9h0M621.6 83.5h0M645.5 87.8h0M622.5 80.8h0M634.2 79.5h0M627.1 89.9h0M636.2 94.7h0M645.6 96.6h0M624.5 83.5h0M629.8 72.0h0M628.0 82.2h0M643.1 74.6h0M635.0 73.9h0M634.9 80.8h0M646.2 88.0h0M648.1 72.5h0M635.1 83.5h0M650.3 76.3h0M637.6 82.4h0M636.2 88.3h0M639.3 74.5h0M631.0 79.2h0M648.3 76.7h0M616.6 74.5h0M648.6 78.5h0M627.4 80.7h0M625.4 88.0h0M627.4 90.5h0M632.1 92.9h0M645.9 91.3h0M627.3 80.1h0M649.8 81.4h0M640.1 75.2h0M647.9 87.3h0M640.2 76.1h0M628.9 76.3h0M618.3 71.2h0M632.8 86.3h0M638.7 97.2h0M636.3 77.7h0M629.4 90.9h0M651.5 77.0h0M629.5 73.5h0M622.3 82.4h0M651.9 74.7h0M645.1 84.4h0M615.1 77.4h0M628.0 85.2h0M637.5 96.0h0M616.5 81.3h0M627.7 83.1h0M631.0 72.6h0M640.7 81.6h0M635.3 71.4h0M640.2 96.9h0M648.5 81.9h0M620.2 70.5h0M648.2 80.9h0M640.0 87.2h0M616.5 75.8h0M630.6 92.2h0M642.7 85.0h0M622.7 84.5h0M635.8 72.2h0M637.4 87.6h0M640.0 91.9h0M630.0 91.6h0M637.1 91.7h0M634.8 76.1h0M630.0 76.5h0M631.9 84.7h0M624.0 72.8h0M638.2 80.4h0M634.4 72.3h0M620.1 84.9h0M645.7 73.5h0M632.7 85.1h0M625.1 88.7h0M649.6 92.4h0M649.5 84.9h0M642.1 78.4h0M619.3 77.8h0M646.8 94.7h0M642.1 83.2h0M624.8 72.1h0M647.0 72.5h0M632.7 70.9h0M629.7 73.1h0M632.0 70.6h0M649.6 95.5h0M635.7 93.8h0M631.0 91.1h0M642.6 83.3h0M612.6 74.4h0M633.1 96.7h0M631.3 94.7h0M646.2 86.3h0M617.5 72.5h0M630.4 90.5h0M637.1 73.0h0M616.4 75.9h0" stroke="#d85cb0" stroke-width="0.80" stroke-linecap="round" fill="none"/><path d="M637.1 91.1h0M636.4 96.1h0M641.1 75.2h0M634.5 91.5h0M635.6 90.8h0M641.6 83.2h0M648.0 73.5h0M632.1 92.0h0M622.7 81.6h0M638.6 95.0h0M623.5 72.5h0M653.2 91.2h0M632.6 81.2h0M644.9 87.1h0M624.5 83.7h0M637.1 83.3h0M633.9 76.7h0M640.2 74.2h0M632.5 93.6h0M638.2 83.7h0M647.2 86.7h0M647.9 93.0h0M631.1 75.1h0M645.7 93.6h0M649.5 94.9h0M653.6 90.3h0M628.5 80.8h0M622.6 73.7h0M651.5 81.7h0M613.0 74.1h0M639.5 94.9h0M622.5 78.5h0M633.7 83.3h0M650.3 94.5h0M616.1 73.0h0M650.1 87.7h0M634.0 97.1h0M651.3 75.1h0M634.1 97.7h0M652.9 78.3h0M619.4 75.0h0M643.5 70.8h0M651.0 83.7h0M641.3 80.5h0M638.6 76.4h0M621.4 80.6h0M642.7 99.1h0M629.9 88.3h0M645.0 92.2h0M623.9 73.6h0M632.5 93.6h0M641.1 87.1h0M627.4 84.6h0M627.2 89.5h0M633.0 80.1h0M612.9 77.4h0M633.2 77.4h0M643.3 84.8h0M641.8 75.3h0M634.6 81.4h0M642.9 74.4h0M626.4 73.5h0M639.6 70.4h0M639.1 70.3h0M640.4 83.7h0M645.3 88.8h0M633.2 71.4h0M647.0 82.3h0M621.7 71.0h0M638.7 80.6h0M644.7 86.2h0M649.8 73.2h0M630.2 90.3h0M629.8 89.4h0M651.9 79.8h0M629.5 85.0h0M628.7 72.3h0M651.1 91.6h0M619.5 82.9h0M631.7 84.6h0M626.2 79.1h0" stroke="#e07cc0" stroke-width="0.80" stroke-linecap="round" fill="none"/>
<path d="M610.0,62.0 C611.7,60.2 614.7,59.7 618.0,59.0 C621.3,58.3 626.0,58.1 630.0,58.0 C634.0,57.9 638.7,57.8 642.0,58.5 C645.3,59.2 648.3,60.4 650.0,62.0 C651.7,63.6 652.7,66.0 652.0,68.0 C651.3,70.0 648.7,72.3 646.0,74.0 C643.3,75.7 639.3,77.0 636.0,78.0 C632.7,79.0 629.3,79.0 626.0,80.0 C622.7,81.0 618.7,84.3 616.0,84.0 C613.3,83.7 611.3,80.3 610.0,78.0 C608.7,75.7 608.0,72.7 608.0,70.0 C608.0,67.3 608.3,63.8 610.0,62.0 Z" fill="#d65cb2" filter="url(#spk)"/>
<path d="M646.3,59.0 C647.1,57.7 650.0,57.8 652.0,58.0 C654.0,58.2 656.3,59.2 658.0,60.0 C659.7,60.8 660.8,62.1 662.0,63.0 C663.2,63.9 665.5,64.8 665.2,65.6 C664.9,66.4 662.2,67.5 660.0,68.0 C657.8,68.5 654.2,68.8 652.0,68.5 C649.8,68.2 648.0,67.6 647.0,66.0 C646.0,64.4 645.5,60.3 646.3,59.0 Z" fill="#dc6a6c" filter="url(#spk)"/>
<path d="M596.0,72.0 C598.3,69.3 601.3,68.3 604.0,68.0 C606.7,67.7 609.8,68.3 612.0,70.0 C614.2,71.7 615.8,75.0 617.0,78.0 C618.2,81.0 619.2,84.8 619.0,88.0 C618.8,91.2 617.5,94.3 616.0,97.0 C614.5,99.7 612.7,102.5 610.0,104.0 C607.3,105.5 603.3,106.3 600.0,106.0 C596.7,105.7 592.2,103.8 590.0,102.0 C587.8,100.2 586.5,98.0 586.5,95.0 C586.5,92.0 588.4,87.8 590.0,84.0 C591.6,80.2 593.7,74.7 596.0,72.0 Z" fill="#6dc6a3" filter="url(#spk)"/>
<clipPath id="dmain"><path d="M543.0,117.9 C543.7,114.9 548.8,112.3 552.0,110.0 C555.2,107.7 557.9,106.2 562.0,104.0 C566.1,101.8 572.6,98.8 576.7,97.0 C580.8,95.2 582.5,93.7 586.4,93.0 C590.3,92.3 595.2,92.2 600.0,93.0 C604.8,93.8 611.1,95.9 615.3,97.8 C619.5,99.7 622.5,101.6 625.0,104.3 C627.5,107.0 629.7,110.3 630.5,114.0 C631.3,117.7 630.6,123.0 629.7,126.7 C628.8,130.4 627.9,133.2 624.9,136.4 C621.9,139.6 616.3,143.9 612.0,146.0 C607.7,148.1 603.5,148.8 599.2,149.2 C594.9,149.6 590.1,149.5 586.4,148.4 C582.6,147.3 579.4,144.8 576.7,142.8 C574.0,140.8 573.2,137.7 570.3,136.4 C567.3,135.1 562.8,136.2 559.0,134.8 C555.2,133.5 550.5,131.1 547.8,128.3 C545.1,125.5 542.3,121.0 543.0,117.9 Z"/></clipPath>
<path d="M543.0,117.9 C543.7,114.9 548.8,112.3 552.0,110.0 C555.2,107.7 557.9,106.2 562.0,104.0 C566.1,101.8 572.6,98.8 576.7,97.0 C580.8,95.2 582.5,93.7 586.4,93.0 C590.3,92.3 595.2,92.2 600.0,93.0 C604.8,93.8 611.1,95.9 615.3,97.8 C619.5,99.7 622.5,101.6 625.0,104.3 C627.5,107.0 629.7,110.3 630.5,114.0 C631.3,117.7 630.6,123.0 629.7,126.7 C628.8,130.4 627.9,133.2 624.9,136.4 C621.9,139.6 616.3,143.9 612.0,146.0 C607.7,148.1 603.5,148.8 599.2,149.2 C594.9,149.6 590.1,149.5 586.4,148.4 C582.6,147.3 579.4,144.8 576.7,142.8 C574.0,140.8 573.2,137.7 570.3,136.4 C567.3,135.1 562.8,136.2 559.0,134.8 C555.2,133.5 550.5,131.1 547.8,128.3 C545.1,125.5 542.3,121.0 543.0,117.9 Z" fill="#b46dc2" filter="url(#spk)"/>
<g clip-path="url(#dmain)">
<path d="M568.0,137.0 C570.2,134.8 579.7,133.7 585.0,133.0 C590.3,132.3 595.2,132.7 600.0,133.0 C604.8,133.3 610.3,134.0 614.0,135.0 C617.7,136.0 622.3,136.5 622.0,139.0 C621.7,141.5 615.8,147.8 612.0,150.0 C608.2,152.2 603.5,151.8 599.2,152.0 C594.9,152.2 590.9,152.0 586.4,151.0 C581.9,150.0 575.1,148.3 572.0,146.0 C568.9,143.7 565.8,139.2 568.0,137.0 Z" fill="#9a80d6" filter="url(#spkb)"/>
<path d="M588.0,125.0 C590.3,123.0 595.7,121.7 600.0,121.0 C604.3,120.3 609.7,120.3 614.0,121.0 C618.3,121.7 623.7,123.2 626.0,125.0 C628.3,126.8 629.0,129.7 628.0,132.0 C627.0,134.3 623.7,137.5 620.0,139.0 C616.3,140.5 610.7,140.8 606.0,141.0 C601.3,141.2 595.3,141.3 592.0,140.0 C588.7,138.7 586.7,135.5 586.0,133.0 C585.3,130.5 585.7,127.0 588.0,125.0 Z" fill="#7f9ee4" filter="url(#spkb)"/>
<path d="M606.0,100.0 C608.0,97.7 611.8,95.7 615.3,96.0 C618.8,96.3 623.9,99.0 627.0,102.0 C630.1,105.0 633.0,109.7 634.0,114.0 C635.0,118.3 634.7,125.0 633.0,128.0 C631.3,131.0 627.5,131.7 624.0,132.0 C620.5,132.3 615.2,132.0 612.0,130.0 C608.8,128.0 606.5,123.3 605.0,120.0 C603.5,116.7 602.8,113.3 603.0,110.0 C603.2,106.7 604.0,102.3 606.0,100.0 Z" fill="#6cc4e4" filter="url(#spkb)"/>
<path d="M576.0,101.0 C578.3,97.3 584.0,95.0 588.0,94.0 C592.0,93.0 596.3,93.7 600.0,95.0 C603.7,96.3 608.2,98.7 610.0,102.0 C611.8,105.3 611.8,111.0 611.0,115.0 C610.2,119.0 607.8,123.7 605.0,126.0 C602.2,128.3 597.8,129.0 594.0,129.0 C590.2,129.0 585.3,128.2 582.0,126.0 C578.7,123.8 575.0,120.2 574.0,116.0 C573.0,111.8 573.7,104.7 576.0,101.0 Z" fill="#7cc06a" filter="url(#spkb2)"/>
</g>
<text x="597.9" y="54.5" font-size="5.2" font-weight="bold" fill="#000" stroke="#000" stroke-width="0.18">Early_RGC</text>
<text x="627" y="59.5" font-size="5.2" font-weight="bold" fill="#000" stroke="#000" stroke-width="0.18">Imm_AST</text>
<text x="647.8" y="70" font-size="5.2" font-weight="bold" fill="#000" stroke="#000" stroke-width="0.18">AST</text>
<text x="574.2" y="75" font-size="5.2" font-weight="bold" fill="#000" stroke="#000" stroke-width="0.18">Div_prog</text>
<text x="616.8" y="77.4" font-size="5.2" font-weight="bold" fill="#000" stroke="#000" stroke-width="0.18">Late_RGC</text>
<text x="603.2" y="88" font-size="5.2" font-weight="bold" fill="#000" stroke="#000" stroke-width="0.18">IPCs</text>
<text x="564" y="116.5" font-size="5.2" font-weight="bold" fill="#000" stroke="#000" stroke-width="0.18">L5_6</text>
<text x="581.5" y="116.5" font-size="5.2" font-weight="bold" fill="#000" stroke="#000" stroke-width="0.18">Imm_Neu</text>
<text x="618.5" y="116.5" font-size="5.2" font-weight="bold" fill="#000" stroke="#000" stroke-width="0.18">L2_3</text>
<text x="606.4" y="132.6" font-size="5.2" font-weight="bold" fill="#000" stroke="#000" stroke-width="0.18">L2_4</text>
<text x="587.2" y="149.7" font-size="5.2" font-weight="bold" fill="#000" stroke="#000" stroke-width="0.18">L4</text>
<g><circle cx="654.3" cy="19.3" r="17.6" fill="#f3efe8"/><path d="M641.8 27.4h0M656.7 34.2h0M662.0 25.8h0M644.9 10.5h0M637.7 14.3h0M661.8 32.2h0M670.7 21.0h0M638.8 15.4h0M646.0 32.5h0M661.4 6.1h0M669.1 17.7h0M666.6 22.0h0M648.0 3.1h0M660.5 27.5h0M661.1 13.0h0M647.2 27.8h0M662.4 14.4h0M653.9 7.3h0M652.9 34.9h0M648.3 5.1h0M648.3 34.3h0M658.5 8.9h0M660.2 3.8h0M663.5 30.8h0M668.8 18.6h0M640.4 14.4h0M644.3 16.8h0M664.9 31.6h0M653.8 27.8h0M667.3 13.7h0M651.9 35.6h0M645.7 24.2h0M640.0 26.0h0M668.7 21.5h0M661.4 10.2h0M660.5 10.3h0M641.8 12.4h0M667.0 10.5h0M666.7 28.0h0M659.4 35.6h0M641.6 25.5h0M662.0 30.6h0M646.4 11.2h0M657.1 28.8h0M649.8 30.2h0M667.4 26.9h0M638.8 22.6h0M668.7 20.7h0M641.1 20.7h0M660.4 3.4h0M666.7 20.9h0M670.4 12.7h0M645.8 19.8h0M645.4 30.7h0M667.1 30.9h0M665.2 11.2h0M669.4 19.0h0M665.8 30.9h0M667.1 11.5h0M645.8 23.2h0M667.8 17.0h0M650.3 31.4h0M644.6 30.5h0M657.2 36.0h0M641.6 22.9h0M668.4 21.0h0M668.5 16.9h0M641.4 10.8h0M651.3 4.0h0M668.6 15.8h0M662.2 5.8h0M667.8 17.0h0M655.9 35.5h0M666.7 21.7h0M665.8 14.1h0M662.5 29.2h0M645.0 10.4h0M670.1 21.0h0M638.9 13.9h0M647.6 4.8h0M664.4 6.7h0M662.8 33.3h0M642.2 16.6h0M661.7 28.2h0M649.1 10.8h0M652.3 34.2h0M651.7 36.4h0M659.6 35.9h0M650.5 8.4h0M642.9 17.4h0M650.8 8.9h0M652.5 33.9h0M657.8 5.2h0M647.3 35.3h0M662.9 28.9h0M665.6 6.6h0M650.4 6.4h0M644.2 18.0h0M664.0 11.6h0M644.8 4.8h0M670.5 17.1h0M662.4 32.2h0M651.2 33.0h0M642.3 17.2h0M667.7 26.0h0M660.6 13.8h0M638.1 18.3h0M670.6 16.5h0M653.7 29.4h0M652.2 3.6h0M665.7 11.5h0M664.8 30.4h0M650.6 29.8h0M659.3 9.0h0" stroke="#a8d890" stroke-width="0.66" stroke-linecap="round" fill="none"/><path d="M659.7 30.3h0M653.6 31.8h0M641.3 7.6h0M652.8 27.5h0M645.3 33.4h0M662.7 27.5h0M665.3 5.7h0M664.0 13.5h0M638.0 25.3h0M665.7 24.0h0M643.4 32.9h0M662.6 20.9h0M648.5 30.6h0M644.2 10.2h0M647.2 26.7h0M644.0 33.3h0M642.7 11.4h0M666.7 31.1h0M644.9 9.4h0M651.6 7.7h0M647.7 30.1h0M658.1 33.8h0M641.3 9.1h0M637.2 16.7h0M647.7 34.3h0M657.0 33.4h0M639.6 28.7h0M644.0 18.8h0M663.5 9.7h0M648.6 4.7h0M652.1 31.3h0M643.7 20.3h0M651.0 31.6h0M646.3 29.8h0M650.0 8.6h0M650.3 28.2h0M658.3 11.8h0M668.9 17.2h0M670.4 25.9h0M647.5 28.3h0M656.7 4.7h0M641.9 15.4h0M644.1 13.8h0M670.1 14.5h0M671.1 16.5h0M666.6 17.7h0M656.1 6.6h0M654.5 10.7h0M665.1 16.3h0M641.5 8.4h0M648.7 2.9h0M637.2 21.1h0M669.7 11.3h0M658.1 3.7h0M653.1 6.9h0M660.9 4.7h0M649.9 35.7h0M662.6 29.8h0M643.2 9.8h0M665.4 22.9h0M653.4 34.7h0M670.0 26.0h0M640.5 26.6h0M661.2 4.8h0M653.8 3.9h0M647.8 33.9h0M666.9 21.9h0M670.9 16.6h0M662.7 28.4h0M655.1 36.0h0M654.2 7.8h0M658.9 34.4h0M666.9 12.7h0M653.5 3.3h0M644.7 20.5h0M669.3 13.9h0M646.7 32.7h0M640.2 18.8h0M652.9 9.4h0M669.6 11.4h0M641.3 30.7h0M666.8 23.6h0M670.9 18.3h0M669.3 16.5h0M662.9 22.4h0M669.6 20.2h0M658.5 3.3h0M670.1 22.0h0M668.7 26.4h0M663.9 16.5h0M650.3 31.3h0M652.5 35.2h0M665.9 29.7h0M644.6 4.8h0M643.8 17.4h0M651.3 2.1h0M657.2 9.3h0" stroke="#8cc878" stroke-width="0.66" stroke-linecap="round" fill="none"/><path d="M662.4 31.6h0M652.7 32.3h0M653.2 27.5h0M651.1 36.4h0M640.4 15.1h0M640.5 20.1h0M653.6 11.2h0M637.6 14.8h0M667.0 9.6h0M639.3 10.4h0M645.9 23.3h0M670.8 19.8h0M669.5 24.1h0M645.8 27.0h0M657.6 31.4h0M650.7 4.0h0M648.7 34.4h0M664.6 9.0h0M668.1 19.3h0M644.3 32.9h0M644.8 23.6h0M648.6 32.9h0M646.2 5.8h0M664.9 22.4h0M641.9 9.9h0M665.5 18.3h0M663.1 32.8h0M662.5 21.2h0M643.4 9.1h0M642.2 21.2h0M641.2 23.5h0M643.0 16.7h0M655.2 29.5h0M654.5 32.2h0M640.9 28.7h0M665.0 18.7h0M650.2 10.8h0M642.8 7.9h0M654.7 3.0h0M654.9 35.2h0M656.4 31.8h0M649.8 31.4h0M656.6 5.6h0M658.0 10.1h0M662.5 32.4h0M642.6 12.6h0M664.1 6.0h0M666.8 8.2h0M647.4 34.0h0M642.5 9.1h0M655.1 3.0h0M639.5 19.9h0M668.6 9.0h0M650.9 35.2h0M658.7 3.2h0M639.5 26.9h0M670.4 19.2h0M652.4 30.2h0M653.3 34.3h0M640.0 19.6h0M650.8 3.6h0M664.8 32.1h0M662.5 33.3h0M650.7 32.0h0M643.1 23.5h0M660.6 5.2h0M646.4 10.1h0M644.2 23.7h0M639.8 14.1h0M638.7 14.0h0M641.8 15.0h0M643.7 32.4h0M665.0 25.5h0M654.0 36.3h0M638.7 14.3h0M670.3 18.0h0M649.8 3.4h0M641.2 11.0h0M647.5 12.4h0M649.3 3.5h0M647.1 3.6h0M665.7 8.2h0M655.8 32.5h0M663.6 13.7h0M648.2 25.7h0M654.4 34.3h0M646.2 32.9h0M662.2 29.5h0M661.4 27.4h0M645.5 27.6h0M647.4 33.2h0M657.6 8.9h0M664.6 5.1h0M658.9 35.0h0M660.5 33.2h0M643.1 9.7h0M658.1 29.1h0M647.0 11.3h0M647.6 4.0h0" stroke="#d8b0d8" stroke-width="0.66" stroke-linecap="round" fill="none"/><path d="M649.5 6.5h0M671.1 24.0h0M639.7 20.4h0M669.4 27.5h0M670.4 24.7h0M646.7 30.5h0M644.0 8.2h0M645.7 32.1h0M644.1 14.6h0M649.1 26.6h0M664.3 11.6h0M665.9 29.6h0M669.3 18.7h0M663.1 6.1h0M646.6 7.5h0M659.1 2.5h0M653.2 3.2h0M647.3 15.3h0M653.1 5.2h0M639.6 27.9h0M654.2 2.8h0M642.9 24.2h0M658.9 3.4h0M665.5 14.7h0M654.3 33.3h0M666.6 18.1h0M652.8 35.7h0M637.4 20.3h0M662.5 18.3h0M651.4 4.5h0M668.5 17.5h0M662.7 4.7h0M652.3 28.7h0M638.4 22.1h0M658.3 28.6h0M666.5 18.1h0M651.4 32.3h0M669.2 14.3h0M668.7 15.0h0M667.8 25.4h0M643.2 32.8h0M661.4 7.1h0M644.3 33.3h0M637.4 15.9h0M639.6 25.4h0M650.9 29.1h0M641.3 9.8h0M660.1 5.6h0M639.9 14.8h0M651.6 3.1h0M640.5 27.4h0M660.8 32.4h0M659.8 11.5h0M668.6 20.1h0M643.7 21.4h0M649.9 4.2h0M649.2 9.9h0M648.3 34.1h0M658.3 2.2h0M649.4 8.3h0M664.9 5.8h0M652.6 33.4h0M646.3 33.5h0M671.6 21.3h0M637.5 23.0h0M656.6 3.5h0M665.9 29.8h0M668.9 19.5h0M664.0 11.8h0M664.6 17.7h0M657.9 8.7h0M670.1 24.3h0M663.6 6.5h0M637.4 16.5h0M647.8 8.9h0M661.3 28.7h0M638.9 13.6h0M667.3 27.0h0M669.8 19.5h0M666.8 20.3h0M666.9 24.4h0M640.9 15.7h0M662.3 8.9h0M662.4 27.7h0M669.3 16.5h0M641.5 16.3h0M647.8 29.3h0M638.4 13.3h0M645.0 9.4h0M661.3 33.8h0M659.9 27.7h0M662.2 6.0h0M664.1 11.3h0M670.9 21.0h0M647.8 3.5h0M668.7 15.4h0M647.7 11.4h0M671.4 15.7h0M654.3 4.4h0M642.4 30.1h0M648.9 3.8h0M659.1 32.8h0M662.8 33.8h0" stroke="#9fd086" stroke-width="0.66" stroke-linecap="round" fill="none"/><path d="M655.9 3.6h0M650.3 3.6h0M636.8 21.1h0M637.4 14.6h0M641.5 13.9h0M671.6 16.4h0M651.6 33.9h0M654.3 31.6h0M641.3 17.0h0M647.4 5.0h0M647.5 8.0h0M650.2 34.4h0M658.5 12.1h0M659.7 34.7h0M641.7 25.5h0M644.4 8.2h0M660.0 34.2h0M666.3 23.9h0M654.9 2.7h0M651.4 7.9h0M660.9 9.7h0M658.5 30.8h0M647.0 31.0h0M643.1 10.2h0M667.5 21.5h0M661.6 12.0h0M663.4 6.3h0M670.6 24.6h0M664.8 8.7h0M668.5 22.5h0M648.2 30.8h0M662.0 32.5h0M638.1 23.7h0M640.4 14.8h0M647.1 7.5h0M653.1 36.5h0M654.1 1.9h0M670.3 24.3h0M668.6 28.0h0M647.9 32.7h0M646.9 33.6h0M666.4 31.1h0M666.5 8.8h0M646.2 29.5h0M657.4 35.1h0M664.2 7.2h0M647.9 3.9h0M662.9 21.7h0M664.5 6.5h0M650.4 11.4h0M653.1 7.3h0M655.1 35.0h0M647.4 6.3h0M638.5 19.3h0M642.6 28.4h0M642.2 10.2h0M642.6 16.5h0M652.5 11.5h0M642.3 7.8h0M662.4 30.0h0M666.5 11.4h0M638.3 18.4h0M664.9 20.6h0M643.6 26.1h0M643.0 7.3h0M656.0 2.5h0M666.5 10.6h0M664.2 8.2h0M663.1 5.1h0M642.7 28.8h0M662.6 33.3h0M663.3 24.0h0M654.1 4.4h0M646.1 5.2h0M638.3 24.5h0M656.4 3.2h0M642.2 18.1h0M638.2 17.3h0M665.2 13.4h0M667.6 24.8h0M665.1 30.7h0M644.0 30.3h0M670.4 18.4h0M647.6 7.2h0M661.5 34.5h0M644.6 8.6h0M669.2 24.5h0M649.5 33.8h0M668.7 19.9h0M648.7 30.9h0M662.2 26.6h0M646.9 29.2h0M665.3 11.3h0M640.0 12.5h0M650.1 29.1h0" stroke="#90b8e0" stroke-width="0.66" stroke-linecap="round" fill="none"/><path d="M669.3 26.8h0M642.6 21.1h0M649.7 29.4h0M669.1 27.9h0M642.7 23.1h0M670.2 20.7h0M666.2 31.7h0M658.2 30.2h0M638.7 12.9h0M653.1 33.1h0M648.1 9.5h0M654.2 31.5h0M644.4 6.2h0M651.0 27.9h0M641.7 29.8h0M650.5 35.1h0M646.6 28.0h0M657.4 7.3h0M651.1 3.9h0M662.0 4.7h0M671.4 21.8h0M639.2 21.8h0M648.2 33.4h0M646.5 33.1h0M668.4 22.4h0M643.7 6.7h0M651.1 28.7h0M641.5 18.4h0M645.0 25.7h0M671.4 22.3h0M665.6 6.5h0M644.6 16.4h0M638.7 14.7h0M640.2 25.8h0M649.4 34.7h0M655.9 7.2h0M665.9 22.9h0M664.5 28.3h0M641.1 14.6h0M671.0 17.2h0M659.5 3.8h0M657.3 36.1h0M656.2 6.6h0M668.0 17.8h0M643.5 20.1h0M662.4 34.2h0M654.2 35.9h0M669.7 26.6h0M667.3 12.9h0M647.1 3.6h0M661.7 29.0h0M643.2 30.9h0M654.7 32.0h0M641.7 11.1h0M670.1 25.7h0M665.0 13.0h0M665.3 16.8h0M648.8 11.8h0M637.8 19.3h0M642.4 16.1h0M660.4 5.1h0M655.5 2.6h0M646.1 12.4h0M645.6 8.2h0M656.0 6.5h0M660.1 28.5h0M650.1 34.9h0M644.5 26.2h0M664.0 9.6h0M668.3 19.1h0M663.2 9.4h0M653.2 10.6h0M643.8 12.3h0M665.0 33.3h0M671.1 15.0h0M664.6 21.1h0M644.1 24.8h0M648.1 9.2h0M652.5 3.5h0M670.5 24.2h0M647.1 34.6h0M655.4 32.1h0M641.5 16.3h0M665.4 22.3h0M656.8 33.8h0M643.4 31.5h0M647.7 6.7h0M669.2 16.8h0M660.0 2.9h0M664.1 24.1h0M650.4 10.1h0M641.7 16.4h0" stroke="#bdbdbd" stroke-width="0.66" stroke-linecap="round" fill="none"/><path d="M667.7 22.3h0M644.5 29.8h0M670.6 19.2h0M648.7 10.8h0M643.7 27.4h0M648.0 2.9h0M650.6 36.1h0M638.1 22.1h0M640.6 19.6h0M662.3 33.7h0M664.9 7.4h0M645.2 15.8h0M640.3 26.8h0M664.2 9.7h0M659.4 27.3h0M640.7 16.1h0M637.6 13.8h0M664.9 20.1h0M645.3 33.4h0M661.6 26.9h0M661.6 7.5h0M666.8 18.6h0M659.2 9.8h0M663.1 29.1h0M671.0 17.2h0M648.3 13.9h0M669.6 19.1h0M657.6 34.1h0M670.2 20.2h0M652.0 28.1h0M667.2 25.6h0M656.6 27.9h0M642.1 24.3h0M654.5 3.9h0M649.2 4.9h0M649.5 27.2h0M643.8 28.0h0M667.4 8.9h0M637.7 22.0h0M639.1 12.7h0M645.8 27.0h0M651.2 31.7h0M657.5 2.7h0M654.0 36.5h0M664.3 5.4h0M651.0 35.4h0M656.8 29.9h0M651.0 3.7h0M642.6 17.5h0M642.8 22.1h0M645.9 21.5h0M665.6 12.2h0M643.8 25.3h0M663.4 32.6h0M646.9 25.9h0M658.3 32.7h0M661.1 35.4h0M640.8 28.2h0M665.6 6.1h0M643.9 25.2h0M665.6 31.3h0M647.6 32.9h0M646.0 6.5h0M649.3 5.0h0M662.6 5.4h0M642.9 31.5h0M666.0 22.3h0M641.0 23.2h0M661.4 3.6h0M664.0 27.9h0M644.2 31.3h0M646.1 25.6h0M661.3 4.7h0M667.5 12.6h0M644.7 27.7h0M660.5 32.7h0M668.0 19.4h0M666.7 29.0h0M648.5 7.7h0M662.8 18.1h0M663.2 30.4h0M669.6 23.3h0M642.3 27.7h0M643.6 6.9h0M664.5 21.9h0M654.7 8.9h0M639.9 17.9h0M648.3 8.2h0M668.5 16.6h0M670.3 12.4h0M654.7 9.0h0M649.7 31.0h0M664.7 21.7h0M648.1 6.3h0M646.4 11.7h0M663.3 8.8h0M638.9 17.6h0M647.1 9.1h0M647.1 4.6h0M639.4 22.5h0M662.3 17.9h0M665.8 23.0h0M645.6 11.8h0M643.7 29.0h0M648.1 4.6h0M640.8 20.4h0M652.7 35.9h0M644.1 30.2h0M668.8 17.0h0" stroke="#e8b0a0" stroke-width="0.66" stroke-linecap="round" fill="none"/><path d="M641.7 11.3h0M660.7 32.6h0M667.0 8.5h0M666.4 29.6h0M670.5 21.3h0M666.8 14.7h0M666.8 30.1h0M668.0 12.6h0M651.3 10.8h0M647.3 24.3h0M640.8 13.2h0M639.5 23.6h0M641.9 20.1h0M639.0 13.4h0M645.6 10.3h0M671.5 21.0h0M640.4 24.0h0M644.7 17.9h0M670.2 12.2h0M644.7 19.6h0M663.1 6.3h0M641.8 29.4h0M643.0 8.6h0M645.9 11.8h0M643.2 22.1h0M667.5 11.0h0M659.8 4.8h0M644.8 25.3h0M663.9 24.8h0M640.6 29.8h0M666.0 11.9h0M639.1 18.9h0M645.7 31.1h0M660.0 33.9h0M662.2 26.0h0M656.9 9.6h0M659.4 35.7h0M637.4 22.9h0M659.4 29.7h0M660.6 4.8h0M667.4 18.4h0M647.3 3.9h0M645.2 26.6h0M656.0 3.1h0M665.2 19.1h0M641.2 28.6h0M655.9 35.8h0M644.8 12.0h0M639.4 13.8h0M664.4 6.8h0M645.2 6.1h0M667.0 29.5h0M669.5 22.7h0M658.8 32.0h0M668.7 18.1h0M639.1 19.3h0M638.6 21.9h0M649.8 35.9h0M641.3 15.9h0M649.9 10.2h0M642.7 16.2h0M648.1 34.3h0M649.4 34.4h0M658.3 36.1h0M661.4 8.9h0M670.2 18.3h0M660.8 7.1h0M639.2 19.2h0M656.5 30.3h0M657.7 4.1h0M662.2 30.0h0M658.9 3.4h0M645.5 9.7h0M659.8 30.8h0M657.5 30.7h0M642.7 31.3h0M637.4 17.6h0M664.6 20.6h0M668.9 11.3h0M662.9 14.6h0M668.6 10.4h0M653.5 1.9h0M646.6 10.7h0M644.9 16.8h0M663.6 29.5h0M647.9 11.5h0M669.0 12.8h0M662.1 8.0h0M654.5 35.4h0M658.8 35.7h0M641.5 10.2h0M665.3 29.8h0M657.8 5.3h0M663.4 25.8h0M639.1 17.7h0M653.8 7.1h0M651.9 10.4h0M664.0 33.6h0" stroke="#e0a0c8" stroke-width="0.66" stroke-linecap="round" fill="none"/><path d="M640.9 11.9h0M655.0 35.2h0M641.5 31.0h0M664.3 28.8h0M668.4 24.3h0M651.3 35.6h0M644.6 11.7h0M648.9 35.6h0M657.3 2.0h0M640.5 23.3h0M644.4 32.4h0M643.0 32.4h0M671.5 16.1h0M665.0 5.9h0M669.2 23.8h0M651.6 6.2h0M651.5 4.7h0M667.5 17.7h0M643.3 9.8h0M639.5 11.8h0M647.5 32.9h0M643.2 30.7h0M641.9 10.6h0M641.5 22.5h0M642.6 17.9h0M649.8 32.9h0M643.4 32.8h0M667.8 8.9h0M667.5 19.6h0M658.1 32.0h0M657.7 35.8h0M638.7 23.1h0M652.0 32.7h0M666.6 22.1h0M648.1 34.2h0M643.5 9.3h0M659.1 35.1h0M648.3 10.8h0M670.3 25.3h0M643.5 14.3h0M659.3 3.9h0M663.8 14.2h0M651.3 33.8h0M660.4 33.6h0M655.7 34.9h0M649.7 8.4h0M669.3 14.3h0M664.1 18.7h0M648.6 33.7h0M659.0 9.5h0M667.4 16.8h0M669.8 26.4h0M654.0 30.6h0M665.3 29.3h0M662.5 25.8h0M651.8 12.2h0M663.6 7.3h0M664.8 26.0h0M652.6 34.1h0M666.3 13.7h0M653.4 29.4h0M667.5 20.8h0M670.2 12.8h0M644.7 7.3h0M653.8 34.2h0M646.1 10.8h0M668.4 16.5h0M640.9 9.4h0M647.7 26.7h0M649.8 35.0h0M650.3 8.3h0M653.4 5.0h0M643.2 24.7h0M654.1 31.9h0M662.6 15.8h0M656.5 10.6h0M644.6 32.9h0M649.1 35.5h0M655.2 2.5h0M658.0 5.3h0M643.9 18.7h0M659.6 35.5h0M644.0 31.8h0M661.5 5.9h0M667.1 28.2h0M657.0 34.2h0M642.3 26.3h0M645.9 25.3h0M639.4 17.7h0M663.4 9.0h0M671.3 16.3h0M657.9 33.4h0M664.9 30.2h0" stroke="#c8c8c8" stroke-width="0.66" stroke-linecap="round" fill="none"/><path d="M639.7 11.4h0M638.4 15.2h0M637.6 25.3h0M661.7 34.8h0M665.1 33.1h0M660.1 3.0h0M639.1 26.7h0M648.3 3.8h0M666.9 29.7h0M654.0 1.8h0M663.6 4.2h0M639.0 11.4h0M660.0 3.8h0M669.3 10.1h0M654.7 36.3h0M656.2 2.9h0M669.5 26.3h0M662.6 34.7h0M650.4 3.0h0M646.5 3.7h0M651.3 1.9h0M668.8 27.9h0M646.1 4.1h0M670.9 19.4h0M640.0 10.7h0M666.6 30.7h0M661.2 34.2h0M667.5 29.5h0M671.1 21.3h0M646.9 4.1h0M651.2 35.7h0M668.7 10.9h0M662.2 33.7h0M637.9 17.4h0M670.2 26.6h0M669.5 11.9h0M659.6 36.1h0M639.6 10.0h0M670.7 22.2h0M660.1 35.7h0M647.4 35.3h0M657.1 1.9h0M644.9 4.4h0M659.4 35.5h0M637.9 19.4h0M651.8 36.6h0M640.2 10.7h0M661.6 35.3h0M652.4 2.0h0M670.7 26.1h0M653.3 2.0h0M667.5 29.6h0M652.8 35.9h0M654.5 36.2h0M636.9 17.3h0M646.2 5.0h0M651.2 35.7h0M640.3 28.9h0M667.0 7.0h0M664.2 6.2h0M661.8 33.9h0M641.7 31.0h0M666.0 7.6h0M667.3 8.5h0M646.4 34.2h0M664.9 32.2h0M671.2 19.5h0M648.4 3.8h0M651.7 36.5h0M655.7 2.4h0M669.7 11.7h0M653.5 2.6h0M658.1 35.8h0M665.9 32.2h0M659.6 3.3h0M644.3 4.8h0M637.4 18.9h0M670.8 19.9h0M650.3 2.5h0M656.3 36.1h0M671.5 19.8h0M653.7 2.9h0M641.1 30.0h0M658.9 2.6h0M643.1 32.4h0M640.7 29.4h0M643.4 32.0h0M637.8 14.6h0M650.7 3.3h0M653.7 36.2h0M657.9 35.4h0M670.8 13.0h0M670.8 19.2h0M668.7 10.1h0M660.5 35.6h0M637.9 20.8h0M656.4 35.9h0M647.7 4.2h0M649.7 3.5h0M637.2 18.6h0M637.2 19.8h0M648.7 2.7h0M647.4 35.2h0M660.4 35.9h0M643.5 5.7h0M663.7 4.3h0M638.6 11.2h0M655.0 2.0h0M642.5 32.2h0M662.8 34.9h0M652.8 35.6h0M653.9 36.3h0M657.3 36.2h0M642.6 31.7h0M670.2 11.5h0M652.6 1.8h0M648.9 2.8h0M654.4 37.0h0M671.9 21.8h0M638.0 17.6h0M639.0 27.0h0M667.2 31.3h0M657.1 36.2h0M641.4 30.5h0M671.0 24.1h0M670.0 24.3h0M636.9 16.1h0M647.4 4.0h0M640.8 9.0h0M637.8 21.1h0M638.5 14.7h0M665.6 7.3h0M671.3 14.5h0M655.5 2.3h0M639.1 27.2h0M667.4 30.8h0M646.9 3.2h0M651.1 35.6h0M636.9 15.9h0M651.0 3.1h0M665.4 6.3h0M671.8 19.1h0M671.1 18.4h0M670.1 11.4h0M667.7 29.6h0M668.2 28.3h0M639.3 12.5h0M648.2 3.7h0M670.2 14.9h0M669.8 26.7h0M637.6 18.6h0M647.4 3.3h0M659.2 35.4h0M653.4 36.7h0M650.0 3.1h0M666.7 7.9h0M670.0 11.6h0M663.2 4.8h0M660.8 3.9h0M659.5 36.3h0" stroke="#d9603c" stroke-width="0.70" stroke-linecap="round" fill="none"/></g>
<path d="M649,15.5 C650.5,12.5 654.5,12 655.8,14.5 C656.6,16.5 655.4,18.9 658.5,20 C661.5,21.2 662.5,25 660,27 C656.4,29.2 650.8,27.6 649.2,24 C647.8,21.2 647.9,17.8 649,15.5 Z" fill="none" stroke="#a8c0e4" stroke-width="3.2" opacity="0.85"/>
<path d="M649,15.5 C650.5,12.5 654.5,12 655.8,14.5 C656.6,16.5 655.4,18.9 658.5,20 C661.5,21.2 662.5,25 660,27 C656.4,29.2 650.8,27.6 649.2,24 C647.8,21.2 647.9,17.8 649,15.5 Z" fill="#f2f5fa" stroke="#7a5a52" stroke-width="0.9"/>
<text x="255" y="177.0" font-size="5.75" font-weight="bold" fill="#000">Excitatory neurons:</text>
<text x="255" y="183.1" font-size="5.7" fill="#000">L2_3: Layer L2/3 neurons</text>
<text x="255" y="188.89999999999998" font-size="5.7" fill="#000">L4: Layer 4 neurons</text>
<text x="255" y="196.39999999999998" font-size="5.7" fill="#000">L2_4: Layer 2/4 neurons</text>
<text x="255" y="203.89999999999998" font-size="5.7" fill="#000">L5_6_IT: Layer 5/6 Intratelencephalic</text>
<text x="255" y="210.89999999999998" font-size="5.7" fill="#000">projection neurons</text>
<text x="255" y="218.39999999999998" font-size="5.7" fill="#000">L5: Layer 5 projection neurons</text>
<text x="255" y="225.39999999999998" font-size="5.7" fill="#000">L6: Layer 6 projection neurons</text>
<text x="350.5" y="177.0" font-size="5.75" font-weight="bold" fill="#000">Interneurons:</text>
<text x="350.5" y="183.1" font-size="5.7" fill="#000">IN_VIP: VIP interneurons</text>
<text x="350.5" y="188.89999999999998" font-size="5.7" fill="#000">IN_SV2C: SV2C interneurons</text>
<text x="350.5" y="196.39999999999998" font-size="5.7" fill="#000">IN_PV: Parvalbumin interneurons</text>
<text x="350.5" y="203.89999999999998" font-size="5.7" fill="#000">IN_SST: Somatostatin interneurons</text>
<text x="350.5" y="211.2" font-size="5.75" font-weight="bold" fill="#000">Non-neural cells:</text>
<text x="350.5" y="218.39999999999998" font-size="5.7" fill="#000">END: Endothelial cells</text>
<text x="350.5" y="225.39999999999998" font-size="5.7" fill="#000">PER: Pericytes</text>
<text x="350.5" y="231.89999999999998" font-size="5.7" fill="#000">SM: Smooth muscle</text>
<text x="444.5" y="177.0" font-size="5.75" font-weight="bold" fill="#000">Glial cells:</text>
<text x="444.5" y="183.1" font-size="5.7" fill="#000">MG: Microglia</text>
<text x="444.5" y="188.89999999999998" font-size="5.7" fill="#000">OL: Oligodendrocytes</text>
<text x="444.5" y="196.39999999999998" font-size="5.7" fill="#000">OPC: Oligodendrocyte</text>
<text x="444.5" y="203.89999999999998" font-size="5.7" fill="#000">precursor cells</text>
<text x="444.5" y="210.39999999999998" font-size="5.7" fill="#000">AST: Astrocytes</text>
<rect x="504" y="176" width="2.2" height="34" fill="#111"/>
<text x="512" y="177.0" font-size="5.75" font-weight="bold" fill="#000">Excitatory neurons:</text>
<text x="512" y="183.1" font-size="5.7" fill="#000">L2_3: Layer 2/3 neurons</text>
<text x="512" y="190.6" font-size="5.7" fill="#000">L2_4: Layer 2/4 meurons</text>
<text x="512" y="198.2" font-size="5.7" fill="#000">L4: Layer 4 neurons</text>
<text x="512" y="204.39999999999998" font-size="5.7" fill="#000">L5_6: Layer 5/6 neurons</text>
<text x="512" y="210.89999999999998" font-size="5.7" fill="#000">Imm_Neu: Immature neurons</text>
<text x="599.5" y="177.0" font-size="5.75" font-weight="bold" fill="#000">Progenitors:</text>
<text x="599.5" y="183.1" font-size="5.7" fill="#000">Div_prog: Dividing progenitors</text>
<text x="599.5" y="190.6" font-size="5.7" fill="#000">IPCs: Intermediate progenitors</text>
<text x="599.5" y="198.2" font-size="5.7" fill="#000">Early_RGC: early radial glia cells</text>
<text x="599.5" y="204.39999999999998" font-size="5.7" fill="#000">Late_RGC: Late radial glia cells</text>
<text x="599.5" y="211.89999999999998" font-size="5.75" font-weight="bold" fill="#000">Astrocytes:</text>
<text x="599.5" y="219.2" font-size="5.7" fill="#000">AST: Astrocytes</text>
<text x="599.5" y="225.89999999999998" font-size="5.7" fill="#000">Imm_AST: immature astrocytes</text>
<defs>
<filter id="wsp" x="-20%" y="-20%" width="140%" height="140%" color-interpolation-filters="sRGB">
<feGaussianBlur in="SourceAlpha" stdDeviation="1.8" result="a"/>
<feTurbulence type="fractalNoise" baseFrequency="1.37" numOctaves="2" seed="61" result="n"/>
<feColorMatrix in="n" type="matrix" values="0 0 0 0 1 0 0 0 0 1 0 0 0 0 1 0 3 0 0 -0.85" result="c"/>
<feComposite in="c" in2="a" operator="in"/>
</filter>
<filter id="rbB" x="-8%" y="-8%" width="116%" height="116%" color-interpolation-filters="sRGB">
<feGaussianBlur in="SourceAlpha" stdDeviation="0.6" result="a"/>
<feTurbulence type="fractalNoise" baseFrequency="1.37" numOctaves="2" seed="5" result="n"/>
<feColorMatrix in="n" type="matrix" values="0.9882 0 0 0 -0.1702 -0.2510 0 0 0 0.3953 -0.8941 0 0 0 1.0690 0 1.5 0 0 0.170" result="c"/>
<feComposite in="c" in2="a" operator="in"/>
</filter>
<filter id="rbM" x="-8%" y="-8%" width="116%" height="116%" color-interpolation-filters="sRGB">
<feGaussianBlur in="SourceAlpha" stdDeviation="0.6" result="a"/>
<feTurbulence type="fractalNoise" baseFrequency="1.37" numOctaves="2" seed="5" result="n"/>
<feColorMatrix in="n" type="matrix" values="0.6918 0 0 0 0.0027 -0.1757 0 0 0 0.3514 -0.6259 0 0 0 0.9125 0 1.3 0 0 0.250" result="c"/>
<feComposite in="c" in2="a" operator="in"/><feGaussianBlur stdDeviation="0.45"/>
</filter>
<filter id="rbR" x="-8%" y="-8%" width="116%" height="116%" color-interpolation-filters="sRGB">
<feGaussianBlur in="SourceAlpha" stdDeviation="0.6" result="a"/>
<feTurbulence type="fractalNoise" baseFrequency="1.37" numOctaves="2" seed="5" result="n"/>
<feColorMatrix in="n" type="matrix" values="0.9882 0 0 0 0.1757 -0.2510 0 0 0 0.3075 -0.8941 0 0 0 0.7561 0 1.5 0 0 0.150" result="c"/>
<feComposite in="c" in2="a" operator="in"/>
</filter>
<filter id="rbBs" x="-8%" y="-8%" width="116%" height="116%" color-interpolation-filters="sRGB">
<feGaussianBlur in="SourceAlpha" stdDeviation="0.6" result="a"/>
<feTurbulence type="fractalNoise" baseFrequency="1.37" numOctaves="2" seed="9" result="n"/>
<feColorMatrix in="n" type="matrix" values="0.9882 0 0 0 -0.0714 -0.2510 0 0 0 0.3702 -0.8941 0 0 0 0.9796 0 3 0 0 -0.900" result="c"/>
<feComposite in="c" in2="a" operator="in"/>
</filter>
<filter id="rbMs" x="-8%" y="-8%" width="116%" height="116%" color-interpolation-filters="sRGB">
<feGaussianBlur in="SourceAlpha" stdDeviation="0.6" result="a"/>
<feTurbulence type="fractalNoise" baseFrequency="1.37" numOctaves="2" seed="11" result="n"/>
<feColorMatrix in="n" type="matrix" values="0.9882 0 0 0 -0.0467 -0.2510 0 0 0 0.3639 -0.8941 0 0 0 0.9573 0 3 0 0 -1.020" result="c"/>
<feComposite in="c" in2="a" operator="in"/>
</filter>
<filter id="rbRs" x="-8%" y="-8%" width="116%" height="116%" color-interpolation-filters="sRGB">
<feGaussianBlur in="SourceAlpha" stdDeviation="0.6" result="a"/>
<feTurbulence type="fractalNoise" baseFrequency="1.37" numOctaves="2" seed="13" result="n"/>
<feColorMatrix in="n" type="matrix" values="0.9882 0 0 0 0.1757 -0.2510 0 0 0 0.3075 -0.8941 0 0 0 0.7561 0 3 0 0 -0.950" result="c"/>
<feComposite in="c" in2="a" operator="in"/>
</filter>
<filter id="rbMs2" x="-8%" y="-8%" width="116%" height="116%" color-interpolation-filters="sRGB">
<feGaussianBlur in="SourceAlpha" stdDeviation="0.6" result="a"/>
<feTurbulence type="fractalNoise" baseFrequency="1.37" numOctaves="2" seed="17" result="n"/>
<feColorMatrix in="n" type="matrix" values="0.9882 0 0 0 0.0275 -0.2510 0 0 0 0.3451 -0.8941 0 0 0 0.8902 0 4 0 0 -1.650" result="c"/>
<feComposite in="c" in2="a" operator="in"/>
</filter>
<filter id="rbRsoft" x="-8%" y="-8%" width="116%" height="116%" color-interpolation-filters="sRGB">
<feGaussianBlur in="SourceAlpha" stdDeviation="1.8" result="a"/>
<feTurbulence type="fractalNoise" baseFrequency="1.37" numOctaves="2" seed="23" result="n"/>
<feColorMatrix in="n" type="matrix" values="0.8894 0 0 0 0.2992 -0.2259 0 0 0 0.2761 -0.8047 0 0 0 0.6443 0 2 0 0 -0.450" result="c"/>
<feComposite in="c" in2="a" operator="in"/><feGaussianBlur stdDeviation="0.3"/>
</filter>
<filter id="rbBsoft" x="-8%" y="-8%" width="116%" height="116%" color-interpolation-filters="sRGB">
<feGaussianBlur in="SourceAlpha" stdDeviation="1.2" result="a"/>
<feTurbulence type="fractalNoise" baseFrequency="1.37" numOctaves="2" seed="29" result="n"/>
<feColorMatrix in="n" type="matrix" values="0.9882 0 0 0 -0.1949 -0.2510 0 0 0 0.4016 -0.8941 0 0 0 1.0914 0 2 0 0 -0.250" result="c"/>
<feComposite in="c" in2="a" operator="in"/>
</filter>
<filter id="rbRsoft2" x="-8%" y="-8%" width="116%" height="116%" color-interpolation-filters="sRGB">
<feGaussianBlur in="SourceAlpha" stdDeviation="1.8" result="a"/>
<feTurbulence type="fractalNoise" baseFrequency="1.37" numOctaves="2" seed="31" result="n"/>
<feColorMatrix in="n" type="matrix" values="0.9882 0 0 0 0.2498 -0.2510 0 0 0 0.2886 -0.8941 0 0 0 0.6890 0 2.5 0 0 -0.700" result="c"/>
<feComposite in="c" in2="a" operator="in"/>
</filter>
<filter id="rbRs2" x="-8%" y="-8%" width="116%" height="116%" color-interpolation-filters="sRGB">
<feGaussianBlur in="SourceAlpha" stdDeviation="0.6" result="a"/>
<feTurbulence type="fractalNoise" baseFrequency="1.37" numOctaves="2" seed="19" result="n"/>
<feColorMatrix in="n" type="matrix" values="0.9882 0 0 0 0.2004 -0.2510 0 0 0 0.3012 -0.8941 0 0 0 0.7337 0 4 0 0 -1.650" result="c"/>
<feComposite in="c" in2="a" operator="in"/>
</filter>
<filter id="rbVs" x="-8%" y="-8%" width="116%" height="116%" color-interpolation-filters="sRGB">
<feGaussianBlur in="SourceAlpha" stdDeviation="0.6" result="a"/>
<feTurbulence type="fractalNoise" baseFrequency="1.37" numOctaves="2" seed="53" result="n"/>
<feColorMatrix in="n" type="matrix" values="0.7906 0 0 0 0.0769 -0.2008 0 0 0 0.3325 -0.7153 0 0 0 0.8455 0 1.5 0 0 -0.500" result="c"/>
<feComposite in="c" in2="a" operator="in"/><feGaussianBlur stdDeviation="0.35"/>
</filter>
<filter id="rbBd" x="-8%" y="-8%" width="116%" height="116%" color-interpolation-filters="sRGB">
<feGaussianBlur in="SourceAlpha" stdDeviation="0.9" result="a"/>
<feTurbulence type="fractalNoise" baseFrequency="1.37" numOctaves="2" seed="57" result="n"/>
<feColorMatrix in="n" type="matrix" values="0.6918 0 0 0 -0.0467 -0.1757 0 0 0 0.3639 -0.6259 0 0 0 0.9573 0 1.2 0 0 0.300" result="c"/>
<feComposite in="c" in2="a" operator="in"/><feGaussianBlur stdDeviation="0.4"/>
</filter>
<filter id="fBase" x="-8%" y="-8%" width="116%" height="116%" color-interpolation-filters="sRGB">
<feGaussianBlur in="SourceAlpha" stdDeviation="0.6" result="a"/>
<feTurbulence type="fractalNoise" baseFrequency="1.37" numOctaves="2" seed="41" result="n"/>
<feColorMatrix in="n" type="matrix" values="0.8894 0 0 0 -0.0220 -0.2259 0 0 0 0.3576 -0.8047 0 0 0 0.9349 0 1.6 0 0 -0.380" result="c"/>
<feComposite in="c" in2="a" operator="in"/><feGaussianBlur stdDeviation="0.3"/>
</filter>
<filter id="fBlue" x="-8%" y="-8%" width="116%" height="116%" color-interpolation-filters="sRGB">
<feGaussianBlur in="SourceAlpha" stdDeviation="1.4" result="a"/>
<feTurbulence type="fractalNoise" baseFrequency="1.37" numOctaves="2" seed="43" result="n"/>
<feColorMatrix in="n" type="matrix" values="0.7906 0 0 0 -0.1208 -0.2008 0 0 0 0.3827 -0.7153 0 0 0 1.0243 0 1.5 0 0 -0.030" result="c"/>
<feComposite in="c" in2="a" operator="in"/><feGaussianBlur stdDeviation="0.3"/>
</filter>
<filter id="fBlue2" x="-8%" y="-8%" width="116%" height="116%" color-interpolation-filters="sRGB">
<feGaussianBlur in="SourceAlpha" stdDeviation="1.8" result="a"/>
<feTurbulence type="fractalNoise" baseFrequency="1.37" numOctaves="2" seed="47" result="n"/>
<feColorMatrix in="n" type="matrix" values="0.7906 0 0 0 -0.0714 -0.2008 0 0 0 0.3702 -0.7153 0 0 0 0.9796 0 1.5 0 0 -0.250" result="c"/>
<feComposite in="c" in2="a" operator="in"/><feGaussianBlur stdDeviation="0.3"/>
</filter>
<filter id="fRed" x="-8%" y="-8%" width="116%" height="116%" color-interpolation-filters="sRGB">
<feGaussianBlur in="SourceAlpha" stdDeviation="2.2" result="a"/>
<feTurbulence type="fractalNoise" baseFrequency="1.37" numOctaves="2" seed="45" result="n"/>
<feColorMatrix in="n" type="matrix" values="0.7906 0 0 0 0.3486 -0.2008 0 0 0 0.2635 -0.7153 0 0 0 0.5996 0 1.6 0 0 -0.440" result="c"/>
<feComposite in="c" in2="a" operator="in"/><feGaussianBlur stdDeviation="0.3"/>
</filter>
</defs>
<line x1="280.5" y1="234" x2="280.5" y2="379.5" stroke="#bdbdbd" stroke-width="1"/>
<line x1="280.5" y1="379.5" x2="459" y2="379.5" stroke="#bdbdbd" stroke-width="1"/>
<line x1="279.0" y1="253" x2="280.5" y2="253" stroke="#bdbdbd" stroke-width="0.7"/>
<text x="278.1" y="254.9" font-size="4.9" font-weight="bold" text-anchor="end" fill="#111">10</text>
<line x1="279.0" y1="278" x2="280.5" y2="278" stroke="#bdbdbd" stroke-width="0.7"/>
<text x="278.1" y="279.9" font-size="4.9" font-weight="bold" text-anchor="end" fill="#111">5</text>
<line x1="279.0" y1="302.5" x2="280.5" y2="302.5" stroke="#bdbdbd" stroke-width="0.7"/>
<text x="278.1" y="304.4" font-size="4.9" font-weight="bold" text-anchor="end" fill="#111">0</text>
<line x1="279.0" y1="327" x2="280.5" y2="327" stroke="#bdbdbd" stroke-width="0.7"/>
<text x="278.1" y="328.9" font-size="4.9" font-weight="bold" text-anchor="end" fill="#111">-5</text>
<line x1="279.0" y1="352" x2="280.5" y2="352" stroke="#bdbdbd" stroke-width="0.7"/>
<text x="278.1" y="353.9" font-size="4.9" font-weight="bold" text-anchor="end" fill="#111">-10</text>
<line x1="279.0" y1="376" x2="280.5" y2="376" stroke="#bdbdbd" stroke-width="0.7"/>
<text x="278.1" y="377.9" font-size="4.9" font-weight="bold" text-anchor="end" fill="#111">-15</text>
<line x1="293.75" y1="379.5" x2="293.75" y2="381.0" stroke="#bdbdbd" stroke-width="0.7"/>
<text x="293.75" y="385.4" font-size="4.9" font-weight="bold" text-anchor="middle" fill="#111">-10</text>
<line x1="358.75" y1="379.5" x2="358.75" y2="381.0" stroke="#bdbdbd" stroke-width="0.7"/>
<text x="358.75" y="385.4" font-size="4.9" font-weight="bold" text-anchor="middle" fill="#111">0</text>
<line x1="423.75" y1="379.5" x2="423.75" y2="381.0" stroke="#bdbdbd" stroke-width="0.7"/>
<text x="423.75" y="385.4" font-size="4.9" font-weight="bold" text-anchor="middle" fill="#111">10</text>
<text x="375" y="390.8" font-size="5.5" font-weight="bold" text-anchor="middle" fill="#111">UMAP_1</text>
<text x="268.5" y="310" font-size="5.5" font-weight="bold" fill="#111" text-anchor="middle" transform="rotate(-90 268.5 310)">UMAP_2</text>
<path d="M374.3 301.4h0M378.5 310.4h0M370.2 302.1h0M363.2 306.7h0M362.6 306.3h0M388.8 304.1h0M362.7 295.3h0M345.0 318.8h0M362.2 281.9h0M369.1 293.4h0M366.9 302.2h0M347.6 298.6h0M386.6 304.9h0M368.8 303.5h0M383.0 290.8h0M356.9 301.4h0M359.3 298.6h0M365.2 284.2h0M381.4 306.4h0M354.2 305.2h0M377.9 294.1h0M366.2 310.0h0M365.7 318.3h0M373.0 289.1h0M360.8 301.8h0M366.6 313.5h0M373.2 292.9h0M382.3 298.8h0M371.8 300.7h0M347.8 300.0h0M351.8 303.8h0M379.5 308.9h0M375.4 302.8h0M383.0 283.8h0M362.8 297.0h0M345.9 318.7h0M351.1 309.6h0M368.0 286.7h0M353.8 287.7h0M364.7 311.9h0M357.2 317.5h0M380.2 301.6h0M371.0 298.7h0M377.7 294.7h0M363.9 294.3h0M364.3 299.4h0M366.7 307.7h0M368.0 283.2h0M389.8 290.5h0M375.0 298.1h0" stroke="#7076c0" stroke-width="0.64" stroke-linecap="round" fill="none"/><path d="M370.4 303.3h0M380.8 314.1h0M365.7 293.3h0M350.7 301.8h0M355.7 295.6h0M365.7 282.3h0M363.7 311.8h0M363.4 292.9h0M357.6 307.7h0M358.0 283.5h0M367.7 305.4h0M346.6 295.8h0M377.9 299.8h0M366.1 306.9h0M358.6 305.3h0M380.8 298.7h0M381.1 289.1h0M368.5 307.9h0M379.9 313.3h0M382.0 297.5h0M377.5 302.3h0M386.6 295.2h0M380.9 302.6h0M375.3 306.2h0M376.3 303.9h0M348.7 314.6h0M380.3 309.6h0M350.8 295.4h0M354.5 309.3h0M381.5 295.2h0M370.8 309.5h0M348.7 295.3h0M385.9 303.8h0M387.2 312.6h0M348.7 297.9h0M380.6 301.3h0M366.4 306.4h0M370.2 315.6h0M357.5 311.3h0M380.4 294.4h0M368.0 294.7h0M375.5 289.9h0M370.3 305.3h0M362.3 286.6h0M356.3 298.8h0M353.2 308.6h0M375.0 295.7h0" stroke="#8a8ed0" stroke-width="0.64" stroke-linecap="round" fill="none"/><path d="M348.0 297.5h0M346.6 319.7h0M371.9 302.2h0M366.9 294.5h0M373.7 293.9h0M365.6 309.3h0M376.4 299.4h0M385.1 305.3h0M364.1 289.5h0M361.7 288.8h0M361.5 305.4h0M374.9 305.5h0M350.0 305.3h0M363.8 302.9h0M368.5 292.6h0M356.4 296.1h0M371.4 291.3h0M384.1 304.9h0M369.3 297.6h0M377.2 278.7h0M354.4 298.4h0M379.2 311.1h0M377.0 307.9h0M358.8 283.1h0M351.5 296.7h0M363.2 296.2h0M352.1 303.0h0M360.0 308.8h0M352.7 313.2h0M356.9 301.9h0M350.3 309.3h0M376.4 296.1h0M356.1 301.5h0M363.2 316.1h0M365.4 311.8h0M358.8 303.5h0M373.7 309.0h0M358.1 295.0h0M370.4 312.1h0M385.7 300.7h0M375.4 301.1h0M373.2 304.6h0M357.1 283.7h0M355.6 286.6h0M350.2 291.6h0M357.5 304.5h0M368.8 305.1h0M358.1 300.5h0M355.3 307.9h0M360.3 293.6h0M361.9 300.9h0M349.8 314.0h0M374.8 282.0h0M370.5 314.4h0M363.8 302.1h0M357.8 295.8h0M362.2 297.9h0M360.7 304.1h0M341.4 305.3h0M349.5 287.7h0M348.5 306.8h0M391.9 311.1h0M366.8 298.8h0" stroke="#e09aa8" stroke-width="0.64" stroke-linecap="round" fill="none"/><path d="M359.3 299.9h0M365.8 290.8h0M381.3 293.2h0M378.3 322.1h0M346.4 307.0h0M384.7 305.9h0M365.8 310.5h0M344.9 302.6h0M379.4 310.6h0M381.3 289.6h0M348.8 305.3h0M368.5 306.5h0M370.9 281.7h0M367.3 299.0h0M356.0 303.0h0M347.6 313.7h0M390.1 320.5h0M379.6 295.3h0M371.8 282.3h0M363.4 301.4h0M354.5 294.0h0M375.3 311.6h0M362.4 285.2h0M387.2 317.6h0M380.1 305.0h0M363.5 307.7h0M345.9 304.0h0M388.3 298.7h0M372.1 310.9h0M352.4 298.4h0M352.2 301.7h0M381.2 311.5h0M371.4 303.0h0M382.8 294.6h0M372.5 297.5h0M368.4 289.5h0M373.3 286.9h0M361.5 286.7h0M342.7 298.4h0M358.7 310.4h0M352.6 293.4h0M378.1 297.0h0M357.6 308.1h0M361.4 297.7h0M349.5 296.3h0M376.5 287.1h0M361.0 301.2h0M368.6 316.9h0M360.7 306.6h0M378.3 296.2h0M379.2 297.6h0M351.4 309.3h0M350.4 284.2h0M360.2 293.8h0M380.9 303.9h0M348.1 302.8h0M358.1 300.2h0M342.4 298.5h0M345.0 322.1h0M366.8 295.1h0M378.9 310.0h0M374.6 319.0h0M368.8 291.2h0M374.6 299.1h0" stroke="#d07888" stroke-width="0.64" stroke-linecap="round" fill="none"/><path d="M357.9 301.9h0M361.4 309.7h0M390.9 300.3h0M374.6 305.4h0M359.4 318.3h0M372.5 304.8h0M370.6 308.2h0M375.7 321.2h0M358.6 299.1h0M344.0 304.3h0M367.5 307.7h0M363.2 308.6h0M378.4 300.1h0M342.5 298.6h0M370.6 303.4h0M367.5 300.3h0M350.0 306.4h0M385.1 307.1h0M386.9 314.0h0M373.1 312.3h0M357.0 318.6h0M372.2 301.4h0M359.2 298.0h0M362.8 314.9h0M374.5 303.5h0M365.9 310.3h0M356.4 299.0h0M363.3 311.1h0M376.5 302.4h0M390.9 308.5h0M350.5 314.2h0M356.9 317.5h0M376.0 286.8h0M364.9 303.1h0M364.6 292.2h0M361.6 292.2h0M373.8 289.7h0M359.6 315.2h0M356.6 315.6h0M373.3 293.5h0M383.0 300.7h0M358.8 298.9h0M383.2 289.8h0M362.8 298.9h0M362.1 308.3h0M390.5 298.0h0M354.4 285.3h0M364.0 325.0h0M347.0 293.5h0M349.1 300.6h0M363.8 300.4h0M358.2 303.0h0M377.5 287.4h0M359.6 319.6h0M374.7 306.4h0M351.5 305.2h0M384.3 302.7h0" stroke="#a8a8e0" stroke-width="0.64" stroke-linecap="round" fill="none"/>
<clipPath id="esil"><path d="M299.8,245.2 C300.8,243.9 303.3,243.4 305.8,242.9 C308.3,242.4 312.4,242.2 314.7,242.2 C317.0,242.2 318.7,241.8 319.9,242.9 C321.1,244.0 321.5,246.7 322.1,248.9 C322.7,251.1 323.0,253.3 323.6,256.3 C324.2,259.3 326.2,264.9 325.8,266.7 C325.4,268.5 323.2,267.4 321.4,267.4 C319.5,267.4 316.4,266.4 314.7,266.7 C313.0,266.9 311.9,267.8 311.0,268.9 C310.1,270.0 310.0,272.4 309.5,273.4 C309.0,274.4 308.4,275.2 308.0,274.8 C307.6,274.4 307.7,273.0 307.3,271.1 C306.9,269.2 306.6,266.2 305.8,263.7 C305.1,261.2 303.8,258.5 302.8,256.3 C301.8,254.1 300.3,252.2 299.8,250.4 C299.3,248.6 298.8,246.4 299.8,245.2 Z" fill="#000"/><path d="M296.1,283.7 C297.5,283.9 299.4,284.9 301.3,286.0 C303.2,287.1 305.1,288.7 307.3,290.4 C309.5,292.1 312.0,294.1 314.7,296.3 C317.4,298.5 320.4,301.3 323.6,303.8 C326.8,306.3 330.8,309.0 334.0,311.2 C337.2,313.4 341.2,315.6 342.9,317.1 C344.6,318.6 345.9,319.4 344.4,320.1 C342.9,320.9 337.7,321.6 334.0,321.6 C330.3,321.6 326.3,321.3 322.1,320.1 C317.9,318.9 312.6,316.7 308.7,314.2 C304.8,311.7 301.0,308.3 298.4,305.3 C295.8,302.3 294.3,299.0 293.2,296.3 C292.1,293.6 291.7,290.9 291.7,288.9 C291.7,286.9 292.5,285.4 293.2,284.5 C293.9,283.6 294.8,283.4 296.1,283.7 Z" fill="#000"/><path d="M343.7,259.8 C344.1,257.9 347.2,255.1 349.9,253.6 C352.6,252.1 356.1,251.5 359.8,251.1 C363.5,250.7 368.1,250.7 372.2,250.9 C376.3,251.1 381.1,252.6 384.6,252.4 C388.1,252.2 391.4,251.2 393.3,249.9 C395.2,248.7 394.6,246.2 395.8,244.9 C397.1,243.7 399.2,242.7 400.8,242.4 C402.4,242.1 404.4,242.3 405.7,243.1 C407.0,243.9 408.1,245.2 408.8,247.4 C409.5,249.6 410.2,253.6 410.1,256.1 C410.0,258.6 409.6,260.7 408.2,262.3 C406.8,263.9 404.5,264.8 402.0,266.0 C399.5,267.2 395.6,268.2 393.3,269.7 C391.0,271.1 390.0,272.6 388.3,274.7 C386.6,276.8 385.0,280.0 383.4,282.1 C381.8,284.2 380.3,286.1 378.4,287.1 C376.5,288.1 374.0,288.7 372.2,288.3 C370.4,287.9 368.9,286.2 367.3,284.6 C365.7,283.0 364.0,280.7 362.3,278.4 C360.6,276.1 359.8,273.3 357.3,271.0 C354.8,268.7 349.7,266.7 347.4,264.8 C345.1,262.9 343.3,261.7 343.7,259.8 Z" fill="#000"/><path d="M385.0,282.0 C385.7,280.5 388.0,278.8 390.0,278.0 C392.0,277.2 394.8,276.8 397.0,277.0 C399.2,277.2 401.5,277.8 403.0,279.0 C404.5,280.2 405.8,282.3 406.0,284.0 C406.2,285.7 405.5,287.8 404.0,289.0 C402.5,290.2 399.3,290.8 397.0,291.0 C394.7,291.2 391.8,290.7 390.0,290.0 C388.2,289.3 386.8,288.3 386.0,287.0 C385.2,285.7 384.3,283.5 385.0,282.0 Z" fill="#000"/><path d="M403.0,279.5 C403.3,278.3 406.6,275.6 408.0,274.5 C409.4,273.4 411.0,272.8 411.5,273.0 C412.0,273.2 411.9,274.6 411.0,276.0 C410.1,277.4 407.3,280.9 406.0,281.5 C404.7,282.1 402.7,280.7 403.0,279.5 Z" fill="#000"/><path d="M344.0,320.0 C344.8,319.0 348.5,317.8 352.0,317.0 C355.5,316.2 360.7,315.8 365.0,315.5 C369.3,315.2 374.2,314.8 378.0,315.0 C381.8,315.2 386.2,315.7 388.0,316.5 C389.8,317.3 389.7,318.9 389.0,320.0 C388.3,321.1 386.8,322.2 384.0,323.0 C381.2,323.8 376.3,324.7 372.0,325.0 C367.7,325.3 362.2,325.3 358.0,325.0 C353.8,324.7 349.3,323.8 347.0,323.0 C344.7,322.2 343.2,321.0 344.0,320.0 Z" fill="#000"/><path d="M344.2,322.3 C344.9,321.2 348.2,321.8 349.4,322.8 C350.6,323.8 351.3,326.2 351.5,328.2 C351.6,330.3 349.6,333.2 350.4,335.2 C351.3,337.2 354.1,338.5 356.7,340.1 C359.3,341.8 363.4,342.9 366.0,345.1 C368.6,347.2 371.2,350.0 372.3,353.0 C373.3,356.0 373.5,359.9 372.3,362.9 C371.1,365.9 367.6,369.1 365.0,370.8 C362.4,372.5 359.4,373.4 356.7,373.3 C353.9,373.1 350.3,371.9 348.4,369.8 C346.4,367.8 345.2,364.5 344.7,360.9 C344.2,357.3 344.8,351.8 345.2,348.0 C345.7,344.2 347.3,341.3 347.3,338.1 C347.3,335.0 345.8,331.9 345.2,329.2 C344.7,326.6 343.5,323.4 344.2,322.3 Z" fill="#000"/><path d="M417.0,286.7 C418.2,285.0 420.1,283.5 422.2,282.7 C424.3,281.9 427.3,281.4 429.5,281.7 C431.6,282.0 434.1,283.2 435.2,284.7 C436.2,286.2 436.3,288.8 435.7,290.6 C435.1,292.4 433.3,294.4 431.6,295.6 C429.8,296.7 427.2,296.7 425.3,297.6 C423.4,298.4 421.7,300.4 420.1,300.5 C418.6,300.7 416.8,299.9 415.9,298.5 C415.1,297.2 414.7,294.6 414.9,292.6 C415.1,290.6 415.8,288.3 417.0,286.7 Z" fill="#000"/><path d="M410.8,304.5 C411.3,303.0 413.2,300.9 414.9,299.5 C416.6,298.1 418.9,297.0 421.1,296.1 C423.4,295.2 426.4,294.2 428.4,294.1 C430.4,293.9 432.9,294.2 433.1,295.1 C433.3,296.0 431.3,298.3 429.5,299.5 C427.7,300.8 424.3,301.3 422.2,302.5 C420.1,303.7 418.7,305.5 417.0,306.5 C415.3,307.4 412.8,308.8 411.8,308.4 C410.8,308.1 410.2,306.0 410.8,304.5 Z" fill="#000"/><path d="M407.6,307.4 C408.5,306.4 410.3,305.3 411.8,305.0 C413.3,304.6 415.4,304.6 416.5,305.5 C417.5,306.4 418.2,308.8 418.0,310.4 C417.9,312.1 416.6,314.1 415.4,315.4 C414.2,316.6 412.1,317.8 410.8,317.8 C409.4,317.8 407.8,316.4 407.1,315.4 C406.4,314.3 406.5,312.7 406.6,311.4 C406.7,310.1 406.8,308.5 407.6,307.4 Z" fill="#000"/><path d="M399.3,315.4 C400.7,314.1 403.3,312.7 405.6,312.4 C407.8,312.1 410.9,312.2 412.8,313.4 C414.7,314.5 416.1,317.0 417.0,319.3 C417.9,321.6 418.0,324.9 418.0,327.2 C418.0,329.6 418.0,331.5 417.0,333.2 C416.0,334.9 413.9,336.8 411.8,337.6 C409.7,338.5 406.6,338.7 404.5,338.1 C402.4,337.6 400.4,336.0 399.3,334.2 C398.2,332.4 398.1,329.6 397.8,327.2 C397.4,324.9 397.0,322.3 397.2,320.3 C397.5,318.3 397.9,316.7 399.3,315.4 Z" fill="#000"/><path d="M387.4,333.7 C387.7,333.3 391.1,333.0 393.1,332.8 C395.1,332.6 398.4,332.4 399.3,332.6 C400.2,332.8 399.7,333.8 398.3,334.2 C396.9,334.6 392.8,335.1 391.0,335.0 C389.2,334.9 387.0,334.0 387.4,333.7 Z" fill="#000"/><path d="M426.7,323.3 C426.8,321.8 430.2,319.2 432.6,317.4 C435.0,315.5 437.8,313.9 440.9,312.4 C444.0,310.9 448.3,309.3 451.3,308.4 C454.4,307.6 457.7,307.0 459.2,307.4 C460.8,307.9 460.9,309.4 460.7,311.4 C460.4,313.4 459.3,317.1 457.6,319.3 C455.8,321.6 453.2,323.4 450.3,324.8 C447.4,326.2 443.3,327.5 440.2,327.7 C437.1,328.0 433.8,327.0 431.6,326.3 C429.3,325.5 426.5,324.8 426.7,323.3 Z" fill="#000"/></clipPath>
<g filter="url(#rbM)"><path d="M299.8,245.2 C300.8,243.9 303.3,243.4 305.8,242.9 C308.3,242.4 312.4,242.2 314.7,242.2 C317.0,242.2 318.7,241.8 319.9,242.9 C321.1,244.0 321.5,246.7 322.1,248.9 C322.7,251.1 323.0,253.3 323.6,256.3 C324.2,259.3 326.2,264.9 325.8,266.7 C325.4,268.5 323.2,267.4 321.4,267.4 C319.5,267.4 316.4,266.4 314.7,266.7 C313.0,266.9 311.9,267.8 311.0,268.9 C310.1,270.0 310.0,272.4 309.5,273.4 C309.0,274.4 308.4,275.2 308.0,274.8 C307.6,274.4 307.7,273.0 307.3,271.1 C306.9,269.2 306.6,266.2 305.8,263.7 C305.1,261.2 303.8,258.5 302.8,256.3 C301.8,254.1 300.3,252.2 299.8,250.4 C299.3,248.6 298.8,246.4 299.8,245.2 Z" fill="#000"/><path d="M296.1,283.7 C297.5,283.9 299.4,284.9 301.3,286.0 C303.2,287.1 305.1,288.7 307.3,290.4 C309.5,292.1 312.0,294.1 314.7,296.3 C317.4,298.5 320.4,301.3 323.6,303.8 C326.8,306.3 330.8,309.0 334.0,311.2 C337.2,313.4 341.2,315.6 342.9,317.1 C344.6,318.6 345.9,319.4 344.4,320.1 C342.9,320.9 337.7,321.6 334.0,321.6 C330.3,321.6 326.3,321.3 322.1,320.1 C317.9,318.9 312.6,316.7 308.7,314.2 C304.8,311.7 301.0,308.3 298.4,305.3 C295.8,302.3 294.3,299.0 293.2,296.3 C292.1,293.6 291.7,290.9 291.7,288.9 C291.7,286.9 292.5,285.4 293.2,284.5 C293.9,283.6 294.8,283.4 296.1,283.7 Z" fill="#000"/><path d="M343.7,259.8 C344.1,257.9 347.2,255.1 349.9,253.6 C352.6,252.1 356.1,251.5 359.8,251.1 C363.5,250.7 368.1,250.7 372.2,250.9 C376.3,251.1 381.1,252.6 384.6,252.4 C388.1,252.2 391.4,251.2 393.3,249.9 C395.2,248.7 394.6,246.2 395.8,244.9 C397.1,243.7 399.2,242.7 400.8,242.4 C402.4,242.1 404.4,242.3 405.7,243.1 C407.0,243.9 408.1,245.2 408.8,247.4 C409.5,249.6 410.2,253.6 410.1,256.1 C410.0,258.6 409.6,260.7 408.2,262.3 C406.8,263.9 404.5,264.8 402.0,266.0 C399.5,267.2 395.6,268.2 393.3,269.7 C391.0,271.1 390.0,272.6 388.3,274.7 C386.6,276.8 385.0,280.0 383.4,282.1 C381.8,284.2 380.3,286.1 378.4,287.1 C376.5,288.1 374.0,288.7 372.2,288.3 C370.4,287.9 368.9,286.2 367.3,284.6 C365.7,283.0 364.0,280.7 362.3,278.4 C360.6,276.1 359.8,273.3 357.3,271.0 C354.8,268.7 349.7,266.7 347.4,264.8 C345.1,262.9 343.3,261.7 343.7,259.8 Z" fill="#000"/><path d="M385.0,282.0 C385.7,280.5 388.0,278.8 390.0,278.0 C392.0,277.2 394.8,276.8 397.0,277.0 C399.2,277.2 401.5,277.8 403.0,279.0 C404.5,280.2 405.8,282.3 406.0,284.0 C406.2,285.7 405.5,287.8 404.0,289.0 C402.5,290.2 399.3,290.8 397.0,291.0 C394.7,291.2 391.8,290.7 390.0,290.0 C388.2,289.3 386.8,288.3 386.0,287.0 C385.2,285.7 384.3,283.5 385.0,282.0 Z" fill="#000"/><path d="M403.0,279.5 C403.3,278.3 406.6,275.6 408.0,274.5 C409.4,273.4 411.0,272.8 411.5,273.0 C412.0,273.2 411.9,274.6 411.0,276.0 C410.1,277.4 407.3,280.9 406.0,281.5 C404.7,282.1 402.7,280.7 403.0,279.5 Z" fill="#000"/><path d="M344.0,320.0 C344.8,319.0 348.5,317.8 352.0,317.0 C355.5,316.2 360.7,315.8 365.0,315.5 C369.3,315.2 374.2,314.8 378.0,315.0 C381.8,315.2 386.2,315.7 388.0,316.5 C389.8,317.3 389.7,318.9 389.0,320.0 C388.3,321.1 386.8,322.2 384.0,323.0 C381.2,323.8 376.3,324.7 372.0,325.0 C367.7,325.3 362.2,325.3 358.0,325.0 C353.8,324.7 349.3,323.8 347.0,323.0 C344.7,322.2 343.2,321.0 344.0,320.0 Z" fill="#000"/><path d="M344.2,322.3 C344.9,321.2 348.2,321.8 349.4,322.8 C350.6,323.8 351.3,326.2 351.5,328.2 C351.6,330.3 349.6,333.2 350.4,335.2 C351.3,337.2 354.1,338.5 356.7,340.1 C359.3,341.8 363.4,342.9 366.0,345.1 C368.6,347.2 371.2,350.0 372.3,353.0 C373.3,356.0 373.5,359.9 372.3,362.9 C371.1,365.9 367.6,369.1 365.0,370.8 C362.4,372.5 359.4,373.4 356.7,373.3 C353.9,373.1 350.3,371.9 348.4,369.8 C346.4,367.8 345.2,364.5 344.7,360.9 C344.2,357.3 344.8,351.8 345.2,348.0 C345.7,344.2 347.3,341.3 347.3,338.1 C347.3,335.0 345.8,331.9 345.2,329.2 C344.7,326.6 343.5,323.4 344.2,322.3 Z" fill="#000"/><path d="M417.0,286.7 C418.2,285.0 420.1,283.5 422.2,282.7 C424.3,281.9 427.3,281.4 429.5,281.7 C431.6,282.0 434.1,283.2 435.2,284.7 C436.2,286.2 436.3,288.8 435.7,290.6 C435.1,292.4 433.3,294.4 431.6,295.6 C429.8,296.7 427.2,296.7 425.3,297.6 C423.4,298.4 421.7,300.4 420.1,300.5 C418.6,300.7 416.8,299.9 415.9,298.5 C415.1,297.2 414.7,294.6 414.9,292.6 C415.1,290.6 415.8,288.3 417.0,286.7 Z" fill="#000"/><path d="M410.8,304.5 C411.3,303.0 413.2,300.9 414.9,299.5 C416.6,298.1 418.9,297.0 421.1,296.1 C423.4,295.2 426.4,294.2 428.4,294.1 C430.4,293.9 432.9,294.2 433.1,295.1 C433.3,296.0 431.3,298.3 429.5,299.5 C427.7,300.8 424.3,301.3 422.2,302.5 C420.1,303.7 418.7,305.5 417.0,306.5 C415.3,307.4 412.8,308.8 411.8,308.4 C410.8,308.1 410.2,306.0 410.8,304.5 Z" fill="#000"/><path d="M407.6,307.4 C408.5,306.4 410.3,305.3 411.8,305.0 C413.3,304.6 415.4,304.6 416.5,305.5 C417.5,306.4 418.2,308.8 418.0,310.4 C417.9,312.1 416.6,314.1 415.4,315.4 C414.2,316.6 412.1,317.8 410.8,317.8 C409.4,317.8 407.8,316.4 407.1,315.4 C406.4,314.3 406.5,312.7 406.6,311.4 C406.7,310.1 406.8,308.5 407.6,307.4 Z" fill="#000"/><path d="M399.3,315.4 C400.7,314.1 403.3,312.7 405.6,312.4 C407.8,312.1 410.9,312.2 412.8,313.4 C414.7,314.5 416.1,317.0 417.0,319.3 C417.9,321.6 418.0,324.9 418.0,327.2 C418.0,329.6 418.0,331.5 417.0,333.2 C416.0,334.9 413.9,336.8 411.8,337.6 C409.7,338.5 406.6,338.7 404.5,338.1 C402.4,337.6 400.4,336.0 399.3,334.2 C398.2,332.4 398.1,329.6 397.8,327.2 C397.4,324.9 397.0,322.3 397.2,320.3 C397.5,318.3 397.9,316.7 399.3,315.4 Z" fill="#000"/><path d="M387.4,333.7 C387.7,333.3 391.1,333.0 393.1,332.8 C395.1,332.6 398.4,332.4 399.3,332.6 C400.2,332.8 399.7,333.8 398.3,334.2 C396.9,334.6 392.8,335.1 391.0,335.0 C389.2,334.9 387.0,334.0 387.4,333.7 Z" fill="#000"/><path d="M426.7,323.3 C426.8,321.8 430.2,319.2 432.6,317.4 C435.0,315.5 437.8,313.9 440.9,312.4 C444.0,310.9 448.3,309.3 451.3,308.4 C454.4,307.6 457.7,307.0 459.2,307.4 C460.8,307.9 460.9,309.4 460.7,311.4 C460.4,313.4 459.3,317.1 457.6,319.3 C455.8,321.6 453.2,323.4 450.3,324.8 C447.4,326.2 443.3,327.5 440.2,327.7 C437.1,328.0 433.8,327.0 431.6,326.3 C429.3,325.5 426.5,324.8 426.7,323.3 Z" fill="#000"/></g>
<g clip-path="url(#esil)">
<path d="M303.0,252.0 C304.0,250.5 308.2,249.0 310.0,250.0 C311.8,251.0 313.7,255.3 314.0,258.0 C314.3,260.7 313.2,264.7 312.0,266.0 C310.8,267.3 308.3,267.2 307.0,266.0 C305.7,264.8 304.7,261.3 304.0,259.0 C303.3,256.7 302.0,253.5 303.0,252.0 Z" fill="#000" filter="url(#wsp)"/>
<path d="M372.0,256.0 C374.0,254.2 382.7,254.0 386.0,255.0 C389.3,256.0 392.3,259.8 392.0,262.0 C391.7,264.2 387.0,267.3 384.0,268.0 C381.0,268.7 376.0,268.0 374.0,266.0 C372.0,264.0 370.0,257.8 372.0,256.0 Z" fill="#000" filter="url(#wsp)"/>
<path d="M358.0,272.0 C359.0,270.5 364.0,269.3 368.0,270.0 C372.0,270.7 380.3,273.3 382.0,276.0 C383.7,278.7 380.3,284.5 378.0,286.0 C375.7,287.5 370.7,286.2 368.0,285.0 C365.3,283.8 363.7,281.2 362.0,279.0 C360.3,276.8 357.0,273.5 358.0,272.0 Z" fill="#000" filter="url(#wsp)"/>
<path d="M398.0,249.0 C399.2,247.3 402.7,246.2 404.0,247.0 C405.3,247.8 406.3,251.7 406.0,254.0 C405.7,256.3 403.5,260.5 402.0,261.0 C400.5,261.5 397.7,259.0 397.0,257.0 C396.3,255.0 396.8,250.7 398.0,249.0 Z" fill="#000" filter="url(#wsp)"/>
<path d="M299.0,245.0 C299.6,243.9 301.5,242.8 303.0,242.5 C304.5,242.2 307.2,241.9 308.0,243.0 C308.8,244.1 308.8,247.7 308.0,249.0 C307.2,250.3 304.4,251.0 303.0,251.0 C301.6,251.0 300.2,250.0 299.5,249.0 C298.8,248.0 298.4,246.1 299.0,245.0 Z" fill="#000" filter="url(#rbRsoft)"/>
<path d="M292.0,288.0 C292.2,286.0 293.2,284.6 294.0,284.0 C294.8,283.4 296.5,282.7 297.0,284.5 C297.5,286.3 296.2,291.6 297.0,295.0 C297.8,298.4 299.5,302.0 302.0,305.0 C304.5,308.0 308.2,310.8 312.0,313.0 C315.8,315.2 320.7,317.3 325.0,318.5 C329.3,319.7 336.5,319.4 338.0,320.0 C339.5,320.6 337.0,321.9 334.0,322.0 C331.0,322.1 324.5,321.8 320.0,320.5 C315.5,319.2 310.8,316.6 307.0,314.0 C303.2,311.4 299.4,308.0 297.0,305.0 C294.6,302.0 293.3,298.8 292.5,296.0 C291.7,293.2 291.8,290.0 292.0,288.0 Z" fill="#000" filter="url(#rbRsoft)"/>
<path d="M343.5,260.0 C343.3,258.2 345.8,256.0 347.0,255.0 C348.2,254.0 350.5,252.8 351.0,254.0 C351.5,255.2 350.5,260.0 350.0,262.0 C349.5,264.0 349.1,266.3 348.0,266.0 C346.9,265.7 343.7,261.8 343.5,260.0 Z" fill="#000" filter="url(#rbRsoft)"/>
<path d="M362.0,262.0 C362.3,260.0 367.3,259.0 370.0,259.0 C372.7,259.0 377.0,260.2 378.0,262.0 C379.0,263.8 377.7,268.5 376.0,270.0 C374.3,271.5 370.3,272.3 368.0,271.0 C365.7,269.7 361.7,264.0 362.0,262.0 Z" fill="#000" filter="url(#rbRsoft)"/>
<path d="M384.0,262.0 C385.0,260.5 389.7,259.0 392.0,259.0 C394.3,259.0 397.7,260.7 398.0,262.0 C398.3,263.3 396.0,266.0 394.0,267.0 C392.0,268.0 387.7,268.8 386.0,268.0 C384.3,267.2 383.0,263.5 384.0,262.0 Z" fill="#000" filter="url(#rbRsoft)"/>
<path d="M370.0,278.0 C371.3,276.8 376.0,275.3 378.0,276.0 C380.0,276.7 382.3,280.3 382.0,282.0 C381.7,283.7 378.0,285.8 376.0,286.0 C374.0,286.2 371.0,284.3 370.0,283.0 C369.0,281.7 368.7,279.2 370.0,278.0 Z" fill="#000" filter="url(#rbRsoft)"/>
<path d="M390.0,284.0 C390.8,282.8 394.7,282.0 397.0,282.0 C399.3,282.0 403.5,282.8 404.0,284.0 C404.5,285.2 402.0,288.2 400.0,289.0 C398.0,289.8 393.7,289.8 392.0,289.0 C390.3,288.2 389.2,285.2 390.0,284.0 Z" fill="#000" filter="url(#rbRsoft)"/>
<path d="M363.0,349.0 C364.2,347.7 367.3,347.3 369.0,348.0 C370.7,348.7 372.5,350.8 373.0,353.0 C373.5,355.2 373.2,359.5 372.0,361.0 C370.8,362.5 367.7,362.8 366.0,362.0 C364.3,361.2 362.5,358.2 362.0,356.0 C361.5,353.8 361.8,350.3 363.0,349.0 Z" fill="#000" filter="url(#rbRsoft)"/>
<path d="M433.0,320.0 C434.8,318.8 440.8,318.5 445.0,318.0 C449.2,317.5 456.2,316.2 458.0,317.0 C459.8,317.8 458.3,321.5 456.0,323.0 C453.7,324.5 447.7,325.7 444.0,326.0 C440.3,326.3 435.8,326.0 434.0,325.0 C432.2,324.0 431.2,321.2 433.0,320.0 Z" fill="#000" filter="url(#rbRsoft)"/>
</g>
<clipPath id="eend"><path d="M289.1,339.5 C289.4,338.7 289.7,337.9 291.3,337.7 C292.9,337.4 296.2,337.8 298.6,338.0 C301.0,338.2 303.3,339.3 305.9,339.1 C308.4,338.9 312.2,336.7 313.9,336.9 C315.6,337.1 315.0,339.8 316.1,340.2 C317.2,340.6 319.9,338.9 320.5,339.5 C321.1,340.1 319.1,342.8 319.8,343.9 C320.5,345.0 324.5,345.4 324.9,346.4 C325.3,347.4 323.1,348.9 322.0,349.7 C320.9,350.5 319.7,350.5 318.3,351.2 C316.9,351.9 316.0,353.1 313.9,354.1 C311.8,355.1 308.2,356.9 305.9,357.0 C303.6,357.1 301.6,356.3 300.1,354.8 C298.6,353.3 298.6,349.9 297.1,348.2 C295.6,346.5 292.6,345.6 291.3,344.6 C290.0,343.6 289.9,343.2 289.5,342.4 C289.1,341.5 288.8,340.3 289.1,339.5 Z"/></clipPath>
<path d="M289.1,339.5 C289.4,338.7 289.7,337.9 291.3,337.7 C292.9,337.4 296.2,337.8 298.6,338.0 C301.0,338.2 303.3,339.3 305.9,339.1 C308.4,338.9 312.2,336.7 313.9,336.9 C315.6,337.1 315.0,339.8 316.1,340.2 C317.2,340.6 319.9,338.9 320.5,339.5 C321.1,340.1 319.1,342.8 319.8,343.9 C320.5,345.0 324.5,345.4 324.9,346.4 C325.3,347.4 323.1,348.9 322.0,349.7 C320.9,350.5 319.7,350.5 318.3,351.2 C316.9,351.9 316.0,353.1 313.9,354.1 C311.8,355.1 308.2,356.9 305.9,357.0 C303.6,357.1 301.6,356.3 300.1,354.8 C298.6,353.3 298.6,349.9 297.1,348.2 C295.6,346.5 292.6,345.6 291.3,344.6 C290.0,343.6 289.9,343.2 289.5,342.4 C289.1,341.5 288.8,340.3 289.1,339.5 Z" fill="#000" filter="url(#rbVs)"/>
<g clip-path="url(#eend)">
<path d="M289.0,339.0 C289.5,338.1 290.3,337.2 292.0,337.0 C293.7,336.8 297.7,337.2 299.0,338.0 C300.3,338.8 300.3,340.6 300.0,342.0 C299.7,343.4 298.3,346.0 297.0,346.5 C295.7,347.0 293.3,345.7 292.0,345.0 C290.7,344.3 289.5,343.5 289.0,342.5 C288.5,341.5 288.5,339.9 289.0,339.0 Z" fill="#000" filter="url(#rbBd)"/>
<path d="M298.0,337.5 C300.5,336.9 311.2,336.2 314.0,336.5 C316.8,336.8 316.3,338.4 315.0,339.0 C313.7,339.6 308.7,340.1 306.0,340.3 C303.3,340.5 300.3,340.5 299.0,340.0 C297.7,339.5 295.5,338.1 298.0,337.5 Z" fill="#000" filter="url(#rbBd)"/>
<path d="M297.0,349.0 C297.3,348.6 299.5,352.0 301.0,353.0 C302.5,354.0 303.8,355.0 306.0,355.0 C308.2,355.0 312.0,353.8 314.0,353.0 C316.0,352.2 317.2,350.5 318.0,350.5 C318.8,350.5 321.0,351.8 319.0,353.0 C317.0,354.2 309.3,357.1 306.0,357.5 C302.7,357.9 300.5,356.9 299.0,355.5 C297.5,354.1 296.7,349.4 297.0,349.0 Z" fill="#000" filter="url(#rbBd)"/>
<path d="M317.0,341.0 C317.5,339.2 320.5,338.5 321.0,339.0 C321.5,339.5 319.3,342.8 320.0,344.0 C320.7,345.2 324.7,345.5 325.0,346.5 C325.3,347.5 323.2,349.4 322.0,350.0 C320.8,350.6 318.8,351.5 318.0,350.0 C317.2,348.5 316.5,342.8 317.0,341.0 Z" fill="#000" filter="url(#rbBd)"/>
</g>
<circle cx="424.5" cy="251.2" r="1.8" fill="#4448ad"/><circle cx="424.5" cy="259.7" r="1.8" fill="#d22f36"/>
<text x="430.8" y="254.5" font-size="8.5" font-weight="bold" fill="#000">Control</text>
<text x="430.8" y="262.1" font-size="8.5" font-weight="bold" fill="#000">Dup15q</text>
<line x1="487.5" y1="233" x2="487.5" y2="379.5" stroke="#bdbdbd" stroke-width="1"/>
<line x1="487.5" y1="379.5" x2="680" y2="379.5" stroke="#bdbdbd" stroke-width="1"/>
<line x1="486.0" y1="255" x2="487.5" y2="255" stroke="#bdbdbd" stroke-width="0.7"/>
<text x="485.1" y="256.9" font-size="4.6" font-weight="bold" text-anchor="end" fill="#111">10</text>
<line x1="486.0" y1="283" x2="487.5" y2="283" stroke="#bdbdbd" stroke-width="0.7"/>
<text x="485.1" y="284.9" font-size="4.6" font-weight="bold" text-anchor="end" fill="#111">5</text>
<line x1="486.0" y1="310.5" x2="487.5" y2="310.5" stroke="#bdbdbd" stroke-width="0.7"/>
<text x="485.1" y="312.4" font-size="4.6" font-weight="bold" text-anchor="end" fill="#111">0</text>
<line x1="486.0" y1="338" x2="487.5" y2="338" stroke="#bdbdbd" stroke-width="0.7"/>
<text x="485.1" y="339.9" font-size="4.6" font-weight="bold" text-anchor="end" fill="#111">-5</text>
<line x1="486.0" y1="366" x2="487.5" y2="366" stroke="#bdbdbd" stroke-width="0.7"/>
<text x="485.1" y="367.9" font-size="4.6" font-weight="bold" text-anchor="end" fill="#111">-10</text>
<line x1="520" y1="379.5" x2="520" y2="381.0" stroke="#bdbdbd" stroke-width="0.7"/>
<text x="520" y="385.1" font-size="4.6" font-weight="bold" text-anchor="middle" fill="#111">-10</text>
<line x1="559.5" y1="379.5" x2="559.5" y2="381.0" stroke="#bdbdbd" stroke-width="0.7"/>
<text x="559.5" y="385.1" font-size="4.6" font-weight="bold" text-anchor="middle" fill="#111">-5</text>
<line x1="598.9" y1="379.5" x2="598.9" y2="381.0" stroke="#bdbdbd" stroke-width="0.7"/>
<text x="598.9" y="385.1" font-size="4.6" font-weight="bold" text-anchor="middle" fill="#111">0</text>
<line x1="639.1" y1="379.5" x2="639.1" y2="381.0" stroke="#bdbdbd" stroke-width="0.7"/>
<text x="639.1" y="385.1" font-size="4.6" font-weight="bold" text-anchor="middle" fill="#111">5</text>
<line x1="679.2" y1="379.5" x2="679.2" y2="381.0" stroke="#bdbdbd" stroke-width="0.7"/>
<text x="679.2" y="385.1" font-size="4.6" font-weight="bold" text-anchor="middle" fill="#111">10</text>
<text x="584" y="389.5" font-size="5.0" font-weight="bold" text-anchor="middle" fill="#111">UMAP_1</text>
<text x="477" y="310.5" font-size="5.0" font-weight="bold" fill="#111" text-anchor="middle" transform="rotate(-90 477 310.5)">UMAP_2</text>
<path d="M522.9 266.2h0M533.2 276.8h0M546.9 296.3h0M526.4 260.9h0M539.3 293.5h0M552.0 308.9h0M507.5 296.9h0M505.9 260.1h0M503.2 272.2h0M536.5 262.7h0" stroke="#a8a8e0" stroke-width="0.60" stroke-linecap="round" fill="none"/><path d="M554.1 277.0h0M558.8 272.3h0M507.2 291.1h0M504.4 275.2h0" stroke="#e0a0a8" stroke-width="0.60" stroke-linecap="round" fill="none"/>
<path d="M573.3 245.6h0M585.3 262.3h0M567.8 245.8h0M582.3 257.6h0M584.8 259.3h0M571.6 248.1h0M579.8 258.9h0M572.5 253.8h0M581.2 259.5h0M572.2 246.0h0M578.1 252.9h0" stroke="#a8a8e0" stroke-width="0.60" stroke-linecap="round" fill="none"/><path d="M581.8 257.9h0M583.1 260.2h0M580.0 262.1h0M569.6 244.0h0M567.1 246.0h0M571.4 243.3h0" stroke="#c8c8e8" stroke-width="0.60" stroke-linecap="round" fill="none"/><path d="M567.8 242.4h0M576.4 253.8h0M576.4 251.3h0M569.9 248.9h0M569.3 243.5h0M568.4 249.1h0M579.3 253.7h0M577.0 256.8h0M567.0 240.8h0" stroke="#8a8ad0" stroke-width="0.60" stroke-linecap="round" fill="none"/><path d="M574.5 246.7h0M586.6 264.3h0M583.8 261.0h0M580.8 255.2h0" stroke="#e0a0b0" stroke-width="0.60" stroke-linecap="round" fill="none"/>
<clipPath id="fsil"><path d="M563.6,286.6 C564.6,284.9 568.1,283.4 571.8,281.5 C575.5,279.6 581.6,277.0 586.0,275.3 C590.4,273.6 595.3,272.1 598.4,271.2 C601.5,270.3 602.5,269.8 604.5,270.2 C606.5,270.6 608.0,273.1 610.7,273.3 C613.4,273.5 616.5,272.1 620.9,271.2 C625.3,270.3 632.5,268.5 637.3,268.2 C642.1,267.9 646.1,268.2 649.5,269.2 C652.9,270.2 654.1,271.2 657.7,274.3 C661.3,277.4 670.3,285.2 671.0,287.6 C671.7,290.0 665.4,288.1 661.8,288.6 C658.2,289.1 652.9,288.8 649.5,290.7 C646.1,292.6 641.3,297.2 641.3,299.9 C641.3,302.6 647.2,304.3 649.5,307.0 C651.8,309.7 656.4,314.0 655.0,316.0 C653.6,318.0 644.9,316.4 641.3,319.0 C637.7,321.6 634.2,327.1 633.2,331.6 C632.2,336.1 635.6,341.1 635.2,345.9 C634.9,350.7 633.5,356.4 631.1,360.2 C628.7,363.9 625.3,366.3 620.9,368.4 C616.5,370.4 610.0,372.2 604.5,372.5 C599.0,372.8 593.0,372.1 588.2,370.4 C583.4,368.7 579.6,364.6 575.9,362.2 C572.1,359.8 569.8,358.1 565.7,356.1 C561.6,354.1 555.5,352.4 551.4,350.0 C547.3,347.6 542.5,344.2 541.1,341.8 C539.7,339.4 540.8,338.1 543.2,335.7 C545.6,333.3 550.6,330.2 555.4,327.5 C560.2,324.8 566.3,322.0 571.8,319.3 C577.3,316.6 584.5,313.3 588.2,311.1 C591.9,308.9 595.4,307.9 594.0,306.0 C592.6,304.1 584.0,301.6 580.0,299.9 C576.0,298.2 572.2,297.2 569.8,295.8 C567.4,294.4 566.7,293.2 565.7,291.7 C564.7,290.2 562.6,288.3 563.6,286.6 Z"/></clipPath>
<path d="M563.6,286.6 C564.6,284.9 568.1,283.4 571.8,281.5 C575.5,279.6 581.6,277.0 586.0,275.3 C590.4,273.6 595.3,272.1 598.4,271.2 C601.5,270.3 602.5,269.8 604.5,270.2 C606.5,270.6 608.0,273.1 610.7,273.3 C613.4,273.5 616.5,272.1 620.9,271.2 C625.3,270.3 632.5,268.5 637.3,268.2 C642.1,267.9 646.1,268.2 649.5,269.2 C652.9,270.2 654.1,271.2 657.7,274.3 C661.3,277.4 670.3,285.2 671.0,287.6 C671.7,290.0 665.4,288.1 661.8,288.6 C658.2,289.1 652.9,288.8 649.5,290.7 C646.1,292.6 641.3,297.2 641.3,299.9 C641.3,302.6 647.2,304.3 649.5,307.0 C651.8,309.7 656.4,314.0 655.0,316.0 C653.6,318.0 644.9,316.4 641.3,319.0 C637.7,321.6 634.2,327.1 633.2,331.6 C632.2,336.1 635.6,341.1 635.2,345.9 C634.9,350.7 633.5,356.4 631.1,360.2 C628.7,363.9 625.3,366.3 620.9,368.4 C616.5,370.4 610.0,372.2 604.5,372.5 C599.0,372.8 593.0,372.1 588.2,370.4 C583.4,368.7 579.6,364.6 575.9,362.2 C572.1,359.8 569.8,358.1 565.7,356.1 C561.6,354.1 555.5,352.4 551.4,350.0 C547.3,347.6 542.5,344.2 541.1,341.8 C539.7,339.4 540.8,338.1 543.2,335.7 C545.6,333.3 550.6,330.2 555.4,327.5 C560.2,324.8 566.3,322.0 571.8,319.3 C577.3,316.6 584.5,313.3 588.2,311.1 C591.9,308.9 595.4,307.9 594.0,306.0 C592.6,304.1 584.0,301.6 580.0,299.9 C576.0,298.2 572.2,297.2 569.8,295.8 C567.4,294.4 566.7,293.2 565.7,291.7 C564.7,290.2 562.6,288.3 563.6,286.6 Z" fill="#000" filter="url(#fBase)"/>
<g clip-path="url(#fsil)">
<path d="M563.0,287.0 C563.5,285.7 565.5,283.6 568.0,282.0 C570.5,280.4 574.3,278.9 578.0,277.5 C581.7,276.1 586.3,274.7 590.0,273.5 C593.7,272.3 597.3,271.0 600.0,270.5 C602.7,270.0 605.3,269.8 606.0,270.5 C606.7,271.2 606.3,273.8 604.0,275.0 C601.7,276.2 596.0,276.8 592.0,278.0 C588.0,279.2 583.7,280.5 580.0,282.0 C576.3,283.5 572.5,285.7 570.0,287.0 C567.5,288.3 566.2,290.0 565.0,290.0 C563.8,290.0 562.5,288.3 563.0,287.0 Z" fill="#000" filter="url(#fBlue)"/>
<path d="M612.0,274.0 C613.2,272.7 616.3,272.0 620.0,271.0 C623.7,270.0 629.3,268.4 634.0,268.0 C638.7,267.6 644.2,267.7 648.0,268.5 C651.8,269.3 654.7,271.2 657.0,273.0 C659.3,274.8 662.3,278.0 662.0,279.0 C661.7,280.0 657.8,279.8 655.0,279.0 C652.2,278.2 648.8,275.3 645.0,274.5 C641.2,273.7 636.2,273.6 632.0,274.0 C627.8,274.4 623.2,276.2 620.0,277.0 C616.8,277.8 614.3,279.5 613.0,279.0 C611.7,278.5 610.8,275.3 612.0,274.0 Z" fill="#000" filter="url(#fBlue)"/>
<path d="M598.0,272.0 C599.3,270.3 603.7,269.8 606.0,270.0 C608.3,270.2 610.7,271.0 612.0,273.0 C613.3,275.0 614.2,278.8 614.0,282.0 C613.8,285.2 612.3,289.7 611.0,292.0 C609.7,294.3 607.7,296.3 606.0,296.0 C604.3,295.7 602.3,292.7 601.0,290.0 C599.7,287.3 598.5,283.0 598.0,280.0 C597.5,277.0 596.7,273.7 598.0,272.0 Z" fill="#000" filter="url(#fBlue2)"/>
<path d="M541.0,342.0 C541.2,340.0 543.0,337.2 545.0,335.0 C547.0,332.8 550.2,330.8 553.0,329.0 C555.8,327.2 559.2,325.3 562.0,324.0 C564.8,322.7 568.0,320.8 570.0,321.0 C572.0,321.2 574.7,323.3 574.0,325.0 C573.3,326.7 569.0,328.7 566.0,331.0 C563.0,333.3 558.8,336.5 556.0,339.0 C553.2,341.5 551.0,344.7 549.0,346.0 C547.0,347.3 545.3,347.7 544.0,347.0 C542.7,346.3 540.8,344.0 541.0,342.0 Z" fill="#000" filter="url(#fBlue)"/>
<path d="M566.0,356.0 C566.7,357.2 573.7,360.8 578.0,363.0 C582.3,365.2 587.3,367.6 592.0,369.0 C596.7,370.4 601.3,371.8 606.0,371.5 C610.7,371.2 616.0,369.1 620.0,367.0 C624.0,364.9 628.8,361.3 630.0,359.0 C631.2,356.7 629.7,352.7 627.0,353.0 C624.3,353.3 618.5,359.2 614.0,361.0 C609.5,362.8 604.7,363.8 600.0,364.0 C595.3,364.2 590.3,363.3 586.0,362.0 C581.7,360.7 577.3,357.0 574.0,356.0 C570.7,355.0 565.3,354.8 566.0,356.0 Z" fill="#000" filter="url(#fBlue)"/>
<path d="M622.0,328.0 C624.0,326.0 628.8,328.2 631.0,331.0 C633.2,333.8 634.8,340.5 635.0,345.0 C635.2,349.5 633.8,356.0 632.0,358.0 C630.2,360.0 626.2,359.5 624.0,357.0 C621.8,354.5 619.3,347.8 619.0,343.0 C618.7,338.2 620.0,330.0 622.0,328.0 Z" fill="#000" filter="url(#fBlue2)"/>
<path d="M593.0,303.0 C594.3,300.5 597.8,298.2 600.0,298.0 C602.2,297.8 605.0,299.7 606.0,302.0 C607.0,304.3 607.3,309.3 606.0,312.0 C604.7,314.7 600.3,317.8 598.0,318.0 C595.7,318.2 592.8,315.5 592.0,313.0 C591.2,310.5 591.7,305.5 593.0,303.0 Z" fill="#000" filter="url(#fBlue2)"/>
<path d="M568.0,291.0 C568.7,288.8 574.0,286.3 578.0,285.0 C582.0,283.7 587.7,282.5 592.0,283.0 C596.3,283.5 601.8,285.5 604.0,288.0 C606.2,290.5 606.0,295.0 605.0,298.0 C604.0,301.0 601.2,305.2 598.0,306.0 C594.8,306.8 590.0,304.3 586.0,303.0 C582.0,301.7 577.0,300.0 574.0,298.0 C571.0,296.0 567.3,293.2 568.0,291.0 Z" fill="#000" filter="url(#fRed)"/>
<path d="M626.0,283.0 C627.0,280.8 635.2,279.7 640.0,279.0 C644.8,278.3 651.0,278.3 655.0,279.0 C659.0,279.7 661.3,281.5 664.0,283.0 C666.7,284.5 671.3,286.7 671.0,288.0 C670.7,289.3 665.8,290.3 662.0,291.0 C658.2,291.7 652.7,291.8 648.0,292.0 C643.3,292.2 637.7,293.5 634.0,292.0 C630.3,290.5 625.0,285.2 626.0,283.0 Z" fill="#000" filter="url(#fRed)"/>
<path d="M582.0,320.0 C583.3,316.2 589.7,314.3 594.0,313.0 C598.3,311.7 603.7,311.2 608.0,312.0 C612.3,312.8 617.3,315.0 620.0,318.0 C622.7,321.0 624.7,326.3 624.0,330.0 C623.3,333.7 620.0,337.8 616.0,340.0 C612.0,342.2 605.0,343.7 600.0,343.0 C595.0,342.3 589.0,339.8 586.0,336.0 C583.0,332.2 580.7,323.8 582.0,320.0 Z" fill="#000" filter="url(#fRed)"/>
<path d="M556.0,326.0 C557.0,323.3 562.3,322.3 566.0,321.0 C569.7,319.7 575.7,317.2 578.0,318.0 C580.3,318.8 581.3,323.5 580.0,326.0 C578.7,328.5 573.3,331.2 570.0,333.0 C566.7,334.8 562.3,338.2 560.0,337.0 C557.7,335.8 555.0,328.7 556.0,326.0 Z" fill="#000" filter="url(#fRed)"/>
</g>
<path d="M621.5 312.9h0M626.4 317.0h0M644.1 294.5h0M645.8 318.2h0M622.1 308.1h0M628.9 297.6h0M643.2 299.9h0M638.0 303.7h0M624.7 301.4h0M641.6 296.5h0M637.7 300.0h0M633.1 317.1h0M641.1 293.5h0M632.1 295.9h0M628.5 297.4h0M630.4 307.0h0M652.7 300.6h0M627.4 310.9h0M628.8 295.1h0M632.2 294.2h0M630.4 303.9h0M646.5 305.8h0M653.0 307.7h0M637.6 319.1h0M634.1 315.8h0M639.8 307.1h0M620.8 315.0h0M642.6 307.0h0M622.4 313.3h0M658.4 302.1h0M632.0 313.5h0M643.7 314.7h0M626.0 299.3h0M633.4 300.9h0M655.0 298.9h0M639.0 317.1h0M628.3 303.5h0M637.2 316.0h0M642.2 304.1h0M631.4 319.2h0M640.3 317.0h0M655.5 303.9h0M626.0 310.6h0M652.6 313.0h0M622.5 304.4h0M637.2 295.6h0M635.6 297.3h0M629.1 317.0h0M658.1 300.2h0M627.6 312.1h0M654.3 301.5h0" stroke="#e8a8b8" stroke-width="0.66" stroke-linecap="round" fill="none"/><path d="M658.4 303.1h0M638.1 306.9h0M635.8 293.7h0M652.8 303.3h0M643.0 303.3h0M643.2 297.6h0M653.6 300.9h0M640.9 295.1h0M649.1 312.2h0M658.8 308.6h0M637.7 293.1h0M624.2 315.7h0M635.4 313.4h0M635.6 293.8h0M655.5 307.1h0M620.2 313.0h0M639.2 320.1h0M649.0 307.5h0M645.6 316.6h0M645.9 316.0h0M644.4 313.9h0M642.5 308.3h0M620.3 300.0h0M622.4 311.0h0M623.1 295.1h0M629.2 314.9h0M640.9 294.2h0M622.6 314.1h0M642.3 319.7h0M635.0 312.0h0M637.5 313.9h0M621.0 305.5h0M651.3 314.6h0M642.8 300.5h0M630.3 310.8h0M658.8 301.6h0M651.2 317.8h0M632.1 313.7h0M646.2 292.9h0M641.1 311.2h0M632.6 320.1h0M632.8 306.6h0M647.9 295.7h0M642.8 316.3h0M638.8 318.4h0M649.6 313.9h0M626.6 305.6h0M639.2 297.3h0M624.7 315.7h0M647.3 308.6h0M621.0 301.1h0M640.6 305.6h0M634.0 316.8h0M630.5 295.5h0M635.1 314.2h0M648.7 301.1h0" stroke="#e08898" stroke-width="0.66" stroke-linecap="round" fill="none"/><path d="M640.6 309.3h0M633.2 311.9h0M648.6 293.2h0M643.0 301.2h0M648.7 317.4h0M636.1 309.8h0M642.6 304.5h0M637.0 292.4h0M628.9 313.9h0M642.8 305.3h0M639.5 308.5h0M630.2 306.6h0M636.8 293.9h0M634.6 315.5h0M623.8 309.1h0M622.1 309.3h0M620.4 313.5h0M637.9 294.6h0M633.0 295.7h0M644.6 299.3h0M639.7 309.2h0M637.7 311.1h0M650.7 295.4h0M645.2 299.5h0M629.7 303.0h0M644.5 293.8h0M655.8 305.3h0M651.9 310.5h0M649.3 315.3h0M626.2 310.0h0M630.6 297.2h0M652.8 312.1h0M630.9 303.8h0M655.9 302.1h0M629.7 304.8h0M631.5 320.1h0M652.0 316.2h0M623.8 298.8h0M629.6 319.3h0M642.4 311.1h0M629.1 318.2h0M649.0 307.9h0M634.9 314.9h0M647.4 307.5h0M624.9 298.5h0M635.9 303.3h0M621.3 301.3h0M648.5 301.3h0M648.4 295.3h0" stroke="#d06070" stroke-width="0.66" stroke-linecap="round" fill="none"/><path d="M650.9 309.9h0M623.8 310.7h0M626.7 317.5h0M622.0 309.7h0M631.9 319.0h0M650.9 316.7h0M624.7 308.0h0M656.5 301.8h0M628.0 293.3h0M639.3 302.2h0M624.6 301.6h0M629.5 305.9h0M632.1 305.0h0M624.2 314.4h0M625.3 317.0h0M639.2 320.5h0M623.5 308.7h0M651.7 310.8h0M634.3 318.6h0M630.8 317.3h0M625.0 311.3h0M641.7 304.5h0M639.2 298.7h0M631.6 314.4h0M656.8 309.4h0M656.2 299.5h0M634.8 305.4h0M625.1 304.5h0M643.8 312.7h0M643.4 293.2h0M644.9 317.2h0M636.5 318.6h0M630.8 316.1h0M649.2 318.0h0M623.6 299.3h0M630.6 320.1h0M630.6 292.5h0M627.8 299.9h0M648.1 299.5h0M649.8 312.0h0M638.3 314.6h0M622.4 301.2h0M630.9 295.5h0M640.1 292.6h0" stroke="#a0a0d8" stroke-width="0.66" stroke-linecap="round" fill="none"/>
<circle cx="518.5" cy="251.2" r="1.8" fill="#4448ad"/><circle cx="518.5" cy="258.8" r="1.8" fill="#d22f36"/>
<text x="524.9" y="254.7" font-size="8.6" font-weight="bold" fill="#000">Control</text>
<text x="524.9" y="262.3" font-size="8.6" font-weight="bold" fill="#000">Dup15q</text>
<g class="gp">
<text x="164.5" y="401.9" font-size="9.2" text-anchor="middle" fill="#000">Primary cell-type specific average gene</text>
<text x="164.5" y="412.9" font-size="9.2" text-anchor="middle" fill="#000">expression of the PWACR genes</text>
<text x="44.2" y="427.0" font-size="4.5" font-weight="bold" text-anchor="end" fill="#4a4a4a">SM_Control</text>
<text x="44.2" y="431.286" font-size="4.5" font-weight="bold" text-anchor="end" fill="#4a4a4a">SM_Dup15q</text>
<text x="44.2" y="435.572" font-size="4.5" font-weight="bold" text-anchor="end" fill="#4a4a4a">PER_Control</text>
<text x="44.2" y="439.858" font-size="4.5" font-weight="bold" text-anchor="end" fill="#4a4a4a">PER_Dup15q</text>
<text x="44.2" y="444.144" font-size="4.5" font-weight="bold" text-anchor="end" fill="#4a4a4a">END_Control</text>
<text x="44.2" y="448.43" font-size="4.5" font-weight="bold" text-anchor="end" fill="#4a4a4a">END_Dup15q</text>
<text x="44.2" y="452.716" font-size="4.5" font-weight="bold" text-anchor="end" fill="#4a4a4a">MG_Control</text>
<text x="44.2" y="457.002" font-size="4.5" font-weight="bold" text-anchor="end" fill="#4a4a4a">MG_Dup15q</text>
<text x="44.2" y="461.288" font-size="4.5" font-weight="bold" text-anchor="end" fill="#4a4a4a">AST_Control</text>
<text x="44.2" y="465.574" font-size="4.5" font-weight="bold" text-anchor="end" fill="#4a4a4a">AST_Dup15q</text>
<text x="44.2" y="469.86" font-size="4.5" font-weight="bold" text-anchor="end" fill="#4a4a4a">OPC_Control</text>
<text x="44.2" y="474.146" font-size="4.5" font-weight="bold" text-anchor="end" fill="#4a4a4a">OPC_Dup15q</text>
<text x="44.2" y="478.432" font-size="4.5" font-weight="bold" text-anchor="end" fill="#4a4a4a">OL_Control</text>
<text x="44.2" y="482.718" font-size="4.5" font-weight="bold" text-anchor="end" fill="#4a4a4a">OL_Dup15q</text>
<text x="44.2" y="487.004" font-size="4.5" font-weight="bold" text-anchor="end" fill="#4a4a4a">IN_SV2C_Control</text>
<text x="44.2" y="491.28999999999996" font-size="4.5" font-weight="bold" text-anchor="end" fill="#4a4a4a">IN_SV2C_Dup15q</text>
<text x="44.2" y="495.576" font-size="4.5" font-weight="bold" text-anchor="end" fill="#4a4a4a">IN_VIP_Control</text>
<text x="44.2" y="499.86199999999997" font-size="4.5" font-weight="bold" text-anchor="end" fill="#4a4a4a">IN_VIP_Dup15q</text>
<text x="44.2" y="504.148" font-size="4.5" font-weight="bold" text-anchor="end" fill="#4a4a4a">IN_PV_2_Control</text>
<text x="44.2" y="508.43399999999997" font-size="4.5" font-weight="bold" text-anchor="end" fill="#4a4a4a">IN_PV_2_Dup15q</text>
<text x="44.2" y="512.72" font-size="4.5" font-weight="bold" text-anchor="end" fill="#4a4a4a">IN_PV_Control</text>
<text x="44.2" y="517.006" font-size="4.5" font-weight="bold" text-anchor="end" fill="#4a4a4a">IN_PV_Dup15q</text>
<text x="44.2" y="521.292" font-size="4.5" font-weight="bold" text-anchor="end" fill="#4a4a4a">IN_SST_Control</text>
<text x="44.2" y="525.578" font-size="4.5" font-weight="bold" text-anchor="end" fill="#4a4a4a">IN_SST_Dup15q</text>
<text x="44.2" y="529.864" font-size="4.5" font-weight="bold" text-anchor="end" fill="#4a4a4a">L6_Control</text>
<text x="44.2" y="534.15" font-size="4.5" font-weight="bold" text-anchor="end" fill="#4a4a4a">L6_Dup15q</text>
<text x="44.2" y="538.436" font-size="4.5" font-weight="bold" text-anchor="end" fill="#4a4a4a">L5_Control</text>
<text x="44.2" y="542.722" font-size="4.5" font-weight="bold" text-anchor="end" fill="#4a4a4a">L5_Dup15q</text>
<text x="44.2" y="547.008" font-size="4.5" font-weight="bold" text-anchor="end" fill="#4a4a4a">L5_6_IT_Control</text>
<text x="44.2" y="551.294" font-size="4.5" font-weight="bold" text-anchor="end" fill="#4a4a4a">L5_6_IT_Dup15q</text>
<text x="44.2" y="555.5799999999999" font-size="4.5" font-weight="bold" text-anchor="end" fill="#4a4a4a">L4_Control</text>
<text x="44.2" y="559.866" font-size="4.5" font-weight="bold" text-anchor="end" fill="#4a4a4a">L4_Dup15q</text>
<text x="44.2" y="564.152" font-size="4.5" font-weight="bold" text-anchor="end" fill="#4a4a4a">L2_4_Control</text>
<text x="44.2" y="568.438" font-size="4.5" font-weight="bold" text-anchor="end" fill="#4a4a4a">L2_4_Dup15q</text>
<text x="44.2" y="572.7239999999999" font-size="4.5" font-weight="bold" text-anchor="end" fill="#4a4a4a">L2_3_Control</text>
<text x="44.2" y="577.01" font-size="4.5" font-weight="bold" text-anchor="end" fill="#4a4a4a">L2_3_Dup15q</text>
<path d="M49.3 434.1h0M49.3 468.4h0M56.2 425.5h0M56.2 442.6h0M56.2 468.4h0M63.0 434.1h0M69.9 434.1h0M69.9 468.4h0M83.6 434.1h0M97.3 476.9h0M111.0 425.5h0M111.0 442.6h0M111.0 451.2h0M111.0 459.8h0M111.0 468.4h0M111.0 476.9h0M131.6 425.5h0M131.6 451.2h0M145.3 425.5h0M145.3 434.1h0M145.3 442.6h0M145.3 451.2h0M145.3 459.8h0M145.3 476.9h0M172.8 425.5h0M172.8 451.2h0M186.5 468.4h0M193.4 451.2h0M220.8 434.1h0M220.8 459.8h0M220.8 468.4h0M220.8 476.9h0M227.7 442.6h0M227.7 451.2h0M227.7 468.4h0M234.5 442.6h0M234.5 468.4h0M241.4 425.5h0M241.4 434.1h0M268.8 425.5h0M268.8 434.1h0M268.8 442.6h0M268.8 451.2h0M268.8 459.8h0M275.7 476.9h0M282.5 451.2h0M289.4 434.1h0M63.0 485.5h0M63.0 494.1h0M63.0 519.8h0M76.7 485.5h0M76.7 494.1h0M76.7 502.6h0M76.7 511.2h0M76.7 519.8h0M97.3 545.5h0M97.3 554.1h0M97.3 571.2h0M138.5 545.5h0M138.5 554.1h0M152.2 519.8h0M165.9 485.5h0M165.9 494.1h0M165.9 511.2h0M165.9 519.8h0M220.8 519.8h0M227.7 485.5h0M227.7 494.1h0M227.7 502.6h0M227.7 511.2h0M227.7 519.8h0M227.7 528.4h0M227.7 536.9h0M227.7 545.5h0M227.7 554.1h0M227.7 562.7h0M227.7 571.2h0M234.5 511.2h0M234.5 519.8h0M248.2 485.5h0M248.2 502.6h0M248.2 528.4h0M248.2 536.9h0M248.2 545.5h0M248.2 562.7h0M248.2 571.2h0M275.7 545.5h0M289.4 485.5h0M289.4 536.9h0" stroke="#cbcbcb" stroke-width="1.00" stroke-linecap="round" fill="none"/><path d="M49.3 438.4h0M49.3 464.1h0M49.3 472.6h0M49.3 481.2h0M63.0 472.6h0M63.0 481.2h0M69.9 446.9h0M83.6 438.4h0M138.5 429.8h0M179.6 438.4h0M186.5 429.8h0M227.7 429.8h0M234.5 429.8h0M234.5 472.6h0M241.4 429.8h0M241.4 438.4h0M268.8 438.4h0M268.8 446.9h0M268.8 481.2h0M275.7 481.2h0M76.7 498.4h0M76.7 515.5h0M76.7 524.1h0M76.7 532.6h0M76.7 541.2h0M76.7 549.8h0M76.7 558.4h0M76.7 566.9h0M76.7 575.5h0M138.5 506.9h0M138.5 558.4h0M152.2 524.1h0M165.9 524.1h0M227.7 506.9h0M227.7 515.5h0M227.7 524.1h0M227.7 532.6h0M227.7 566.9h0M227.7 575.5h0M234.5 524.1h0M248.2 506.9h0M248.2 515.5h0M248.2 558.4h0M275.7 558.4h0M289.4 515.5h0" stroke="#4a4fb3" stroke-width="1.00" stroke-linecap="round" fill="none"/><path d="M56.2 429.8h0M56.2 446.9h0M56.2 464.1h0M56.2 472.6h0M63.0 438.4h0M63.0 455.5h0M69.9 438.4h0M69.9 464.1h0M69.9 472.6h0M69.9 481.2h0M76.7 464.1h0M76.7 481.2h0M97.3 481.2h0M131.6 429.8h0M131.6 446.9h0M145.3 429.8h0M145.3 438.4h0M145.3 446.9h0M145.3 455.5h0M145.3 464.1h0M145.3 481.2h0M172.8 429.8h0M172.8 455.5h0M179.6 455.5h0M179.6 464.1h0M179.6 481.2h0M186.5 438.4h0M186.5 472.6h0M220.8 438.4h0M220.8 464.1h0M220.8 472.6h0M220.8 481.2h0M227.7 446.9h0M227.7 455.5h0M227.7 472.6h0M234.5 446.9h0M234.5 481.2h0M268.8 472.6h0M282.5 455.5h0M49.3 498.4h0M49.3 524.1h0M63.0 489.8h0M63.0 498.4h0M63.0 524.1h0M63.0 532.6h0M76.7 489.8h0M76.7 506.9h0M83.6 489.8h0M83.6 498.4h0M83.6 506.9h0M83.6 515.5h0M83.6 524.1h0M83.6 532.6h0M83.6 549.8h0M97.3 549.8h0M97.3 558.4h0M97.3 566.9h0M97.3 575.5h0M138.5 549.8h0M152.2 498.4h0M152.2 506.9h0M152.2 515.5h0M165.9 489.8h0M165.9 498.4h0M165.9 506.9h0M165.9 515.5h0M165.9 532.6h0M165.9 549.8h0M165.9 575.5h0M220.8 498.4h0M220.8 524.1h0M227.7 489.8h0M227.7 498.4h0M227.7 541.2h0M227.7 549.8h0M227.7 558.4h0M234.5 498.4h0M234.5 506.9h0M234.5 515.5h0M248.2 489.8h0M248.2 498.4h0M248.2 532.6h0M248.2 549.8h0M248.2 566.9h0M248.2 575.5h0M275.7 549.8h0M282.5 498.4h0M289.4 498.4h0" stroke="#4a4fb3" stroke-width="1.80" stroke-linecap="round" fill="none"/><path d="M56.2 434.1h0M56.2 451.2h0M124.8 425.5h0M124.8 442.6h0M124.8 451.2h0M124.8 476.9h0M131.6 434.1h0M138.5 442.6h0M145.3 468.4h0M172.8 434.1h0M193.4 425.5h0M193.4 434.1h0M193.4 459.8h0M193.4 468.4h0M193.4 476.9h0M241.4 459.8h0M241.4 468.4h0M49.3 485.5h0M49.3 502.6h0M49.3 511.2h0M49.3 536.9h0M49.3 545.5h0M49.3 562.7h0M56.2 502.6h0M56.2 511.2h0M56.2 545.5h0M56.2 554.1h0M56.2 562.7h0M56.2 571.2h0M69.9 485.5h0M69.9 502.6h0M69.9 511.2h0M69.9 528.4h0M69.9 536.9h0M69.9 545.5h0M69.9 554.1h0M69.9 562.7h0M69.9 571.2h0M83.6 485.5h0M97.3 519.8h0M97.3 528.4h0M145.3 494.1h0M145.3 519.8h0M152.2 485.5h0M152.2 545.5h0M152.2 554.1h0M152.2 562.7h0M159.1 494.1h0M159.1 519.8h0M172.8 485.5h0M172.8 494.1h0M172.8 519.8h0M179.6 485.5h0M179.6 494.1h0M179.6 519.8h0M179.6 528.4h0M186.5 485.5h0M186.5 502.6h0M186.5 511.2h0M186.5 519.8h0M186.5 528.4h0M186.5 536.9h0M186.5 545.5h0M186.5 554.1h0M186.5 562.7h0M186.5 571.2h0M193.4 485.5h0M193.4 494.1h0M193.4 519.8h0M193.4 528.4h0M220.8 485.5h0M241.4 519.8h0M268.8 494.1h0M268.8 519.8h0M282.5 519.8h0M289.4 528.4h0M289.4 545.5h0M289.4 554.1h0M289.4 562.7h0M289.4 571.2h0" stroke="#cbcbcb" stroke-width="2.80" stroke-linecap="round" fill="none"/><path d="M56.2 438.4h0M56.2 455.5h0M131.6 438.4h0M138.5 438.4h0M172.8 438.4h0M241.4 481.2h0M289.4 464.1h0M49.3 515.5h0M56.2 506.9h0M56.2 515.5h0M56.2 549.8h0M56.2 558.4h0M56.2 566.9h0M56.2 575.5h0M69.9 515.5h0M69.9 532.6h0M69.9 541.2h0M69.9 549.8h0M69.9 558.4h0M69.9 566.9h0M69.9 575.5h0M97.3 489.8h0M97.3 498.4h0M97.3 532.6h0M97.3 541.2h0M111.0 489.8h0M111.0 498.4h0M111.0 506.9h0M111.0 515.5h0M111.0 524.1h0M111.0 532.6h0M111.0 541.2h0M111.0 549.8h0M111.0 558.4h0M111.0 566.9h0M111.0 575.5h0M124.8 489.8h0M124.8 498.4h0M124.8 506.9h0M124.8 515.5h0M124.8 524.1h0M124.8 532.6h0M124.8 541.2h0M124.8 549.8h0M124.8 558.4h0M124.8 566.9h0M124.8 575.5h0M131.6 489.8h0M131.6 498.4h0M131.6 506.9h0M131.6 515.5h0M131.6 524.1h0M131.6 532.6h0M131.6 541.2h0M131.6 549.8h0M131.6 558.4h0M131.6 566.9h0M131.6 575.5h0M145.3 489.8h0M145.3 498.4h0M145.3 506.9h0M145.3 515.5h0M145.3 532.6h0M145.3 541.2h0M145.3 549.8h0M145.3 558.4h0M145.3 566.9h0M145.3 575.5h0M152.2 489.8h0M159.1 489.8h0M159.1 498.4h0M159.1 506.9h0M159.1 515.5h0M159.1 532.6h0M159.1 541.2h0M159.1 549.8h0M159.1 558.4h0M159.1 566.9h0M159.1 575.5h0M172.8 489.8h0M172.8 498.4h0M172.8 506.9h0M172.8 515.5h0M172.8 532.6h0M172.8 541.2h0M172.8 549.8h0M172.8 558.4h0M172.8 566.9h0M172.8 575.5h0M179.6 489.8h0M179.6 498.4h0M179.6 506.9h0M179.6 515.5h0M179.6 541.2h0M179.6 549.8h0M179.6 558.4h0M179.6 566.9h0M179.6 575.5h0M186.5 489.8h0M186.5 506.9h0M186.5 515.5h0M186.5 541.2h0M186.5 549.8h0M186.5 558.4h0M186.5 566.9h0M186.5 575.5h0M241.4 489.8h0M241.4 498.4h0M241.4 506.9h0M241.4 515.5h0M241.4 532.6h0M241.4 541.2h0M241.4 549.8h0M241.4 558.4h0M241.4 566.9h0M241.4 575.5h0M268.8 489.8h0M268.8 506.9h0M268.8 515.5h0M268.8 532.6h0M268.8 541.2h0M268.8 549.8h0M268.8 558.4h0M268.8 566.9h0M268.8 575.5h0M282.5 489.8h0M282.5 506.9h0M282.5 515.5h0M282.5 532.6h0M282.5 541.2h0M282.5 549.8h0M282.5 558.4h0M282.5 566.9h0M282.5 575.5h0" stroke="#4a4fb3" stroke-width="4.10" stroke-linecap="round" fill="none"/><path d="M69.9 476.9h0M76.7 459.8h0M76.7 468.4h0M76.7 476.9h0M111.0 434.1h0M131.6 442.6h0M131.6 459.8h0M131.6 468.4h0M131.6 476.9h0M172.8 442.6h0M172.8 459.8h0M172.8 468.4h0M172.8 476.9h0M179.6 459.8h0M179.6 468.4h0M179.6 476.9h0M193.4 442.6h0M227.7 434.1h0M227.7 459.8h0M227.7 476.9h0M234.5 434.1h0M234.5 476.9h0M268.8 468.4h0M268.8 476.9h0M49.3 494.1h0M49.3 519.8h0M49.3 528.4h0M49.3 554.1h0M49.3 571.2h0M56.2 485.5h0M56.2 494.1h0M56.2 519.8h0M56.2 528.4h0M56.2 536.9h0M63.0 502.6h0M63.0 511.2h0M63.0 528.4h0M63.0 536.9h0M63.0 545.5h0M63.0 554.1h0M63.0 562.7h0M63.0 571.2h0M69.9 494.1h0M69.9 519.8h0M83.6 494.1h0M83.6 502.6h0M83.6 511.2h0M83.6 519.8h0M83.6 528.4h0M83.6 536.9h0M83.6 545.5h0M83.6 554.1h0M83.6 562.7h0M83.6 571.2h0M97.3 502.6h0M97.3 511.2h0M97.3 562.7h0M152.2 494.1h0M152.2 502.6h0M152.2 511.2h0M152.2 528.4h0M152.2 536.9h0M152.2 571.2h0M165.9 502.6h0M165.9 528.4h0M165.9 536.9h0M165.9 545.5h0M165.9 554.1h0M165.9 562.7h0M165.9 571.2h0M186.5 494.1h0M220.8 494.1h0M220.8 502.6h0M220.8 511.2h0M220.8 528.4h0M220.8 536.9h0M220.8 545.5h0M220.8 554.1h0M220.8 562.7h0M220.8 571.2h0M234.5 485.5h0M234.5 494.1h0M234.5 502.6h0M234.5 528.4h0M234.5 536.9h0M234.5 545.5h0M234.5 554.1h0M234.5 562.7h0M234.5 571.2h0M248.2 494.1h0M282.5 494.1h0M289.4 494.1h0" stroke="#cbcbcb" stroke-width="1.80" stroke-linecap="round" fill="none"/><path d="M76.7 472.6h0M131.6 455.5h0M131.6 464.1h0M131.6 472.6h0M131.6 481.2h0M138.5 446.9h0M145.3 472.6h0M172.8 446.9h0M172.8 464.1h0M172.8 472.6h0M172.8 481.2h0M179.6 472.6h0M227.7 438.4h0M227.7 464.1h0M227.7 481.2h0M234.5 438.4h0M241.4 464.1h0M241.4 472.6h0M49.3 489.8h0M49.3 506.9h0M49.3 532.6h0M49.3 541.2h0M49.3 549.8h0M49.3 558.4h0M49.3 566.9h0M49.3 575.5h0M56.2 489.8h0M56.2 498.4h0M56.2 524.1h0M56.2 532.6h0M56.2 541.2h0M63.0 506.9h0M63.0 515.5h0M63.0 541.2h0M63.0 549.8h0M63.0 558.4h0M63.0 566.9h0M63.0 575.5h0M69.9 489.8h0M69.9 498.4h0M69.9 506.9h0M69.9 524.1h0M83.6 541.2h0M83.6 558.4h0M83.6 566.9h0M83.6 575.5h0M97.3 506.9h0M97.3 515.5h0M97.3 524.1h0M145.3 524.1h0M152.2 532.6h0M152.2 541.2h0M152.2 549.8h0M152.2 558.4h0M152.2 566.9h0M152.2 575.5h0M159.1 524.1h0M165.9 541.2h0M165.9 558.4h0M165.9 566.9h0M172.8 524.1h0M179.6 524.1h0M179.6 532.6h0M186.5 498.4h0M186.5 524.1h0M186.5 532.6h0M220.8 489.8h0M220.8 506.9h0M220.8 515.5h0M220.8 532.6h0M220.8 541.2h0M220.8 549.8h0M220.8 558.4h0M220.8 566.9h0M220.8 575.5h0M234.5 489.8h0M234.5 532.6h0M234.5 541.2h0M234.5 549.8h0M234.5 558.4h0M234.5 566.9h0M234.5 575.5h0M241.4 524.1h0M248.2 541.2h0M268.8 498.4h0M268.8 524.1h0M282.5 524.1h0M289.4 532.6h0M289.4 549.8h0M289.4 558.4h0M289.4 566.9h0M289.4 575.5h0" stroke="#4a4fb3" stroke-width="2.80" stroke-linecap="round" fill="none"/><path d="M111.0 429.8h0M111.0 455.5h0M111.0 481.2h0" stroke="#7b78c6" stroke-width="1.00" stroke-linecap="round" fill="none"/><path d="M111.0 438.4h0M111.0 446.9h0M111.0 464.1h0M111.0 472.6h0M193.4 455.5h0" stroke="#7b78c6" stroke-width="1.80" stroke-linecap="round" fill="none"/><path d="M124.8 429.8h0M124.8 446.9h0M124.8 455.5h0M124.8 481.2h0" stroke="#a5a2d6" stroke-width="2.80" stroke-linecap="round" fill="none"/><path d="M124.8 434.1h0M124.8 459.8h0M124.8 468.4h0M138.5 434.1h0M241.4 476.9h0M289.4 459.8h0M97.3 485.5h0M97.3 494.1h0M97.3 536.9h0M111.0 485.5h0M111.0 494.1h0M111.0 502.6h0M111.0 511.2h0M111.0 519.8h0M111.0 528.4h0M111.0 536.9h0M111.0 545.5h0M111.0 554.1h0M111.0 562.7h0M111.0 571.2h0M124.8 485.5h0M124.8 494.1h0M124.8 502.6h0M124.8 511.2h0M124.8 519.8h0M124.8 528.4h0M124.8 536.9h0M124.8 545.5h0M124.8 554.1h0M124.8 562.7h0M124.8 571.2h0M131.6 485.5h0M131.6 494.1h0M131.6 502.6h0M131.6 511.2h0M131.6 519.8h0M131.6 528.4h0M131.6 536.9h0M131.6 545.5h0M131.6 554.1h0M131.6 562.7h0M131.6 571.2h0M145.3 485.5h0M145.3 502.6h0M145.3 511.2h0M145.3 528.4h0M145.3 536.9h0M145.3 545.5h0M145.3 554.1h0M145.3 562.7h0M145.3 571.2h0M159.1 485.5h0M159.1 502.6h0M159.1 511.2h0M159.1 528.4h0M159.1 536.9h0M159.1 545.5h0M159.1 554.1h0M159.1 562.7h0M159.1 571.2h0M172.8 502.6h0M172.8 511.2h0M172.8 528.4h0M172.8 536.9h0M172.8 545.5h0M172.8 554.1h0M172.8 562.7h0M172.8 571.2h0M179.6 502.6h0M179.6 511.2h0M179.6 536.9h0M179.6 545.5h0M179.6 554.1h0M179.6 562.7h0M179.6 571.2h0M193.4 502.6h0M193.4 511.2h0M193.4 536.9h0M193.4 545.5h0M193.4 554.1h0M193.4 562.7h0M193.4 571.2h0M241.4 485.5h0M241.4 494.1h0M241.4 502.6h0M241.4 511.2h0M241.4 528.4h0M241.4 536.9h0M241.4 545.5h0M241.4 554.1h0M241.4 562.7h0M241.4 571.2h0M268.8 485.5h0M268.8 502.6h0M268.8 511.2h0M268.8 528.4h0M268.8 536.9h0M268.8 545.5h0M268.8 554.1h0M268.8 562.7h0M268.8 571.2h0M282.5 485.5h0M282.5 502.6h0M282.5 511.2h0M282.5 528.4h0M282.5 536.9h0M282.5 545.5h0M282.5 554.1h0M282.5 562.7h0M282.5 571.2h0" stroke="#cbcbcb" stroke-width="4.10" stroke-linecap="round" fill="none"/><path d="M124.8 438.4h0M124.8 464.1h0M124.8 472.6h0" stroke="#a5a2d6" stroke-width="4.10" stroke-linecap="round" fill="none"/><path d="M193.4 429.8h0M193.4 446.9h0M193.4 524.1h0M193.4 532.6h0" stroke="#7b78c6" stroke-width="2.80" stroke-linecap="round" fill="none"/><path d="M193.4 438.4h0M193.4 464.1h0M193.4 472.6h0M193.4 481.2h0M193.4 489.8h0M193.4 498.4h0M193.4 506.9h0M193.4 515.5h0M193.4 541.2h0M193.4 549.8h0M193.4 558.4h0M193.4 566.9h0M193.4 575.5h0" stroke="#7b78c6" stroke-width="4.10" stroke-linecap="round" fill="none"/>
<text x="50.70" y="582.2" font-size="4.3" font-weight="bold" fill="#333" text-anchor="end" transform="rotate(-45 50.70 582.2)">TUBGCP5</text>
<text x="57.56" y="582.2" font-size="4.3" font-weight="bold" fill="#333" text-anchor="end" transform="rotate(-45 57.56 582.2)">CYFIP1</text>
<text x="64.42" y="582.2" font-size="4.3" font-weight="bold" fill="#333" text-anchor="end" transform="rotate(-45 64.42 582.2)">NIPA2</text>
<text x="71.28" y="582.2" font-size="4.3" font-weight="bold" fill="#333" text-anchor="end" transform="rotate(-45 71.28 582.2)">NIPA1</text>
<text x="78.14" y="582.2" font-size="4.3" font-weight="bold" fill="#333" text-anchor="end" transform="rotate(-45 78.14 582.2)">MKRN3</text>
<text x="85.00" y="582.2" font-size="4.3" font-weight="bold" fill="#333" text-anchor="end" transform="rotate(-45 85.00 582.2)">NDN</text>
<text x="91.86" y="582.2" font-size="4.3" font-weight="bold" fill="#333" text-anchor="end" transform="rotate(-45 91.86 582.2)">PWRN2</text>
<text x="98.72" y="582.2" font-size="4.3" font-weight="bold" fill="#333" text-anchor="end" transform="rotate(-45 98.72 582.2)">PWRN1</text>
<text x="105.58" y="582.2" font-size="4.3" font-weight="bold" fill="#333" text-anchor="end" transform="rotate(-45 105.58 582.2)">NPAP1</text>
<text x="112.44" y="582.2" font-size="4.3" font-weight="bold" fill="#333" text-anchor="end" transform="rotate(-45 112.44 582.2)">SNRPN</text>
<text x="119.30" y="582.2" font-size="4.3" font-weight="bold" fill="#333" text-anchor="end" transform="rotate(-45 119.30 582.2)">SNURF</text>
<text x="126.16" y="582.2" font-size="4.3" font-weight="bold" fill="#333" text-anchor="end" transform="rotate(-45 126.16 582.2)">SNHG14</text>
<text x="133.02" y="582.2" font-size="4.3" font-weight="bold" fill="#333" text-anchor="end" transform="rotate(-45 133.02 582.2)">UBE3A</text>
<text x="139.88" y="582.2" font-size="4.3" font-weight="bold" fill="#333" text-anchor="end" transform="rotate(-45 139.88 582.2)">ATP10A</text>
<text x="146.74" y="582.2" font-size="4.3" font-weight="bold" fill="#333" text-anchor="end" transform="rotate(-45 146.74 582.2)">GABRB3</text>
<text x="153.60" y="582.2" font-size="4.3" font-weight="bold" fill="#333" text-anchor="end" transform="rotate(-45 153.60 582.2)">GABRA5</text>
<text x="160.46" y="582.2" font-size="4.3" font-weight="bold" fill="#333" text-anchor="end" transform="rotate(-45 160.46 582.2)">GABRG3</text>
<text x="167.32" y="582.2" font-size="4.3" font-weight="bold" fill="#333" text-anchor="end" transform="rotate(-45 167.32 582.2)">OCA2</text>
<text x="174.18" y="582.2" font-size="4.3" font-weight="bold" fill="#333" text-anchor="end" transform="rotate(-45 174.18 582.2)">HERC2</text>
<text x="181.04" y="582.2" font-size="4.3" font-weight="bold" fill="#333" text-anchor="end" transform="rotate(-45 181.04 582.2)">APBA2</text>
<text x="187.90" y="582.2" font-size="4.3" font-weight="bold" fill="#333" text-anchor="end" transform="rotate(-45 187.90 582.2)">FAM189A1</text>
<text x="194.76" y="582.2" font-size="4.3" font-weight="bold" fill="#333" text-anchor="end" transform="rotate(-45 194.76 582.2)">TJP1</text>
<text x="201.62" y="582.2" font-size="4.3" font-weight="bold" fill="#333" text-anchor="end" transform="rotate(-45 201.62 582.2)">CHRFAM7A</text>
<text x="208.48" y="582.2" font-size="4.3" font-weight="bold" fill="#333" text-anchor="end" transform="rotate(-45 208.48 582.2)">GOLGA8R</text>
<text x="215.34" y="582.2" font-size="4.3" font-weight="bold" fill="#333" text-anchor="end" transform="rotate(-45 215.34 582.2)">ARHGAP11B</text>
<text x="222.20" y="582.2" font-size="4.3" font-weight="bold" fill="#333" text-anchor="end" transform="rotate(-45 222.20 582.2)">FAN1</text>
<text x="229.06" y="582.2" font-size="4.3" font-weight="bold" fill="#333" text-anchor="end" transform="rotate(-45 229.06 582.2)">MTMR10</text>
<text x="235.92" y="582.2" font-size="4.3" font-weight="bold" fill="#333" text-anchor="end" transform="rotate(-45 235.92 582.2)">KLF13</text>
<text x="242.78" y="582.2" font-size="4.3" font-weight="bold" fill="#333" text-anchor="end" transform="rotate(-45 242.78 582.2)">OTUD7A</text>
<text x="249.64" y="582.2" font-size="4.3" font-weight="bold" fill="#333" text-anchor="end" transform="rotate(-45 249.64 582.2)">CHRNA7</text>
<text x="256.50" y="582.2" font-size="4.3" font-weight="bold" fill="#333" text-anchor="end" transform="rotate(-45 256.50 582.2)">GOLGA8N</text>
<text x="263.36" y="582.2" font-size="4.3" font-weight="bold" fill="#333" text-anchor="end" transform="rotate(-45 263.36 582.2)">ARHGAP11A</text>
<text x="270.22" y="582.2" font-size="4.3" font-weight="bold" fill="#333" text-anchor="end" transform="rotate(-45 270.22 582.2)">SCG5</text>
<text x="277.08" y="582.2" font-size="4.3" font-weight="bold" fill="#333" text-anchor="end" transform="rotate(-45 277.08 582.2)">GREM1</text>
<text x="283.94" y="582.2" font-size="4.3" font-weight="bold" fill="#333" text-anchor="end" transform="rotate(-45 283.94 582.2)">FMN1</text>
<text x="290.80" y="582.2" font-size="4.3" font-weight="bold" fill="#333" text-anchor="end" transform="rotate(-45 290.80 582.2)">RYR3</text>
<text x="170" y="605.6" font-size="4.3" text-anchor="middle" fill="#333">Genes</text>
<text x="4.4" y="497.5" font-size="4.3" fill="#333" text-anchor="middle" transform="rotate(-90 4.4 497.5)">Cell Type</text>
<text x="300" y="490" font-size="4.1" fill="#222">Percent Expressed</text>
<circle cx="303" cy="494.3" r="0.6" fill="#111"/>
<text x="307.3" y="495.5" font-size="3.6" fill="#333">10</text>
<circle cx="303" cy="500" r="1.1" fill="#111"/>
<text x="307.3" y="501.2" font-size="3.6" fill="#333">40</text>
<circle cx="303" cy="505.8" r="1.6" fill="#111"/>
<text x="307.3" y="507.0" font-size="3.6" fill="#333">60</text>
<circle cx="303" cy="512" r="2.1" fill="#111"/>
<text x="307.3" y="513.2" font-size="3.6" fill="#333">100</text>
<text x="301" y="526.5" font-size="5.6" fill="#333">Average Expression</text>
<defs><linearGradient id="cb301" x1="0" x2="0" y1="0" y2="1"><stop offset="0" stop-color="#5553b4"/><stop offset="0.5" stop-color="#9b95cf"/><stop offset="1" stop-color="#e3e1ea"/></linearGradient></defs>
<rect x="301" y="529.5" width="8" height="39.5" fill="url(#cb301)"/>
<text x="311.3" y="533.8" font-size="3.7" fill="#333">2</text>
<text x="311.3" y="542.3" font-size="3.7" fill="#333">1</text>
<text x="311.3" y="550.8" font-size="3.7" fill="#333">0</text>
<text x="311.3" y="559.3" font-size="3.7" fill="#333">-1</text>
<text x="311.3" y="568.3" font-size="3.7" fill="#333">-2</text>
<text x="501.5" y="402.2" font-size="9.2" text-anchor="middle" fill="#000">Organoid cell-type specific average gene</text>
<text x="501.5" y="413.1" font-size="9.2" text-anchor="middle" fill="#000">expression of the PWACR genes</text>
<text x="384.3" y="428.75" font-size="4.5" font-weight="bold" text-anchor="end" fill="#4a4a4a">Div_prog_Control</text>
<text x="384.3" y="435.75" font-size="4.5" font-weight="bold" text-anchor="end" fill="#4a4a4a">Div_prog_Dup15q</text>
<text x="384.3" y="442.75" font-size="4.5" font-weight="bold" text-anchor="end" fill="#4a4a4a">Early_RGC_Control</text>
<text x="384.3" y="449.75" font-size="4.5" font-weight="bold" text-anchor="end" fill="#4a4a4a">Early_RGC_Dup15q</text>
<text x="384.3" y="456.75" font-size="4.5" font-weight="bold" text-anchor="end" fill="#4a4a4a">Late_RGC_Control</text>
<text x="384.3" y="463.75" font-size="4.5" font-weight="bold" text-anchor="end" fill="#4a4a4a">Late_RGC_Dup15q</text>
<text x="384.3" y="470.75" font-size="4.5" font-weight="bold" text-anchor="end" fill="#4a4a4a">Imm_AST_Control</text>
<text x="384.3" y="477.75" font-size="4.5" font-weight="bold" text-anchor="end" fill="#4a4a4a">Imm_AST_Dup15q</text>
<text x="384.3" y="484.75" font-size="4.5" font-weight="bold" text-anchor="end" fill="#4a4a4a">AST_Control</text>
<text x="384.3" y="491.75" font-size="4.5" font-weight="bold" text-anchor="end" fill="#4a4a4a">AST_Dup15q</text>
<text x="384.3" y="498.75" font-size="4.5" font-weight="bold" text-anchor="end" fill="#4a4a4a">IPCs_Control</text>
<text x="384.3" y="505.75" font-size="4.5" font-weight="bold" text-anchor="end" fill="#4a4a4a">IPCs_Dup15q</text>
<text x="384.3" y="512.75" font-size="4.5" font-weight="bold" text-anchor="end" fill="#4a4a4a">Imm_Neu_Control</text>
<text x="384.3" y="519.75" font-size="4.5" font-weight="bold" text-anchor="end" fill="#4a4a4a">Imm_Neu_Dup15q</text>
<text x="384.3" y="526.75" font-size="4.5" font-weight="bold" text-anchor="end" fill="#4a4a4a">L5_6_Control</text>
<text x="384.3" y="533.75" font-size="4.5" font-weight="bold" text-anchor="end" fill="#4a4a4a">L5_6_Dup15q</text>
<text x="384.3" y="540.75" font-size="4.5" font-weight="bold" text-anchor="end" fill="#4a4a4a">L4_Control</text>
<text x="384.3" y="547.75" font-size="4.5" font-weight="bold" text-anchor="end" fill="#4a4a4a">L4_Dup15q</text>
<text x="384.3" y="554.75" font-size="4.5" font-weight="bold" text-anchor="end" fill="#4a4a4a">L2_4_Control</text>
<text x="384.3" y="561.75" font-size="4.5" font-weight="bold" text-anchor="end" fill="#4a4a4a">L2_4_Dup15q</text>
<text x="384.3" y="568.75" font-size="4.5" font-weight="bold" text-anchor="end" fill="#4a4a4a">L2_3_Control</text>
<text x="384.3" y="575.75" font-size="4.5" font-weight="bold" text-anchor="end" fill="#4a4a4a">L2_3_Dup15q</text>
<path d="M390.0 427.2h0M396.8 427.2h0M403.5 427.2h0M511.5 427.2h0M518.2 427.2h0M531.8 427.2h0M572.2 427.2h0M599.2 427.2h0M471.0 441.2h0M511.5 441.2h0M518.2 441.2h0M572.2 441.2h0M423.8 455.2h0M471.0 455.2h0M511.5 455.2h0M518.2 455.2h0M572.2 455.2h0M403.5 469.2h0M511.5 469.2h0M518.2 469.2h0M531.8 469.2h0M572.2 469.2h0M403.5 483.2h0M484.5 483.2h0M423.8 497.2h0M471.0 497.2h0M511.5 497.2h0M518.2 497.2h0M572.2 497.2h0M423.8 511.2h0M450.8 511.2h0M484.5 511.2h0M511.5 511.2h0M403.5 525.2h0M558.8 525.2h0M606.0 525.2h0M396.8 539.2h0M403.5 539.2h0M525.0 539.2h0M531.8 539.2h0M572.2 553.2h0M403.5 567.2h0M484.5 567.2h0M511.5 567.2h0M518.2 567.2h0M572.2 567.2h0" stroke="#cbcbcb" stroke-width="1.00" stroke-linecap="round" fill="none"/><path d="M423.8 427.2h0M464.2 427.2h0M471.0 427.2h0M450.8 441.2h0M464.2 441.2h0M450.8 455.2h0M464.2 455.2h0M396.8 469.2h0M423.8 469.2h0M464.2 469.2h0M471.0 469.2h0M396.8 483.2h0M471.0 483.2h0M511.5 483.2h0M518.2 483.2h0M572.2 483.2h0M464.2 497.2h0M484.5 525.2h0M511.5 525.2h0M518.2 525.2h0M572.2 525.2h0M518.2 539.2h0M572.2 539.2h0M423.8 553.2h0M471.0 553.2h0M484.5 553.2h0M511.5 553.2h0M518.2 553.2h0M423.8 567.2h0M471.0 567.2h0" stroke="#cbcbcb" stroke-width="1.80" stroke-linecap="round" fill="none"/><path d="M450.8 427.2h0M423.8 441.2h0M450.8 469.2h0M423.8 483.2h0M464.2 483.2h0M531.8 483.2h0M450.8 497.2h0M464.2 511.2h0M423.8 525.2h0M471.0 525.2h0M423.8 539.2h0M471.0 539.2h0M484.5 539.2h0M511.5 539.2h0M464.2 553.2h0M464.2 567.2h0" stroke="#cbcbcb" stroke-width="2.80" stroke-linecap="round" fill="none"/><path d="M396.8 434.2h0M403.5 434.2h0M423.8 434.2h0M464.2 434.2h0M511.5 434.2h0M518.2 434.2h0M531.8 434.2h0M572.2 434.2h0M599.2 434.2h0M390.0 448.2h0M396.8 448.2h0M403.5 448.2h0M518.2 448.2h0M558.8 448.2h0M423.8 462.2h0M511.5 462.2h0M518.2 462.2h0M531.8 462.2h0M572.2 462.2h0M390.0 476.2h0M410.2 476.2h0M558.8 476.2h0M390.0 490.2h0M410.2 490.2h0M558.8 490.2h0M565.5 490.2h0M396.8 504.2h0M403.5 504.2h0M484.5 504.2h0M471.0 518.2h0M484.5 518.2h0M511.5 518.2h0M572.2 518.2h0M390.0 532.2h0M396.8 532.2h0M410.2 532.2h0M491.2 532.2h0M498.0 532.2h0M525.0 532.2h0M558.8 532.2h0M390.0 546.2h0M491.2 546.2h0M525.0 546.2h0M558.8 546.2h0M579.0 546.2h0M606.0 546.2h0M390.0 560.2h0M396.8 560.2h0M410.2 560.2h0M396.8 574.2h0" stroke="#4a4fb3" stroke-width="1.00" stroke-linecap="round" fill="none"/><path d="M450.8 434.2h0" stroke="#7b78c6" stroke-width="1.80" stroke-linecap="round" fill="none"/><path d="M471.0 434.2h0M511.5 448.2h0M531.8 448.2h0M572.2 448.2h0M450.8 462.2h0M464.2 462.2h0M471.0 462.2h0M403.5 476.2h0M511.5 476.2h0M518.2 476.2h0M572.2 476.2h0M423.8 504.2h0M511.5 504.2h0M518.2 504.2h0M572.2 504.2h0M423.8 518.2h0M450.8 518.2h0M464.2 518.2h0M403.5 532.2h0M396.8 546.2h0M410.2 546.2h0M531.8 546.2h0M572.2 546.2h0M403.5 560.2h0M511.5 560.2h0M572.2 560.2h0M403.5 574.2h0M423.8 574.2h0M484.5 574.2h0M511.5 574.2h0M518.2 574.2h0M572.2 574.2h0" stroke="#4a4fb3" stroke-width="1.80" stroke-linecap="round" fill="none"/><path d="M423.8 448.2h0M396.8 490.2h0M531.8 490.2h0M450.8 532.2h0M464.2 532.2h0M471.0 532.2h0M423.8 546.2h0M450.8 546.2h0M464.2 546.2h0M471.0 546.2h0M484.5 546.2h0M518.2 546.2h0M450.8 560.2h0M450.8 574.2h0" stroke="#4a4fb3" stroke-width="4.10" stroke-linecap="round" fill="none"/><path d="M450.8 448.2h0" stroke="#a5a2d6" stroke-width="2.80" stroke-linecap="round" fill="none"/><path d="M464.2 448.2h0M464.2 476.2h0M423.8 490.2h0" stroke="#7b78c6" stroke-width="2.80" stroke-linecap="round" fill="none"/><path d="M471.0 448.2h0M396.8 476.2h0M423.8 476.2h0M471.0 476.2h0M531.8 476.2h0M403.5 490.2h0M471.0 490.2h0M511.5 490.2h0M518.2 490.2h0M572.2 490.2h0M450.8 504.2h0M464.2 504.2h0M471.0 504.2h0M423.8 532.2h0M484.5 532.2h0M511.5 532.2h0M518.2 532.2h0M572.2 532.2h0M606.0 532.2h0M403.5 546.2h0M511.5 546.2h0M423.8 560.2h0M464.2 560.2h0M471.0 560.2h0M484.5 560.2h0M518.2 560.2h0M464.2 574.2h0M471.0 574.2h0" stroke="#4a4fb3" stroke-width="2.80" stroke-linecap="round" fill="none"/><path d="M450.8 476.2h0M450.8 490.2h0M464.2 490.2h0" stroke="#a5a2d6" stroke-width="4.10" stroke-linecap="round" fill="none"/><path d="M450.8 483.2h0M450.8 525.2h0M464.2 525.2h0M450.8 539.2h0M464.2 539.2h0M450.8 553.2h0M450.8 567.2h0" stroke="#cbcbcb" stroke-width="4.10" stroke-linecap="round" fill="none"/>
<text x="392.40" y="582.4" font-size="4.3" font-weight="bold" fill="#333" text-anchor="end" transform="rotate(-45 392.40 582.4)">TUBGCP5</text>
<text x="399.15" y="582.4" font-size="4.3" font-weight="bold" fill="#333" text-anchor="end" transform="rotate(-45 399.15 582.4)">CYFIP1</text>
<text x="405.90" y="582.4" font-size="4.3" font-weight="bold" fill="#333" text-anchor="end" transform="rotate(-45 405.90 582.4)">NIPA2</text>
<text x="412.65" y="582.4" font-size="4.3" font-weight="bold" fill="#333" text-anchor="end" transform="rotate(-45 412.65 582.4)">NIPA1</text>
<text x="419.40" y="582.4" font-size="4.3" font-weight="bold" fill="#333" text-anchor="end" transform="rotate(-45 419.40 582.4)">MKRN3</text>
<text x="426.15" y="582.4" font-size="4.3" font-weight="bold" fill="#333" text-anchor="end" transform="rotate(-45 426.15 582.4)">NDN</text>
<text x="432.90" y="582.4" font-size="4.3" font-weight="bold" fill="#333" text-anchor="end" transform="rotate(-45 432.90 582.4)">PWRN2</text>
<text x="439.65" y="582.4" font-size="4.3" font-weight="bold" fill="#333" text-anchor="end" transform="rotate(-45 439.65 582.4)">PWRN1</text>
<text x="446.40" y="582.4" font-size="4.3" font-weight="bold" fill="#333" text-anchor="end" transform="rotate(-45 446.40 582.4)">NPAP1</text>
<text x="453.15" y="582.4" font-size="4.3" font-weight="bold" fill="#333" text-anchor="end" transform="rotate(-45 453.15 582.4)">SNRPN</text>
<text x="459.90" y="582.4" font-size="4.3" font-weight="bold" fill="#333" text-anchor="end" transform="rotate(-45 459.90 582.4)">SNURF</text>
<text x="466.65" y="582.4" font-size="4.3" font-weight="bold" fill="#333" text-anchor="end" transform="rotate(-45 466.65 582.4)">SNHG14</text>
<text x="473.40" y="582.4" font-size="4.3" font-weight="bold" fill="#333" text-anchor="end" transform="rotate(-45 473.40 582.4)">UBE3A</text>
<text x="480.15" y="582.4" font-size="4.3" font-weight="bold" fill="#333" text-anchor="end" transform="rotate(-45 480.15 582.4)">ATP10A</text>
<text x="486.90" y="582.4" font-size="4.3" font-weight="bold" fill="#333" text-anchor="end" transform="rotate(-45 486.90 582.4)">GABRB3</text>
<text x="493.65" y="582.4" font-size="4.3" font-weight="bold" fill="#333" text-anchor="end" transform="rotate(-45 493.65 582.4)">GABRA5</text>
<text x="500.40" y="582.4" font-size="4.3" font-weight="bold" fill="#333" text-anchor="end" transform="rotate(-45 500.40 582.4)">GABRG3</text>
<text x="507.15" y="582.4" font-size="4.3" font-weight="bold" fill="#333" text-anchor="end" transform="rotate(-45 507.15 582.4)">OCA2</text>
<text x="513.90" y="582.4" font-size="4.3" font-weight="bold" fill="#333" text-anchor="end" transform="rotate(-45 513.90 582.4)">HERC2</text>
<text x="520.65" y="582.4" font-size="4.3" font-weight="bold" fill="#333" text-anchor="end" transform="rotate(-45 520.65 582.4)">APBA2</text>
<text x="527.40" y="582.4" font-size="4.3" font-weight="bold" fill="#333" text-anchor="end" transform="rotate(-45 527.40 582.4)">FAM189A1</text>
<text x="534.15" y="582.4" font-size="4.3" font-weight="bold" fill="#333" text-anchor="end" transform="rotate(-45 534.15 582.4)">TJP1</text>
<text x="540.90" y="582.4" font-size="4.3" font-weight="bold" fill="#333" text-anchor="end" transform="rotate(-45 540.90 582.4)">CHRFAM7A</text>
<text x="547.65" y="582.4" font-size="4.3" font-weight="bold" fill="#333" text-anchor="end" transform="rotate(-45 547.65 582.4)">GOLGA8R</text>
<text x="554.40" y="582.4" font-size="4.3" font-weight="bold" fill="#333" text-anchor="end" transform="rotate(-45 554.40 582.4)">ARHGAP11B</text>
<text x="561.15" y="582.4" font-size="4.3" font-weight="bold" fill="#333" text-anchor="end" transform="rotate(-45 561.15 582.4)">FAN1</text>
<text x="567.90" y="582.4" font-size="4.3" font-weight="bold" fill="#333" text-anchor="end" transform="rotate(-45 567.90 582.4)">MTMR10</text>
<text x="574.65" y="582.4" font-size="4.3" font-weight="bold" fill="#333" text-anchor="end" transform="rotate(-45 574.65 582.4)">KLF13</text>
<text x="581.40" y="582.4" font-size="4.3" font-weight="bold" fill="#333" text-anchor="end" transform="rotate(-45 581.40 582.4)">OTUD7A</text>
<text x="588.15" y="582.4" font-size="4.3" font-weight="bold" fill="#333" text-anchor="end" transform="rotate(-45 588.15 582.4)">CHRNA7</text>
<text x="594.90" y="582.4" font-size="4.3" font-weight="bold" fill="#333" text-anchor="end" transform="rotate(-45 594.90 582.4)">GOLGA8N</text>
<text x="601.65" y="582.4" font-size="4.3" font-weight="bold" fill="#333" text-anchor="end" transform="rotate(-45 601.65 582.4)">ARHGAP11A</text>
<text x="608.40" y="582.4" font-size="4.3" font-weight="bold" fill="#333" text-anchor="end" transform="rotate(-45 608.40 582.4)">SCG5</text>
<text x="615.15" y="582.4" font-size="4.3" font-weight="bold" fill="#333" text-anchor="end" transform="rotate(-45 615.15 582.4)">GREM1</text>
<text x="621.90" y="582.4" font-size="4.3" font-weight="bold" fill="#333" text-anchor="end" transform="rotate(-45 621.90 582.4)">FMN1</text>
<text x="628.65" y="582.4" font-size="4.3" font-weight="bold" fill="#333" text-anchor="end" transform="rotate(-45 628.65 582.4)">RYR3</text>
<text x="508.5" y="605.6" font-size="4.3" text-anchor="middle" fill="#333">Genes</text>
<text x="341" y="501" font-size="4.3" fill="#333" text-anchor="middle" transform="rotate(-90 341 501)">Cell Type</text>
<text x="636.5" y="492" font-size="4.1" fill="#222">Percent Expressed</text>
<circle cx="639.5" cy="497.5" r="0.6" fill="#111"/>
<text x="643.8" y="498.7" font-size="3.6" fill="#333">40</text>
<circle cx="639.5" cy="503" r="1.2" fill="#111"/>
<text x="643.8" y="504.2" font-size="3.6" fill="#333">60</text>
<circle cx="639.5" cy="509" r="1.8" fill="#111"/>
<text x="643.8" y="510.2" font-size="3.6" fill="#333">80</text>
<text x="634" y="525.5" font-size="5.6" fill="#333">Average Expression</text>
<defs><linearGradient id="cb634" x1="0" x2="0" y1="0" y2="1"><stop offset="0" stop-color="#5553b4"/><stop offset="0.5" stop-color="#9b95cf"/><stop offset="1" stop-color="#e3e1ea"/></linearGradient></defs>
<rect x="634" y="528.5" width="8" height="39.5" fill="url(#cb634)"/>
<text x="644.3" y="533.8" font-size="3.7" fill="#333">2</text>
<text x="644.3" y="542.3" font-size="3.7" fill="#333">1</text>
<text x="644.3" y="550.8" font-size="3.7" fill="#333">0</text>
<text x="644.3" y="559.3" font-size="3.7" fill="#333">-1</text>
<text x="644.3" y="568.3" font-size="3.7" fill="#333">-2</text>
</g>
</svg></body></html>
